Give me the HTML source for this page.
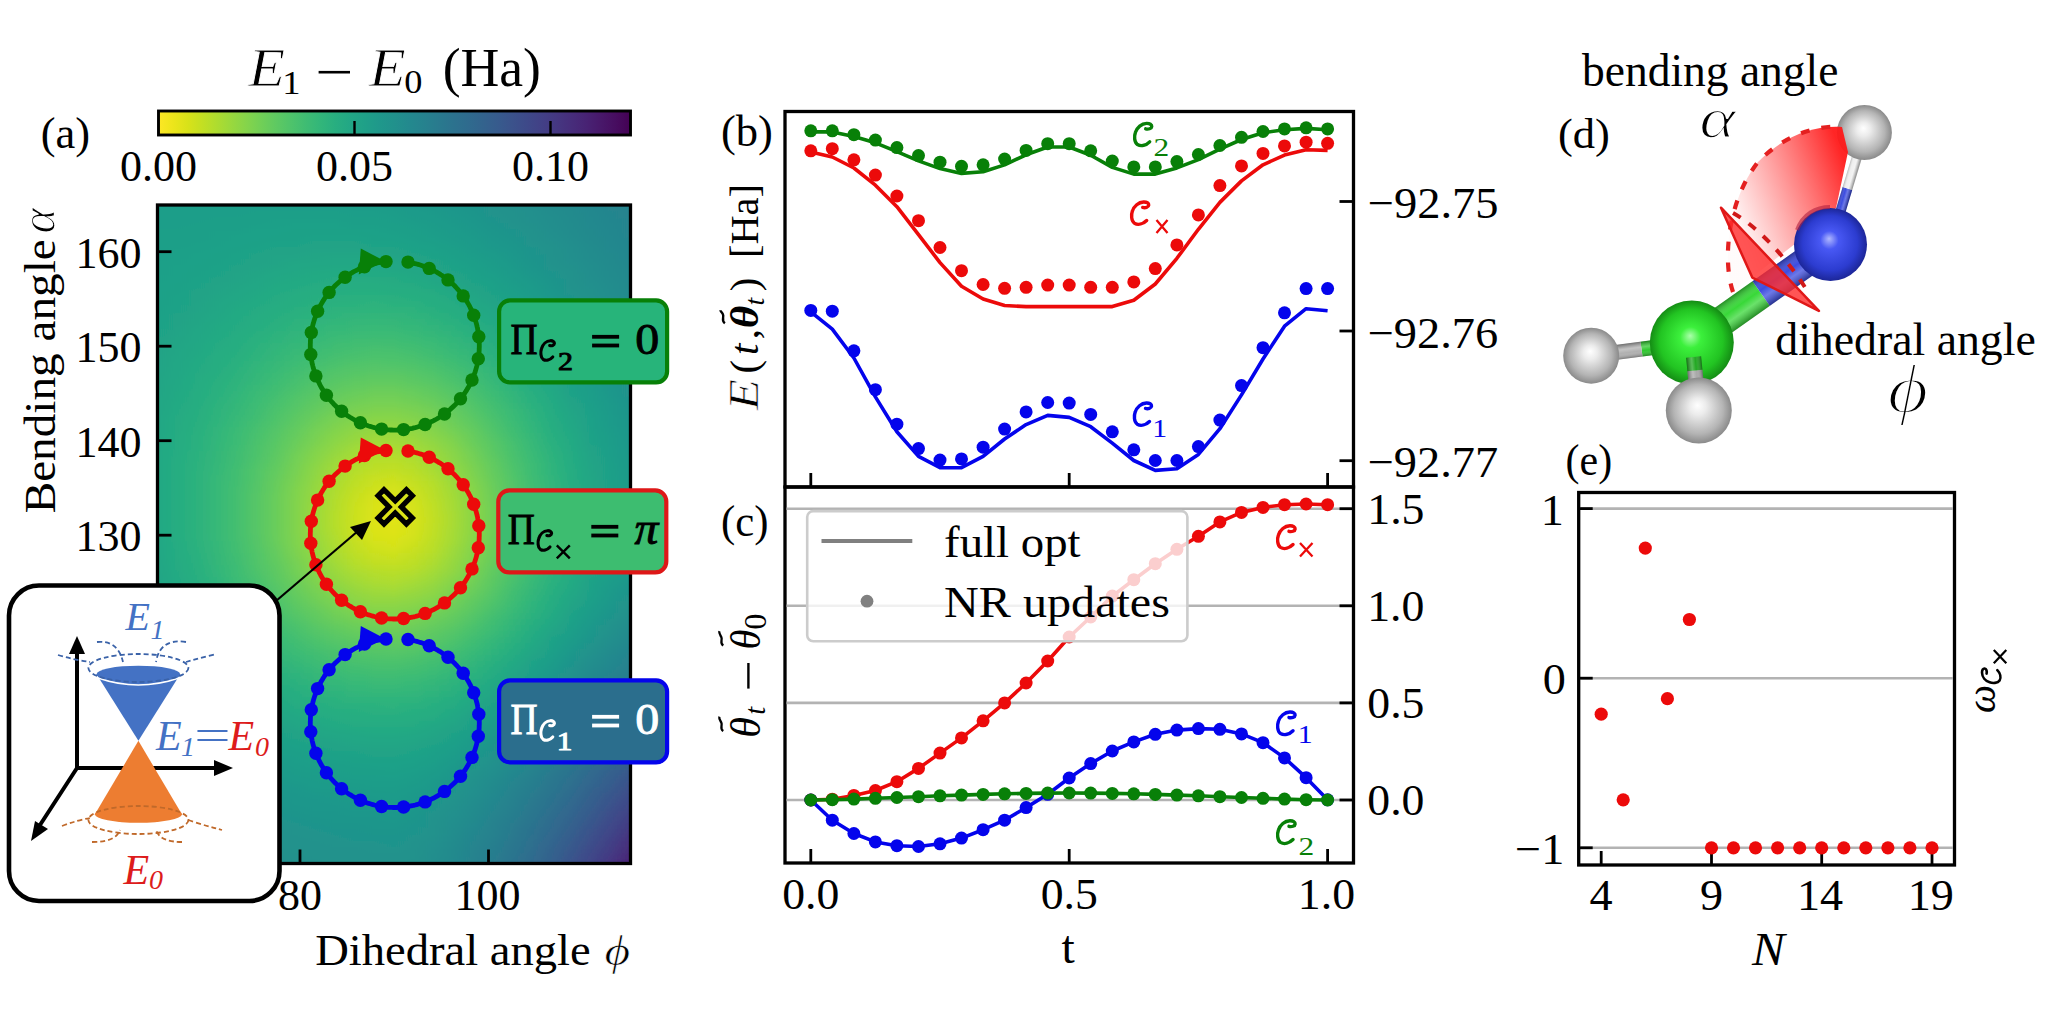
<!DOCTYPE html>
<html><head><meta charset="utf-8"><style>
html,body{margin:0;padding:0;background:#fff;width:2048px;height:1024px;overflow:hidden}
svg{display:block}
text{font-family:"Liberation Serif", serif}
</style></head><body>
<svg width="2048" height="1024" viewBox="0 0 2048 1024">
<defs><path id="calC" d="M19.3 21.8 C15 26 9 27.5 4.5 25 C0.5 22.5 0.5 15 2 11 C4 5 9.5 0.5 15.6 0.3 C19.5 0.2 22 1.8 21.8 4 C21.6 6.5 17.5 7.5 14.5 6.7" fill="none" stroke-linecap="round" stroke-linejoin="round" vector-effect="non-scaling-stroke"/>
<linearGradient id="cbar" x1="0" y1="0" x2="1" y2="0"><stop offset="0.0000" stop-color="#fde725"/><stop offset="0.0312" stop-color="#ece51b"/><stop offset="0.0625" stop-color="#d8e219"/><stop offset="0.0938" stop-color="#c2df23"/><stop offset="0.1250" stop-color="#addc30"/><stop offset="0.1562" stop-color="#98d83e"/><stop offset="0.1875" stop-color="#84d44b"/><stop offset="0.2188" stop-color="#70cf57"/><stop offset="0.2500" stop-color="#5ec962"/><stop offset="0.2812" stop-color="#4ec36b"/><stop offset="0.3125" stop-color="#3fbc73"/><stop offset="0.3438" stop-color="#32b67a"/><stop offset="0.3750" stop-color="#28ae80"/><stop offset="0.4062" stop-color="#22a785"/><stop offset="0.4375" stop-color="#1fa088"/><stop offset="0.4688" stop-color="#1f988b"/><stop offset="0.5000" stop-color="#21918c"/><stop offset="0.5312" stop-color="#23898e"/><stop offset="0.5625" stop-color="#26828e"/><stop offset="0.5938" stop-color="#297a8e"/><stop offset="0.6250" stop-color="#2c728e"/><stop offset="0.6562" stop-color="#2f6b8e"/><stop offset="0.6875" stop-color="#33638d"/><stop offset="0.7188" stop-color="#375b8d"/><stop offset="0.7500" stop-color="#3b528b"/><stop offset="0.7812" stop-color="#3e4989"/><stop offset="0.8125" stop-color="#424086"/><stop offset="0.8438" stop-color="#453781"/><stop offset="0.8750" stop-color="#472d7b"/><stop offset="0.9062" stop-color="#482374"/><stop offset="0.9375" stop-color="#48186a"/><stop offset="0.9688" stop-color="#470d60"/><stop offset="1.0000" stop-color="#440154"/></linearGradient>
<linearGradient id="h0" x1="0" y1="0" x2="1" y2="0"><stop offset="0.0000" stop-color="#1f9e89"/><stop offset="0.0417" stop-color="#1f9e89"/><stop offset="0.0833" stop-color="#1e9d89"/><stop offset="0.1250" stop-color="#1e9d89"/><stop offset="0.1667" stop-color="#1e9d89"/><stop offset="0.2083" stop-color="#1f9e89"/><stop offset="0.2500" stop-color="#1f9e89"/><stop offset="0.2917" stop-color="#1f9e89"/><stop offset="0.3333" stop-color="#1e9d89"/><stop offset="0.3750" stop-color="#1e9d89"/><stop offset="0.4167" stop-color="#1e9c89"/><stop offset="0.4583" stop-color="#1e9c89"/><stop offset="0.5000" stop-color="#1e9b8a"/><stop offset="0.5417" stop-color="#1f998a"/><stop offset="0.5833" stop-color="#1f988b"/><stop offset="0.6250" stop-color="#1f968b"/><stop offset="0.6667" stop-color="#1f948c"/><stop offset="0.7083" stop-color="#20928c"/><stop offset="0.7500" stop-color="#21908d"/><stop offset="0.7917" stop-color="#218e8d"/><stop offset="0.8333" stop-color="#228c8d"/><stop offset="0.8750" stop-color="#23898e"/><stop offset="0.9167" stop-color="#24878e"/><stop offset="0.9583" stop-color="#25858e"/><stop offset="1.0000" stop-color="#25838e"/></linearGradient>
<linearGradient id="h1" x1="0" y1="0" x2="1" y2="0"><stop offset="0.0000" stop-color="#1f9e89"/><stop offset="0.0417" stop-color="#1f9e89"/><stop offset="0.0833" stop-color="#1f9e89"/><stop offset="0.1250" stop-color="#1f9e89"/><stop offset="0.1667" stop-color="#1f9e89"/><stop offset="0.2083" stop-color="#1f9e89"/><stop offset="0.2500" stop-color="#1f9e89"/><stop offset="0.2917" stop-color="#1f9e89"/><stop offset="0.3333" stop-color="#1f9e89"/><stop offset="0.3750" stop-color="#1f9e89"/><stop offset="0.4167" stop-color="#1e9d89"/><stop offset="0.4583" stop-color="#1e9d89"/><stop offset="0.5000" stop-color="#1e9c89"/><stop offset="0.5417" stop-color="#1f9a8a"/><stop offset="0.5833" stop-color="#1f998a"/><stop offset="0.6250" stop-color="#1f978b"/><stop offset="0.6667" stop-color="#1f958b"/><stop offset="0.7083" stop-color="#20938c"/><stop offset="0.7500" stop-color="#21918c"/><stop offset="0.7917" stop-color="#218f8d"/><stop offset="0.8333" stop-color="#228c8d"/><stop offset="0.8750" stop-color="#238a8d"/><stop offset="0.9167" stop-color="#23888e"/><stop offset="0.9583" stop-color="#25858e"/><stop offset="1.0000" stop-color="#25838e"/></linearGradient>
<linearGradient id="h2" x1="0" y1="0" x2="1" y2="0"><stop offset="0.0000" stop-color="#1f9e89"/><stop offset="0.0417" stop-color="#1f9e89"/><stop offset="0.0833" stop-color="#1f9e89"/><stop offset="0.1250" stop-color="#1f9e89"/><stop offset="0.1667" stop-color="#1f9e89"/><stop offset="0.2083" stop-color="#1f9f88"/><stop offset="0.2500" stop-color="#1f9f88"/><stop offset="0.2917" stop-color="#1f9f88"/><stop offset="0.3333" stop-color="#1f9f88"/><stop offset="0.3750" stop-color="#1f9f88"/><stop offset="0.4167" stop-color="#1f9e89"/><stop offset="0.4583" stop-color="#1f9e89"/><stop offset="0.5000" stop-color="#1e9d89"/><stop offset="0.5417" stop-color="#1e9b8a"/><stop offset="0.5833" stop-color="#1f9a8a"/><stop offset="0.6250" stop-color="#1f988b"/><stop offset="0.6667" stop-color="#1f968b"/><stop offset="0.7083" stop-color="#20938c"/><stop offset="0.7500" stop-color="#20928c"/><stop offset="0.7917" stop-color="#21908d"/><stop offset="0.8333" stop-color="#228d8d"/><stop offset="0.8750" stop-color="#228b8d"/><stop offset="0.9167" stop-color="#23888e"/><stop offset="0.9583" stop-color="#24868e"/><stop offset="1.0000" stop-color="#25848e"/></linearGradient>
<linearGradient id="h3" x1="0" y1="0" x2="1" y2="0"><stop offset="0.0000" stop-color="#1f9e89"/><stop offset="0.0417" stop-color="#1f9e89"/><stop offset="0.0833" stop-color="#1f9e89"/><stop offset="0.1250" stop-color="#1f9f88"/><stop offset="0.1667" stop-color="#1f9f88"/><stop offset="0.2083" stop-color="#1f9f88"/><stop offset="0.2500" stop-color="#1fa088"/><stop offset="0.2917" stop-color="#1fa088"/><stop offset="0.3333" stop-color="#1fa088"/><stop offset="0.3750" stop-color="#1fa088"/><stop offset="0.4167" stop-color="#1f9f88"/><stop offset="0.4583" stop-color="#1f9f88"/><stop offset="0.5000" stop-color="#1f9e89"/><stop offset="0.5417" stop-color="#1e9c89"/><stop offset="0.5833" stop-color="#1e9b8a"/><stop offset="0.6250" stop-color="#1f998a"/><stop offset="0.6667" stop-color="#1f978b"/><stop offset="0.7083" stop-color="#1f948c"/><stop offset="0.7500" stop-color="#20928c"/><stop offset="0.7917" stop-color="#21908d"/><stop offset="0.8333" stop-color="#218e8d"/><stop offset="0.8750" stop-color="#228b8d"/><stop offset="0.9167" stop-color="#23898e"/><stop offset="0.9583" stop-color="#24868e"/><stop offset="1.0000" stop-color="#25848e"/></linearGradient>
<linearGradient id="h4" x1="0" y1="0" x2="1" y2="0"><stop offset="0.0000" stop-color="#1f9e89"/><stop offset="0.0417" stop-color="#1f9e89"/><stop offset="0.0833" stop-color="#1f9f88"/><stop offset="0.1250" stop-color="#1f9f88"/><stop offset="0.1667" stop-color="#1f9f88"/><stop offset="0.2083" stop-color="#1fa088"/><stop offset="0.2500" stop-color="#1fa088"/><stop offset="0.2917" stop-color="#1fa188"/><stop offset="0.3333" stop-color="#1fa188"/><stop offset="0.3750" stop-color="#1fa188"/><stop offset="0.4167" stop-color="#1fa088"/><stop offset="0.4583" stop-color="#1fa088"/><stop offset="0.5000" stop-color="#1f9f88"/><stop offset="0.5417" stop-color="#1f9e89"/><stop offset="0.5833" stop-color="#1e9c89"/><stop offset="0.6250" stop-color="#1f9a8a"/><stop offset="0.6667" stop-color="#1f988b"/><stop offset="0.7083" stop-color="#1f958b"/><stop offset="0.7500" stop-color="#20938c"/><stop offset="0.7917" stop-color="#21918c"/><stop offset="0.8333" stop-color="#218e8d"/><stop offset="0.8750" stop-color="#228c8d"/><stop offset="0.9167" stop-color="#23898e"/><stop offset="0.9583" stop-color="#24878e"/><stop offset="1.0000" stop-color="#25858e"/></linearGradient>
<linearGradient id="h5" x1="0" y1="0" x2="1" y2="0"><stop offset="0.0000" stop-color="#1f9f88"/><stop offset="0.0417" stop-color="#1f9f88"/><stop offset="0.0833" stop-color="#1f9f88"/><stop offset="0.1250" stop-color="#1fa088"/><stop offset="0.1667" stop-color="#1fa088"/><stop offset="0.2083" stop-color="#1fa188"/><stop offset="0.2500" stop-color="#1fa188"/><stop offset="0.2917" stop-color="#1fa187"/><stop offset="0.3333" stop-color="#1fa187"/><stop offset="0.3750" stop-color="#1fa187"/><stop offset="0.4167" stop-color="#1fa187"/><stop offset="0.4583" stop-color="#1fa188"/><stop offset="0.5000" stop-color="#1fa088"/><stop offset="0.5417" stop-color="#1f9f88"/><stop offset="0.5833" stop-color="#1e9d89"/><stop offset="0.6250" stop-color="#1e9b8a"/><stop offset="0.6667" stop-color="#1f998a"/><stop offset="0.7083" stop-color="#1f968b"/><stop offset="0.7500" stop-color="#1f948c"/><stop offset="0.7917" stop-color="#20928c"/><stop offset="0.8333" stop-color="#218f8d"/><stop offset="0.8750" stop-color="#228c8d"/><stop offset="0.9167" stop-color="#238a8d"/><stop offset="0.9583" stop-color="#24878e"/><stop offset="1.0000" stop-color="#25858e"/></linearGradient>
<linearGradient id="h6" x1="0" y1="0" x2="1" y2="0"><stop offset="0.0000" stop-color="#1f9f88"/><stop offset="0.0417" stop-color="#1f9f88"/><stop offset="0.0833" stop-color="#1f9f88"/><stop offset="0.1250" stop-color="#1fa088"/><stop offset="0.1667" stop-color="#1fa188"/><stop offset="0.2083" stop-color="#1fa188"/><stop offset="0.2500" stop-color="#1fa187"/><stop offset="0.2917" stop-color="#1fa187"/><stop offset="0.3333" stop-color="#1fa287"/><stop offset="0.3750" stop-color="#1fa287"/><stop offset="0.4167" stop-color="#1fa287"/><stop offset="0.4583" stop-color="#1fa187"/><stop offset="0.5000" stop-color="#1fa188"/><stop offset="0.5417" stop-color="#1fa088"/><stop offset="0.5833" stop-color="#1f9e89"/><stop offset="0.6250" stop-color="#1e9c89"/><stop offset="0.6667" stop-color="#1f9a8a"/><stop offset="0.7083" stop-color="#1f978b"/><stop offset="0.7500" stop-color="#1f958b"/><stop offset="0.7917" stop-color="#20928c"/><stop offset="0.8333" stop-color="#21908d"/><stop offset="0.8750" stop-color="#228d8d"/><stop offset="0.9167" stop-color="#238a8d"/><stop offset="0.9583" stop-color="#23888e"/><stop offset="1.0000" stop-color="#25858e"/></linearGradient>
<linearGradient id="h7" x1="0" y1="0" x2="1" y2="0"><stop offset="0.0000" stop-color="#1f9f88"/><stop offset="0.0417" stop-color="#1f9f88"/><stop offset="0.0833" stop-color="#1fa088"/><stop offset="0.1250" stop-color="#1fa088"/><stop offset="0.1667" stop-color="#1fa188"/><stop offset="0.2083" stop-color="#1fa187"/><stop offset="0.2500" stop-color="#1fa287"/><stop offset="0.2917" stop-color="#1fa287"/><stop offset="0.3333" stop-color="#20a386"/><stop offset="0.3750" stop-color="#20a386"/><stop offset="0.4167" stop-color="#20a386"/><stop offset="0.4583" stop-color="#1fa287"/><stop offset="0.5000" stop-color="#1fa287"/><stop offset="0.5417" stop-color="#1fa188"/><stop offset="0.5833" stop-color="#1fa088"/><stop offset="0.6250" stop-color="#1e9d89"/><stop offset="0.6667" stop-color="#1e9b8a"/><stop offset="0.7083" stop-color="#1f988b"/><stop offset="0.7500" stop-color="#1f968b"/><stop offset="0.7917" stop-color="#20938c"/><stop offset="0.8333" stop-color="#21918c"/><stop offset="0.8750" stop-color="#218e8d"/><stop offset="0.9167" stop-color="#228b8d"/><stop offset="0.9583" stop-color="#23888e"/><stop offset="1.0000" stop-color="#24868e"/></linearGradient>
<linearGradient id="h8" x1="0" y1="0" x2="1" y2="0"><stop offset="0.0000" stop-color="#1f9f88"/><stop offset="0.0417" stop-color="#1fa088"/><stop offset="0.0833" stop-color="#1fa088"/><stop offset="0.1250" stop-color="#1fa188"/><stop offset="0.1667" stop-color="#1fa187"/><stop offset="0.2083" stop-color="#1fa287"/><stop offset="0.2500" stop-color="#20a386"/><stop offset="0.2917" stop-color="#20a386"/><stop offset="0.3333" stop-color="#20a486"/><stop offset="0.3750" stop-color="#20a486"/><stop offset="0.4167" stop-color="#20a486"/><stop offset="0.4583" stop-color="#20a486"/><stop offset="0.5000" stop-color="#20a386"/><stop offset="0.5417" stop-color="#1fa287"/><stop offset="0.5833" stop-color="#1fa188"/><stop offset="0.6250" stop-color="#1f9f88"/><stop offset="0.6667" stop-color="#1e9c89"/><stop offset="0.7083" stop-color="#1f998a"/><stop offset="0.7500" stop-color="#1f978b"/><stop offset="0.7917" stop-color="#1f948c"/><stop offset="0.8333" stop-color="#20928c"/><stop offset="0.8750" stop-color="#218f8d"/><stop offset="0.9167" stop-color="#228c8d"/><stop offset="0.9583" stop-color="#23898e"/><stop offset="1.0000" stop-color="#24868e"/></linearGradient>
<linearGradient id="h9" x1="0" y1="0" x2="1" y2="0"><stop offset="0.0000" stop-color="#1f9f88"/><stop offset="0.0417" stop-color="#1fa088"/><stop offset="0.0833" stop-color="#1fa188"/><stop offset="0.1250" stop-color="#1fa187"/><stop offset="0.1667" stop-color="#1fa287"/><stop offset="0.2083" stop-color="#20a386"/><stop offset="0.2500" stop-color="#20a486"/><stop offset="0.2917" stop-color="#20a486"/><stop offset="0.3333" stop-color="#21a585"/><stop offset="0.3750" stop-color="#21a685"/><stop offset="0.4167" stop-color="#21a685"/><stop offset="0.4583" stop-color="#21a585"/><stop offset="0.5000" stop-color="#20a486"/><stop offset="0.5417" stop-color="#20a386"/><stop offset="0.5833" stop-color="#1fa187"/><stop offset="0.6250" stop-color="#1fa088"/><stop offset="0.6667" stop-color="#1e9d89"/><stop offset="0.7083" stop-color="#1e9b8a"/><stop offset="0.7500" stop-color="#1f988b"/><stop offset="0.7917" stop-color="#1f948c"/><stop offset="0.8333" stop-color="#20928c"/><stop offset="0.8750" stop-color="#218f8d"/><stop offset="0.9167" stop-color="#228c8d"/><stop offset="0.9583" stop-color="#238a8d"/><stop offset="1.0000" stop-color="#24878e"/></linearGradient>
<linearGradient id="h10" x1="0" y1="0" x2="1" y2="0"><stop offset="0.0000" stop-color="#1fa088"/><stop offset="0.0417" stop-color="#1fa088"/><stop offset="0.0833" stop-color="#1fa188"/><stop offset="0.1250" stop-color="#1fa187"/><stop offset="0.1667" stop-color="#1fa287"/><stop offset="0.2083" stop-color="#20a386"/><stop offset="0.2500" stop-color="#20a486"/><stop offset="0.2917" stop-color="#21a685"/><stop offset="0.3333" stop-color="#21a685"/><stop offset="0.3750" stop-color="#22a785"/><stop offset="0.4167" stop-color="#22a785"/><stop offset="0.4583" stop-color="#22a785"/><stop offset="0.5000" stop-color="#21a685"/><stop offset="0.5417" stop-color="#21a585"/><stop offset="0.5833" stop-color="#20a386"/><stop offset="0.6250" stop-color="#1fa188"/><stop offset="0.6667" stop-color="#1f9f88"/><stop offset="0.7083" stop-color="#1e9c89"/><stop offset="0.7500" stop-color="#1f998a"/><stop offset="0.7917" stop-color="#1f958b"/><stop offset="0.8333" stop-color="#20928c"/><stop offset="0.8750" stop-color="#21908d"/><stop offset="0.9167" stop-color="#228d8d"/><stop offset="0.9583" stop-color="#238a8d"/><stop offset="1.0000" stop-color="#24878e"/></linearGradient>
<linearGradient id="h11" x1="0" y1="0" x2="1" y2="0"><stop offset="0.0000" stop-color="#1fa088"/><stop offset="0.0417" stop-color="#1fa188"/><stop offset="0.0833" stop-color="#1fa187"/><stop offset="0.1250" stop-color="#1fa287"/><stop offset="0.1667" stop-color="#20a386"/><stop offset="0.2083" stop-color="#20a486"/><stop offset="0.2500" stop-color="#21a585"/><stop offset="0.2917" stop-color="#22a785"/><stop offset="0.3333" stop-color="#22a884"/><stop offset="0.3750" stop-color="#22a884"/><stop offset="0.4167" stop-color="#22a884"/><stop offset="0.4583" stop-color="#22a884"/><stop offset="0.5000" stop-color="#22a785"/><stop offset="0.5417" stop-color="#21a685"/><stop offset="0.5833" stop-color="#20a486"/><stop offset="0.6250" stop-color="#1fa287"/><stop offset="0.6667" stop-color="#1fa088"/><stop offset="0.7083" stop-color="#1e9d89"/><stop offset="0.7500" stop-color="#1f9a8a"/><stop offset="0.7917" stop-color="#1f968b"/><stop offset="0.8333" stop-color="#20938c"/><stop offset="0.8750" stop-color="#21918c"/><stop offset="0.9167" stop-color="#218e8d"/><stop offset="0.9583" stop-color="#228b8d"/><stop offset="1.0000" stop-color="#23888e"/></linearGradient>
<linearGradient id="h12" x1="0" y1="0" x2="1" y2="0"><stop offset="0.0000" stop-color="#1fa088"/><stop offset="0.0417" stop-color="#1fa188"/><stop offset="0.0833" stop-color="#1fa187"/><stop offset="0.1250" stop-color="#1fa287"/><stop offset="0.1667" stop-color="#20a486"/><stop offset="0.2083" stop-color="#21a585"/><stop offset="0.2500" stop-color="#22a785"/><stop offset="0.2917" stop-color="#22a884"/><stop offset="0.3333" stop-color="#23a983"/><stop offset="0.3750" stop-color="#24aa83"/><stop offset="0.4167" stop-color="#24aa83"/><stop offset="0.4583" stop-color="#24aa83"/><stop offset="0.5000" stop-color="#23a983"/><stop offset="0.5417" stop-color="#22a884"/><stop offset="0.5833" stop-color="#21a685"/><stop offset="0.6250" stop-color="#20a386"/><stop offset="0.6667" stop-color="#1fa188"/><stop offset="0.7083" stop-color="#1f9e89"/><stop offset="0.7500" stop-color="#1e9b8a"/><stop offset="0.7917" stop-color="#1f978b"/><stop offset="0.8333" stop-color="#1f948c"/><stop offset="0.8750" stop-color="#20928c"/><stop offset="0.9167" stop-color="#218e8d"/><stop offset="0.9583" stop-color="#228b8d"/><stop offset="1.0000" stop-color="#23898e"/></linearGradient>
<linearGradient id="h13" x1="0" y1="0" x2="1" y2="0"><stop offset="0.0000" stop-color="#1fa088"/><stop offset="0.0417" stop-color="#1fa188"/><stop offset="0.0833" stop-color="#1fa287"/><stop offset="0.1250" stop-color="#20a386"/><stop offset="0.1667" stop-color="#20a486"/><stop offset="0.2083" stop-color="#21a685"/><stop offset="0.2500" stop-color="#22a884"/><stop offset="0.2917" stop-color="#23a983"/><stop offset="0.3333" stop-color="#24aa83"/><stop offset="0.3750" stop-color="#25ab82"/><stop offset="0.4167" stop-color="#25ac82"/><stop offset="0.4583" stop-color="#25ab82"/><stop offset="0.5000" stop-color="#25ab82"/><stop offset="0.5417" stop-color="#23a983"/><stop offset="0.5833" stop-color="#22a785"/><stop offset="0.6250" stop-color="#21a585"/><stop offset="0.6667" stop-color="#1fa287"/><stop offset="0.7083" stop-color="#1fa088"/><stop offset="0.7500" stop-color="#1e9c89"/><stop offset="0.7917" stop-color="#1f998a"/><stop offset="0.8333" stop-color="#1f958b"/><stop offset="0.8750" stop-color="#20928c"/><stop offset="0.9167" stop-color="#218f8d"/><stop offset="0.9583" stop-color="#228c8d"/><stop offset="1.0000" stop-color="#23898e"/></linearGradient>
<linearGradient id="h14" x1="0" y1="0" x2="1" y2="0"><stop offset="0.0000" stop-color="#1fa188"/><stop offset="0.0417" stop-color="#1fa187"/><stop offset="0.0833" stop-color="#1fa287"/><stop offset="0.1250" stop-color="#20a486"/><stop offset="0.1667" stop-color="#21a585"/><stop offset="0.2083" stop-color="#22a785"/><stop offset="0.2500" stop-color="#23a983"/><stop offset="0.2917" stop-color="#24aa83"/><stop offset="0.3333" stop-color="#25ac82"/><stop offset="0.3750" stop-color="#26ad81"/><stop offset="0.4167" stop-color="#26ad81"/><stop offset="0.4583" stop-color="#26ad81"/><stop offset="0.5000" stop-color="#25ac82"/><stop offset="0.5417" stop-color="#25ab82"/><stop offset="0.5833" stop-color="#23a983"/><stop offset="0.6250" stop-color="#21a685"/><stop offset="0.6667" stop-color="#20a386"/><stop offset="0.7083" stop-color="#1fa188"/><stop offset="0.7500" stop-color="#1e9d89"/><stop offset="0.7917" stop-color="#1f9a8a"/><stop offset="0.8333" stop-color="#1f968b"/><stop offset="0.8750" stop-color="#20928c"/><stop offset="0.9167" stop-color="#21908d"/><stop offset="0.9583" stop-color="#228d8d"/><stop offset="1.0000" stop-color="#238a8d"/></linearGradient>
<linearGradient id="h15" x1="0" y1="0" x2="1" y2="0"><stop offset="0.0000" stop-color="#1fa188"/><stop offset="0.0417" stop-color="#1fa187"/><stop offset="0.0833" stop-color="#20a386"/><stop offset="0.1250" stop-color="#20a486"/><stop offset="0.1667" stop-color="#21a685"/><stop offset="0.2083" stop-color="#22a884"/><stop offset="0.2500" stop-color="#24aa83"/><stop offset="0.2917" stop-color="#25ac82"/><stop offset="0.3333" stop-color="#26ad81"/><stop offset="0.3750" stop-color="#27ad81"/><stop offset="0.4167" stop-color="#28ae80"/><stop offset="0.4583" stop-color="#28ae80"/><stop offset="0.5000" stop-color="#27ad81"/><stop offset="0.5417" stop-color="#26ad81"/><stop offset="0.5833" stop-color="#25ab82"/><stop offset="0.6250" stop-color="#22a884"/><stop offset="0.6667" stop-color="#21a585"/><stop offset="0.7083" stop-color="#1fa187"/><stop offset="0.7500" stop-color="#1f9f88"/><stop offset="0.7917" stop-color="#1e9b8a"/><stop offset="0.8333" stop-color="#1f978b"/><stop offset="0.8750" stop-color="#20938c"/><stop offset="0.9167" stop-color="#21918c"/><stop offset="0.9583" stop-color="#228d8d"/><stop offset="1.0000" stop-color="#238a8d"/></linearGradient>
<linearGradient id="h16" x1="0" y1="0" x2="1" y2="0"><stop offset="0.0000" stop-color="#1fa188"/><stop offset="0.0417" stop-color="#1fa287"/><stop offset="0.0833" stop-color="#20a386"/><stop offset="0.1250" stop-color="#21a585"/><stop offset="0.1667" stop-color="#22a785"/><stop offset="0.2083" stop-color="#23a983"/><stop offset="0.2500" stop-color="#25ab82"/><stop offset="0.2917" stop-color="#26ad81"/><stop offset="0.3333" stop-color="#28ae80"/><stop offset="0.3750" stop-color="#29af7f"/><stop offset="0.4167" stop-color="#2ab07f"/><stop offset="0.4583" stop-color="#2ab07f"/><stop offset="0.5000" stop-color="#29af7f"/><stop offset="0.5417" stop-color="#28ae80"/><stop offset="0.5833" stop-color="#26ad81"/><stop offset="0.6250" stop-color="#24aa83"/><stop offset="0.6667" stop-color="#21a685"/><stop offset="0.7083" stop-color="#20a386"/><stop offset="0.7500" stop-color="#1fa088"/><stop offset="0.7917" stop-color="#1e9c89"/><stop offset="0.8333" stop-color="#1f988b"/><stop offset="0.8750" stop-color="#1f948c"/><stop offset="0.9167" stop-color="#21918c"/><stop offset="0.9583" stop-color="#218e8d"/><stop offset="1.0000" stop-color="#228b8d"/></linearGradient>
<linearGradient id="h17" x1="0" y1="0" x2="1" y2="0"><stop offset="0.0000" stop-color="#1fa187"/><stop offset="0.0417" stop-color="#1fa287"/><stop offset="0.0833" stop-color="#20a486"/><stop offset="0.1250" stop-color="#21a685"/><stop offset="0.1667" stop-color="#22a884"/><stop offset="0.2083" stop-color="#24aa83"/><stop offset="0.2500" stop-color="#25ac82"/><stop offset="0.2917" stop-color="#27ad81"/><stop offset="0.3333" stop-color="#29af7f"/><stop offset="0.3750" stop-color="#2cb17e"/><stop offset="0.4167" stop-color="#2cb17e"/><stop offset="0.4583" stop-color="#2db27d"/><stop offset="0.5000" stop-color="#2cb17e"/><stop offset="0.5417" stop-color="#2ab07f"/><stop offset="0.5833" stop-color="#27ad81"/><stop offset="0.6250" stop-color="#25ac82"/><stop offset="0.6667" stop-color="#22a884"/><stop offset="0.7083" stop-color="#20a486"/><stop offset="0.7500" stop-color="#1fa188"/><stop offset="0.7917" stop-color="#1e9d89"/><stop offset="0.8333" stop-color="#1f998a"/><stop offset="0.8750" stop-color="#1f958b"/><stop offset="0.9167" stop-color="#20928c"/><stop offset="0.9583" stop-color="#218f8d"/><stop offset="1.0000" stop-color="#228b8d"/></linearGradient>
<linearGradient id="h18" x1="0" y1="0" x2="1" y2="0"><stop offset="0.0000" stop-color="#1fa187"/><stop offset="0.0417" stop-color="#1fa287"/><stop offset="0.0833" stop-color="#20a486"/><stop offset="0.1250" stop-color="#21a685"/><stop offset="0.1667" stop-color="#23a983"/><stop offset="0.2083" stop-color="#25ab82"/><stop offset="0.2500" stop-color="#26ad81"/><stop offset="0.2917" stop-color="#29af7f"/><stop offset="0.3333" stop-color="#2cb17e"/><stop offset="0.3750" stop-color="#2db27d"/><stop offset="0.4167" stop-color="#2eb37c"/><stop offset="0.4583" stop-color="#2fb47c"/><stop offset="0.5000" stop-color="#2eb37c"/><stop offset="0.5417" stop-color="#2db27d"/><stop offset="0.5833" stop-color="#29af7f"/><stop offset="0.6250" stop-color="#26ad81"/><stop offset="0.6667" stop-color="#24aa83"/><stop offset="0.7083" stop-color="#21a685"/><stop offset="0.7500" stop-color="#1fa287"/><stop offset="0.7917" stop-color="#1f9e89"/><stop offset="0.8333" stop-color="#1f9a8a"/><stop offset="0.8750" stop-color="#1f968b"/><stop offset="0.9167" stop-color="#20928c"/><stop offset="0.9583" stop-color="#218f8d"/><stop offset="1.0000" stop-color="#228c8d"/></linearGradient>
<linearGradient id="h19" x1="0" y1="0" x2="1" y2="0"><stop offset="0.0000" stop-color="#1fa187"/><stop offset="0.0417" stop-color="#20a386"/><stop offset="0.0833" stop-color="#21a585"/><stop offset="0.1250" stop-color="#22a785"/><stop offset="0.1667" stop-color="#24aa83"/><stop offset="0.2083" stop-color="#25ac82"/><stop offset="0.2500" stop-color="#28ae80"/><stop offset="0.2917" stop-color="#2ab07f"/><stop offset="0.3333" stop-color="#2db27d"/><stop offset="0.3750" stop-color="#2fb47c"/><stop offset="0.4167" stop-color="#31b57b"/><stop offset="0.4583" stop-color="#32b67a"/><stop offset="0.5000" stop-color="#31b57b"/><stop offset="0.5417" stop-color="#2fb47c"/><stop offset="0.5833" stop-color="#2cb17e"/><stop offset="0.6250" stop-color="#28ae80"/><stop offset="0.6667" stop-color="#25ab82"/><stop offset="0.7083" stop-color="#22a785"/><stop offset="0.7500" stop-color="#20a386"/><stop offset="0.7917" stop-color="#1f9f88"/><stop offset="0.8333" stop-color="#1e9b8a"/><stop offset="0.8750" stop-color="#1f978b"/><stop offset="0.9167" stop-color="#20938c"/><stop offset="0.9583" stop-color="#21908d"/><stop offset="1.0000" stop-color="#228d8d"/></linearGradient>
<linearGradient id="h20" x1="0" y1="0" x2="1" y2="0"><stop offset="0.0000" stop-color="#1fa287"/><stop offset="0.0417" stop-color="#20a386"/><stop offset="0.0833" stop-color="#21a585"/><stop offset="0.1250" stop-color="#22a884"/><stop offset="0.1667" stop-color="#24aa83"/><stop offset="0.2083" stop-color="#26ad81"/><stop offset="0.2500" stop-color="#29af7f"/><stop offset="0.2917" stop-color="#2db27d"/><stop offset="0.3333" stop-color="#2fb47c"/><stop offset="0.3750" stop-color="#32b67a"/><stop offset="0.4167" stop-color="#34b679"/><stop offset="0.4583" stop-color="#35b779"/><stop offset="0.5000" stop-color="#34b679"/><stop offset="0.5417" stop-color="#32b67a"/><stop offset="0.5833" stop-color="#2eb37c"/><stop offset="0.6250" stop-color="#2ab07f"/><stop offset="0.6667" stop-color="#26ad81"/><stop offset="0.7083" stop-color="#23a983"/><stop offset="0.7500" stop-color="#20a486"/><stop offset="0.7917" stop-color="#1fa188"/><stop offset="0.8333" stop-color="#1e9c89"/><stop offset="0.8750" stop-color="#1f988b"/><stop offset="0.9167" stop-color="#1f948c"/><stop offset="0.9583" stop-color="#21918c"/><stop offset="1.0000" stop-color="#228d8d"/></linearGradient>
<linearGradient id="h21" x1="0" y1="0" x2="1" y2="0"><stop offset="0.0000" stop-color="#1fa287"/><stop offset="0.0417" stop-color="#20a486"/><stop offset="0.0833" stop-color="#21a685"/><stop offset="0.1250" stop-color="#23a983"/><stop offset="0.1667" stop-color="#25ab82"/><stop offset="0.2083" stop-color="#27ad81"/><stop offset="0.2500" stop-color="#2ab07f"/><stop offset="0.2917" stop-color="#2eb37c"/><stop offset="0.3333" stop-color="#32b67a"/><stop offset="0.3750" stop-color="#35b779"/><stop offset="0.4167" stop-color="#37b878"/><stop offset="0.4583" stop-color="#38b977"/><stop offset="0.5000" stop-color="#37b878"/><stop offset="0.5417" stop-color="#35b779"/><stop offset="0.5833" stop-color="#31b57b"/><stop offset="0.6250" stop-color="#2db27d"/><stop offset="0.6667" stop-color="#28ae80"/><stop offset="0.7083" stop-color="#25ab82"/><stop offset="0.7500" stop-color="#21a685"/><stop offset="0.7917" stop-color="#1fa187"/><stop offset="0.8333" stop-color="#1e9d89"/><stop offset="0.8750" stop-color="#1f998a"/><stop offset="0.9167" stop-color="#1f948c"/><stop offset="0.9583" stop-color="#21918c"/><stop offset="1.0000" stop-color="#218e8d"/></linearGradient>
<linearGradient id="h22" x1="0" y1="0" x2="1" y2="0"><stop offset="0.0000" stop-color="#1fa287"/><stop offset="0.0417" stop-color="#20a486"/><stop offset="0.0833" stop-color="#22a785"/><stop offset="0.1250" stop-color="#23a983"/><stop offset="0.1667" stop-color="#25ac82"/><stop offset="0.2083" stop-color="#29af7f"/><stop offset="0.2500" stop-color="#2db27d"/><stop offset="0.2917" stop-color="#31b57b"/><stop offset="0.3333" stop-color="#35b779"/><stop offset="0.3750" stop-color="#38b977"/><stop offset="0.4167" stop-color="#3aba76"/><stop offset="0.4583" stop-color="#3bbb75"/><stop offset="0.5000" stop-color="#3bbb75"/><stop offset="0.5417" stop-color="#38b977"/><stop offset="0.5833" stop-color="#34b679"/><stop offset="0.6250" stop-color="#2fb47c"/><stop offset="0.6667" stop-color="#2ab07f"/><stop offset="0.7083" stop-color="#25ac82"/><stop offset="0.7500" stop-color="#22a785"/><stop offset="0.7917" stop-color="#1fa287"/><stop offset="0.8333" stop-color="#1f9e89"/><stop offset="0.8750" stop-color="#1f9a8a"/><stop offset="0.9167" stop-color="#1f958b"/><stop offset="0.9583" stop-color="#20928c"/><stop offset="1.0000" stop-color="#218e8d"/></linearGradient>
<linearGradient id="h23" x1="0" y1="0" x2="1" y2="0"><stop offset="0.0000" stop-color="#20a386"/><stop offset="0.0417" stop-color="#21a585"/><stop offset="0.0833" stop-color="#22a785"/><stop offset="0.1250" stop-color="#24aa83"/><stop offset="0.1667" stop-color="#26ad81"/><stop offset="0.2083" stop-color="#2ab07f"/><stop offset="0.2500" stop-color="#2eb37c"/><stop offset="0.2917" stop-color="#32b67a"/><stop offset="0.3333" stop-color="#37b878"/><stop offset="0.3750" stop-color="#3bbb75"/><stop offset="0.4167" stop-color="#3fbc73"/><stop offset="0.4583" stop-color="#3fbc73"/><stop offset="0.5000" stop-color="#3fbc73"/><stop offset="0.5417" stop-color="#3bbb75"/><stop offset="0.5833" stop-color="#38b977"/><stop offset="0.6250" stop-color="#32b67a"/><stop offset="0.6667" stop-color="#2db27d"/><stop offset="0.7083" stop-color="#27ad81"/><stop offset="0.7500" stop-color="#23a983"/><stop offset="0.7917" stop-color="#20a486"/><stop offset="0.8333" stop-color="#1f9f88"/><stop offset="0.8750" stop-color="#1e9b8a"/><stop offset="0.9167" stop-color="#1f968b"/><stop offset="0.9583" stop-color="#20928c"/><stop offset="1.0000" stop-color="#218f8d"/></linearGradient>
<linearGradient id="h24" x1="0" y1="0" x2="1" y2="0"><stop offset="0.0000" stop-color="#20a386"/><stop offset="0.0417" stop-color="#21a585"/><stop offset="0.0833" stop-color="#22a884"/><stop offset="0.1250" stop-color="#25ab82"/><stop offset="0.1667" stop-color="#27ad81"/><stop offset="0.2083" stop-color="#2cb17e"/><stop offset="0.2500" stop-color="#31b57b"/><stop offset="0.2917" stop-color="#35b779"/><stop offset="0.3333" stop-color="#3aba76"/><stop offset="0.3750" stop-color="#3fbc73"/><stop offset="0.4167" stop-color="#42be71"/><stop offset="0.4583" stop-color="#44bf70"/><stop offset="0.5000" stop-color="#42be71"/><stop offset="0.5417" stop-color="#40bd72"/><stop offset="0.5833" stop-color="#3bbb75"/><stop offset="0.6250" stop-color="#35b779"/><stop offset="0.6667" stop-color="#2fb47c"/><stop offset="0.7083" stop-color="#29af7f"/><stop offset="0.7500" stop-color="#24aa83"/><stop offset="0.7917" stop-color="#21a585"/><stop offset="0.8333" stop-color="#1fa188"/><stop offset="0.8750" stop-color="#1e9c89"/><stop offset="0.9167" stop-color="#1f978b"/><stop offset="0.9583" stop-color="#20938c"/><stop offset="1.0000" stop-color="#21908d"/></linearGradient>
<linearGradient id="h25" x1="0" y1="0" x2="1" y2="0"><stop offset="0.0000" stop-color="#20a386"/><stop offset="0.0417" stop-color="#21a685"/><stop offset="0.0833" stop-color="#22a884"/><stop offset="0.1250" stop-color="#25ac82"/><stop offset="0.1667" stop-color="#28ae80"/><stop offset="0.2083" stop-color="#2db27d"/><stop offset="0.2500" stop-color="#32b67a"/><stop offset="0.2917" stop-color="#38b977"/><stop offset="0.3333" stop-color="#3dbc74"/><stop offset="0.3750" stop-color="#42be71"/><stop offset="0.4167" stop-color="#46c06f"/><stop offset="0.4583" stop-color="#48c16e"/><stop offset="0.5000" stop-color="#48c16e"/><stop offset="0.5417" stop-color="#44bf70"/><stop offset="0.5833" stop-color="#3fbc73"/><stop offset="0.6250" stop-color="#38b977"/><stop offset="0.6667" stop-color="#32b67a"/><stop offset="0.7083" stop-color="#2ab07f"/><stop offset="0.7500" stop-color="#25ac82"/><stop offset="0.7917" stop-color="#21a685"/><stop offset="0.8333" stop-color="#1fa187"/><stop offset="0.8750" stop-color="#1e9d89"/><stop offset="0.9167" stop-color="#1f988b"/><stop offset="0.9583" stop-color="#20938c"/><stop offset="1.0000" stop-color="#21908d"/></linearGradient>
<linearGradient id="h26" x1="0" y1="0" x2="1" y2="0"><stop offset="0.0000" stop-color="#20a486"/><stop offset="0.0417" stop-color="#21a685"/><stop offset="0.0833" stop-color="#23a983"/><stop offset="0.1250" stop-color="#26ad81"/><stop offset="0.1667" stop-color="#29af7f"/><stop offset="0.2083" stop-color="#2eb37c"/><stop offset="0.2500" stop-color="#34b679"/><stop offset="0.2917" stop-color="#3aba76"/><stop offset="0.3333" stop-color="#40bd72"/><stop offset="0.3750" stop-color="#46c06f"/><stop offset="0.4167" stop-color="#4ac16d"/><stop offset="0.4583" stop-color="#4cc26c"/><stop offset="0.5000" stop-color="#4cc26c"/><stop offset="0.5417" stop-color="#48c16e"/><stop offset="0.5833" stop-color="#42be71"/><stop offset="0.6250" stop-color="#3bbb75"/><stop offset="0.6667" stop-color="#35b779"/><stop offset="0.7083" stop-color="#2db27d"/><stop offset="0.7500" stop-color="#26ad81"/><stop offset="0.7917" stop-color="#22a884"/><stop offset="0.8333" stop-color="#1fa287"/><stop offset="0.8750" stop-color="#1f9e89"/><stop offset="0.9167" stop-color="#1f998a"/><stop offset="0.9583" stop-color="#1f948c"/><stop offset="1.0000" stop-color="#21918c"/></linearGradient>
<linearGradient id="h27" x1="0" y1="0" x2="1" y2="0"><stop offset="0.0000" stop-color="#20a486"/><stop offset="0.0417" stop-color="#22a785"/><stop offset="0.0833" stop-color="#24aa83"/><stop offset="0.1250" stop-color="#26ad81"/><stop offset="0.1667" stop-color="#2ab07f"/><stop offset="0.2083" stop-color="#31b57b"/><stop offset="0.2500" stop-color="#37b878"/><stop offset="0.2917" stop-color="#3dbc74"/><stop offset="0.3333" stop-color="#44bf70"/><stop offset="0.3750" stop-color="#4ac16d"/><stop offset="0.4167" stop-color="#50c46a"/><stop offset="0.4583" stop-color="#52c569"/><stop offset="0.5000" stop-color="#50c46a"/><stop offset="0.5417" stop-color="#4ec36b"/><stop offset="0.5833" stop-color="#48c16e"/><stop offset="0.6250" stop-color="#40bd72"/><stop offset="0.6667" stop-color="#38b977"/><stop offset="0.7083" stop-color="#2fb47c"/><stop offset="0.7500" stop-color="#28ae80"/><stop offset="0.7917" stop-color="#23a983"/><stop offset="0.8333" stop-color="#20a386"/><stop offset="0.8750" stop-color="#1f9f88"/><stop offset="0.9167" stop-color="#1f998a"/><stop offset="0.9583" stop-color="#1f958b"/><stop offset="1.0000" stop-color="#21918c"/></linearGradient>
<linearGradient id="h28" x1="0" y1="0" x2="1" y2="0"><stop offset="0.0000" stop-color="#20a486"/><stop offset="0.0417" stop-color="#22a785"/><stop offset="0.0833" stop-color="#24aa83"/><stop offset="0.1250" stop-color="#27ad81"/><stop offset="0.1667" stop-color="#2cb17e"/><stop offset="0.2083" stop-color="#32b67a"/><stop offset="0.2500" stop-color="#38b977"/><stop offset="0.2917" stop-color="#40bd72"/><stop offset="0.3333" stop-color="#48c16e"/><stop offset="0.3750" stop-color="#50c46a"/><stop offset="0.4167" stop-color="#54c568"/><stop offset="0.4583" stop-color="#56c667"/><stop offset="0.5000" stop-color="#56c667"/><stop offset="0.5417" stop-color="#52c569"/><stop offset="0.5833" stop-color="#4cc26c"/><stop offset="0.6250" stop-color="#44bf70"/><stop offset="0.6667" stop-color="#3bbb75"/><stop offset="0.7083" stop-color="#32b67a"/><stop offset="0.7500" stop-color="#2ab07f"/><stop offset="0.7917" stop-color="#24aa83"/><stop offset="0.8333" stop-color="#20a486"/><stop offset="0.8750" stop-color="#1fa088"/><stop offset="0.9167" stop-color="#1f9a8a"/><stop offset="0.9583" stop-color="#1f958b"/><stop offset="1.0000" stop-color="#20928c"/></linearGradient>
<linearGradient id="h29" x1="0" y1="0" x2="1" y2="0"><stop offset="0.0000" stop-color="#21a585"/><stop offset="0.0417" stop-color="#22a785"/><stop offset="0.0833" stop-color="#25ab82"/><stop offset="0.1250" stop-color="#28ae80"/><stop offset="0.1667" stop-color="#2db27d"/><stop offset="0.2083" stop-color="#34b679"/><stop offset="0.2500" stop-color="#3bbb75"/><stop offset="0.2917" stop-color="#44bf70"/><stop offset="0.3333" stop-color="#4cc26c"/><stop offset="0.3750" stop-color="#54c568"/><stop offset="0.4167" stop-color="#58c765"/><stop offset="0.4583" stop-color="#5cc863"/><stop offset="0.5000" stop-color="#5cc863"/><stop offset="0.5417" stop-color="#58c765"/><stop offset="0.5833" stop-color="#52c569"/><stop offset="0.6250" stop-color="#48c16e"/><stop offset="0.6667" stop-color="#3fbc73"/><stop offset="0.7083" stop-color="#35b779"/><stop offset="0.7500" stop-color="#2cb17e"/><stop offset="0.7917" stop-color="#25ac82"/><stop offset="0.8333" stop-color="#21a585"/><stop offset="0.8750" stop-color="#1fa188"/><stop offset="0.9167" stop-color="#1e9b8a"/><stop offset="0.9583" stop-color="#1f968b"/><stop offset="1.0000" stop-color="#20928c"/></linearGradient>
<linearGradient id="h30" x1="0" y1="0" x2="1" y2="0"><stop offset="0.0000" stop-color="#21a585"/><stop offset="0.0417" stop-color="#22a884"/><stop offset="0.0833" stop-color="#25ac82"/><stop offset="0.1250" stop-color="#29af7f"/><stop offset="0.1667" stop-color="#2eb37c"/><stop offset="0.2083" stop-color="#35b779"/><stop offset="0.2500" stop-color="#3dbc74"/><stop offset="0.2917" stop-color="#46c06f"/><stop offset="0.3333" stop-color="#50c46a"/><stop offset="0.3750" stop-color="#58c765"/><stop offset="0.4167" stop-color="#5ec962"/><stop offset="0.4583" stop-color="#60ca60"/><stop offset="0.5000" stop-color="#60ca60"/><stop offset="0.5417" stop-color="#5cc863"/><stop offset="0.5833" stop-color="#56c667"/><stop offset="0.6250" stop-color="#4cc26c"/><stop offset="0.6667" stop-color="#42be71"/><stop offset="0.7083" stop-color="#37b878"/><stop offset="0.7500" stop-color="#2eb37c"/><stop offset="0.7917" stop-color="#26ad81"/><stop offset="0.8333" stop-color="#22a785"/><stop offset="0.8750" stop-color="#1fa187"/><stop offset="0.9167" stop-color="#1e9c89"/><stop offset="0.9583" stop-color="#1f978b"/><stop offset="1.0000" stop-color="#20928c"/></linearGradient>
<linearGradient id="h31" x1="0" y1="0" x2="1" y2="0"><stop offset="0.0000" stop-color="#21a585"/><stop offset="0.0417" stop-color="#22a884"/><stop offset="0.0833" stop-color="#25ac82"/><stop offset="0.1250" stop-color="#2ab07f"/><stop offset="0.1667" stop-color="#2fb47c"/><stop offset="0.2083" stop-color="#38b977"/><stop offset="0.2500" stop-color="#40bd72"/><stop offset="0.2917" stop-color="#4ac16d"/><stop offset="0.3333" stop-color="#54c568"/><stop offset="0.3750" stop-color="#5cc863"/><stop offset="0.4167" stop-color="#63cb5f"/><stop offset="0.4583" stop-color="#67cc5c"/><stop offset="0.5000" stop-color="#67cc5c"/><stop offset="0.5417" stop-color="#63cb5f"/><stop offset="0.5833" stop-color="#5cc863"/><stop offset="0.6250" stop-color="#52c569"/><stop offset="0.6667" stop-color="#46c06f"/><stop offset="0.7083" stop-color="#3aba76"/><stop offset="0.7500" stop-color="#2fb47c"/><stop offset="0.7917" stop-color="#27ad81"/><stop offset="0.8333" stop-color="#22a884"/><stop offset="0.8750" stop-color="#1fa187"/><stop offset="0.9167" stop-color="#1e9d89"/><stop offset="0.9583" stop-color="#1f978b"/><stop offset="1.0000" stop-color="#20938c"/></linearGradient>
<linearGradient id="h32" x1="0" y1="0" x2="1" y2="0"><stop offset="0.0000" stop-color="#21a585"/><stop offset="0.0417" stop-color="#23a983"/><stop offset="0.0833" stop-color="#26ad81"/><stop offset="0.1250" stop-color="#2ab07f"/><stop offset="0.1667" stop-color="#31b57b"/><stop offset="0.2083" stop-color="#3aba76"/><stop offset="0.2500" stop-color="#42be71"/><stop offset="0.2917" stop-color="#4ec36b"/><stop offset="0.3333" stop-color="#58c765"/><stop offset="0.3750" stop-color="#63cb5f"/><stop offset="0.4167" stop-color="#69cd5b"/><stop offset="0.4583" stop-color="#6ece58"/><stop offset="0.5000" stop-color="#6ece58"/><stop offset="0.5417" stop-color="#69cd5b"/><stop offset="0.5833" stop-color="#60ca60"/><stop offset="0.6250" stop-color="#56c667"/><stop offset="0.6667" stop-color="#4ac16d"/><stop offset="0.7083" stop-color="#3dbc74"/><stop offset="0.7500" stop-color="#32b67a"/><stop offset="0.7917" stop-color="#29af7f"/><stop offset="0.8333" stop-color="#23a983"/><stop offset="0.8750" stop-color="#1fa287"/><stop offset="0.9167" stop-color="#1f9e89"/><stop offset="0.9583" stop-color="#1f988b"/><stop offset="1.0000" stop-color="#20938c"/></linearGradient>
<linearGradient id="h33" x1="0" y1="0" x2="1" y2="0"><stop offset="0.0000" stop-color="#21a685"/><stop offset="0.0417" stop-color="#23a983"/><stop offset="0.0833" stop-color="#26ad81"/><stop offset="0.1250" stop-color="#2cb17e"/><stop offset="0.1667" stop-color="#32b67a"/><stop offset="0.2083" stop-color="#3bbb75"/><stop offset="0.2500" stop-color="#46c06f"/><stop offset="0.2917" stop-color="#52c569"/><stop offset="0.3333" stop-color="#5cc863"/><stop offset="0.3750" stop-color="#67cc5c"/><stop offset="0.4167" stop-color="#6ece58"/><stop offset="0.4583" stop-color="#73d056"/><stop offset="0.5000" stop-color="#73d056"/><stop offset="0.5417" stop-color="#6ece58"/><stop offset="0.5833" stop-color="#67cc5c"/><stop offset="0.6250" stop-color="#5ac864"/><stop offset="0.6667" stop-color="#4ec36b"/><stop offset="0.7083" stop-color="#40bd72"/><stop offset="0.7500" stop-color="#34b679"/><stop offset="0.7917" stop-color="#2ab07f"/><stop offset="0.8333" stop-color="#24aa83"/><stop offset="0.8750" stop-color="#20a386"/><stop offset="0.9167" stop-color="#1f9e89"/><stop offset="0.9583" stop-color="#1f998a"/><stop offset="1.0000" stop-color="#1f948c"/></linearGradient>
<linearGradient id="h34" x1="0" y1="0" x2="1" y2="0"><stop offset="0.0000" stop-color="#21a685"/><stop offset="0.0417" stop-color="#24aa83"/><stop offset="0.0833" stop-color="#27ad81"/><stop offset="0.1250" stop-color="#2db27d"/><stop offset="0.1667" stop-color="#34b679"/><stop offset="0.2083" stop-color="#3dbc74"/><stop offset="0.2500" stop-color="#48c16e"/><stop offset="0.2917" stop-color="#54c568"/><stop offset="0.3333" stop-color="#60ca60"/><stop offset="0.3750" stop-color="#6ccd5a"/><stop offset="0.4167" stop-color="#75d054"/><stop offset="0.4583" stop-color="#7ad151"/><stop offset="0.5000" stop-color="#7ad151"/><stop offset="0.5417" stop-color="#75d054"/><stop offset="0.5833" stop-color="#6ccd5a"/><stop offset="0.6250" stop-color="#60ca60"/><stop offset="0.6667" stop-color="#52c569"/><stop offset="0.7083" stop-color="#44bf70"/><stop offset="0.7500" stop-color="#37b878"/><stop offset="0.7917" stop-color="#2cb17e"/><stop offset="0.8333" stop-color="#25ab82"/><stop offset="0.8750" stop-color="#20a486"/><stop offset="0.9167" stop-color="#1f9f88"/><stop offset="0.9583" stop-color="#1f9a8a"/><stop offset="1.0000" stop-color="#1f958b"/></linearGradient>
<linearGradient id="h35" x1="0" y1="0" x2="1" y2="0"><stop offset="0.0000" stop-color="#21a685"/><stop offset="0.0417" stop-color="#24aa83"/><stop offset="0.0833" stop-color="#28ae80"/><stop offset="0.1250" stop-color="#2eb37c"/><stop offset="0.1667" stop-color="#35b779"/><stop offset="0.2083" stop-color="#3fbc73"/><stop offset="0.2500" stop-color="#4cc26c"/><stop offset="0.2917" stop-color="#58c765"/><stop offset="0.3333" stop-color="#65cb5e"/><stop offset="0.3750" stop-color="#70cf57"/><stop offset="0.4167" stop-color="#7ad151"/><stop offset="0.4583" stop-color="#7fd34e"/><stop offset="0.5000" stop-color="#81d34d"/><stop offset="0.5417" stop-color="#7cd250"/><stop offset="0.5833" stop-color="#73d056"/><stop offset="0.6250" stop-color="#65cb5e"/><stop offset="0.6667" stop-color="#56c667"/><stop offset="0.7083" stop-color="#46c06f"/><stop offset="0.7500" stop-color="#3aba76"/><stop offset="0.7917" stop-color="#2eb37c"/><stop offset="0.8333" stop-color="#25ac82"/><stop offset="0.8750" stop-color="#21a585"/><stop offset="0.9167" stop-color="#1fa088"/><stop offset="0.9583" stop-color="#1f9a8a"/><stop offset="1.0000" stop-color="#1f958b"/></linearGradient>
<linearGradient id="h36" x1="0" y1="0" x2="1" y2="0"><stop offset="0.0000" stop-color="#22a785"/><stop offset="0.0417" stop-color="#25ab82"/><stop offset="0.0833" stop-color="#28ae80"/><stop offset="0.1250" stop-color="#2eb37c"/><stop offset="0.1667" stop-color="#37b878"/><stop offset="0.2083" stop-color="#40bd72"/><stop offset="0.2500" stop-color="#4ec36b"/><stop offset="0.2917" stop-color="#5cc863"/><stop offset="0.3333" stop-color="#69cd5b"/><stop offset="0.3750" stop-color="#77d153"/><stop offset="0.4167" stop-color="#81d34d"/><stop offset="0.4583" stop-color="#86d549"/><stop offset="0.5000" stop-color="#86d549"/><stop offset="0.5417" stop-color="#81d34d"/><stop offset="0.5833" stop-color="#77d153"/><stop offset="0.6250" stop-color="#69cd5b"/><stop offset="0.6667" stop-color="#5ac864"/><stop offset="0.7083" stop-color="#4ac16d"/><stop offset="0.7500" stop-color="#3bbb75"/><stop offset="0.7917" stop-color="#2fb47c"/><stop offset="0.8333" stop-color="#26ad81"/><stop offset="0.8750" stop-color="#21a685"/><stop offset="0.9167" stop-color="#1fa188"/><stop offset="0.9583" stop-color="#1e9b8a"/><stop offset="1.0000" stop-color="#1f968b"/></linearGradient>
<linearGradient id="h37" x1="0" y1="0" x2="1" y2="0"><stop offset="0.0000" stop-color="#22a785"/><stop offset="0.0417" stop-color="#25ab82"/><stop offset="0.0833" stop-color="#29af7f"/><stop offset="0.1250" stop-color="#2fb47c"/><stop offset="0.1667" stop-color="#38b977"/><stop offset="0.2083" stop-color="#44bf70"/><stop offset="0.2500" stop-color="#50c46a"/><stop offset="0.2917" stop-color="#5ec962"/><stop offset="0.3333" stop-color="#6ece58"/><stop offset="0.3750" stop-color="#7cd250"/><stop offset="0.4167" stop-color="#86d549"/><stop offset="0.4583" stop-color="#8ed645"/><stop offset="0.5000" stop-color="#8ed645"/><stop offset="0.5417" stop-color="#89d548"/><stop offset="0.5833" stop-color="#7cd250"/><stop offset="0.6250" stop-color="#6ece58"/><stop offset="0.6667" stop-color="#5ec962"/><stop offset="0.7083" stop-color="#4ec36b"/><stop offset="0.7500" stop-color="#3dbc74"/><stop offset="0.7917" stop-color="#31b57b"/><stop offset="0.8333" stop-color="#27ad81"/><stop offset="0.8750" stop-color="#22a785"/><stop offset="0.9167" stop-color="#1fa188"/><stop offset="0.9583" stop-color="#1e9b8a"/><stop offset="1.0000" stop-color="#1f968b"/></linearGradient>
<linearGradient id="h38" x1="0" y1="0" x2="1" y2="0"><stop offset="0.0000" stop-color="#22a785"/><stop offset="0.0417" stop-color="#25ab82"/><stop offset="0.0833" stop-color="#29af7f"/><stop offset="0.1250" stop-color="#31b57b"/><stop offset="0.1667" stop-color="#3aba76"/><stop offset="0.2083" stop-color="#46c06f"/><stop offset="0.2500" stop-color="#54c568"/><stop offset="0.2917" stop-color="#63cb5f"/><stop offset="0.3333" stop-color="#73d056"/><stop offset="0.3750" stop-color="#81d34d"/><stop offset="0.4167" stop-color="#8ed645"/><stop offset="0.4583" stop-color="#93d741"/><stop offset="0.5000" stop-color="#95d840"/><stop offset="0.5417" stop-color="#8ed645"/><stop offset="0.5833" stop-color="#84d44b"/><stop offset="0.6250" stop-color="#73d056"/><stop offset="0.6667" stop-color="#63cb5f"/><stop offset="0.7083" stop-color="#50c46a"/><stop offset="0.7500" stop-color="#40bd72"/><stop offset="0.7917" stop-color="#32b67a"/><stop offset="0.8333" stop-color="#28ae80"/><stop offset="0.8750" stop-color="#22a884"/><stop offset="0.9167" stop-color="#1fa187"/><stop offset="0.9583" stop-color="#1e9c89"/><stop offset="1.0000" stop-color="#1f978b"/></linearGradient>
<linearGradient id="h39" x1="0" y1="0" x2="1" y2="0"><stop offset="0.0000" stop-color="#22a785"/><stop offset="0.0417" stop-color="#25ac82"/><stop offset="0.0833" stop-color="#2ab07f"/><stop offset="0.1250" stop-color="#31b57b"/><stop offset="0.1667" stop-color="#3bbb75"/><stop offset="0.2083" stop-color="#48c16e"/><stop offset="0.2500" stop-color="#56c667"/><stop offset="0.2917" stop-color="#65cb5e"/><stop offset="0.3333" stop-color="#77d153"/><stop offset="0.3750" stop-color="#86d549"/><stop offset="0.4167" stop-color="#93d741"/><stop offset="0.4583" stop-color="#9bd93c"/><stop offset="0.5000" stop-color="#9bd93c"/><stop offset="0.5417" stop-color="#95d840"/><stop offset="0.5833" stop-color="#89d548"/><stop offset="0.6250" stop-color="#7ad151"/><stop offset="0.6667" stop-color="#67cc5c"/><stop offset="0.7083" stop-color="#54c568"/><stop offset="0.7500" stop-color="#42be71"/><stop offset="0.7917" stop-color="#35b779"/><stop offset="0.8333" stop-color="#29af7f"/><stop offset="0.8750" stop-color="#23a983"/><stop offset="0.9167" stop-color="#1fa287"/><stop offset="0.9583" stop-color="#1e9d89"/><stop offset="1.0000" stop-color="#1f978b"/></linearGradient>
<linearGradient id="h40" x1="0" y1="0" x2="1" y2="0"><stop offset="0.0000" stop-color="#22a884"/><stop offset="0.0417" stop-color="#25ac82"/><stop offset="0.0833" stop-color="#2ab07f"/><stop offset="0.1250" stop-color="#32b67a"/><stop offset="0.1667" stop-color="#3bbb75"/><stop offset="0.2083" stop-color="#4ac16d"/><stop offset="0.2500" stop-color="#58c765"/><stop offset="0.2917" stop-color="#69cd5b"/><stop offset="0.3333" stop-color="#7ad151"/><stop offset="0.3750" stop-color="#8bd646"/><stop offset="0.4167" stop-color="#98d83e"/><stop offset="0.4583" stop-color="#a2da37"/><stop offset="0.5000" stop-color="#a2da37"/><stop offset="0.5417" stop-color="#9dd93b"/><stop offset="0.5833" stop-color="#90d743"/><stop offset="0.6250" stop-color="#7fd34e"/><stop offset="0.6667" stop-color="#69cd5b"/><stop offset="0.7083" stop-color="#58c765"/><stop offset="0.7500" stop-color="#46c06f"/><stop offset="0.7917" stop-color="#37b878"/><stop offset="0.8333" stop-color="#2ab07f"/><stop offset="0.8750" stop-color="#24aa83"/><stop offset="0.9167" stop-color="#1fa287"/><stop offset="0.9583" stop-color="#1e9d89"/><stop offset="1.0000" stop-color="#1f988b"/></linearGradient>
<linearGradient id="h41" x1="0" y1="0" x2="1" y2="0"><stop offset="0.0000" stop-color="#22a884"/><stop offset="0.0417" stop-color="#25ac82"/><stop offset="0.0833" stop-color="#2ab07f"/><stop offset="0.1250" stop-color="#32b67a"/><stop offset="0.1667" stop-color="#3dbc74"/><stop offset="0.2083" stop-color="#4cc26c"/><stop offset="0.2500" stop-color="#5ac864"/><stop offset="0.2917" stop-color="#6ccd5a"/><stop offset="0.3333" stop-color="#7fd34e"/><stop offset="0.3750" stop-color="#90d743"/><stop offset="0.4167" stop-color="#a0da39"/><stop offset="0.4583" stop-color="#a8db34"/><stop offset="0.5000" stop-color="#aadc32"/><stop offset="0.5417" stop-color="#a2da37"/><stop offset="0.5833" stop-color="#95d840"/><stop offset="0.6250" stop-color="#84d44b"/><stop offset="0.6667" stop-color="#6ece58"/><stop offset="0.7083" stop-color="#5ac864"/><stop offset="0.7500" stop-color="#48c16e"/><stop offset="0.7917" stop-color="#38b977"/><stop offset="0.8333" stop-color="#2cb17e"/><stop offset="0.8750" stop-color="#24aa83"/><stop offset="0.9167" stop-color="#20a386"/><stop offset="0.9583" stop-color="#1f9e89"/><stop offset="1.0000" stop-color="#1f988b"/></linearGradient>
<linearGradient id="h42" x1="0" y1="0" x2="1" y2="0"><stop offset="0.0000" stop-color="#22a884"/><stop offset="0.0417" stop-color="#25ac82"/><stop offset="0.0833" stop-color="#2cb17e"/><stop offset="0.1250" stop-color="#34b679"/><stop offset="0.1667" stop-color="#3fbc73"/><stop offset="0.2083" stop-color="#4cc26c"/><stop offset="0.2500" stop-color="#5cc863"/><stop offset="0.2917" stop-color="#70cf57"/><stop offset="0.3333" stop-color="#84d44b"/><stop offset="0.3750" stop-color="#95d840"/><stop offset="0.4167" stop-color="#a5db36"/><stop offset="0.4583" stop-color="#b0dd2f"/><stop offset="0.5000" stop-color="#b0dd2f"/><stop offset="0.5417" stop-color="#aadc32"/><stop offset="0.5833" stop-color="#9bd93c"/><stop offset="0.6250" stop-color="#89d548"/><stop offset="0.6667" stop-color="#73d056"/><stop offset="0.7083" stop-color="#5cc863"/><stop offset="0.7500" stop-color="#4ac16d"/><stop offset="0.7917" stop-color="#3aba76"/><stop offset="0.8333" stop-color="#2db27d"/><stop offset="0.8750" stop-color="#25ab82"/><stop offset="0.9167" stop-color="#20a486"/><stop offset="0.9583" stop-color="#1f9e89"/><stop offset="1.0000" stop-color="#1f998a"/></linearGradient>
<linearGradient id="h43" x1="0" y1="0" x2="1" y2="0"><stop offset="0.0000" stop-color="#22a884"/><stop offset="0.0417" stop-color="#26ad81"/><stop offset="0.0833" stop-color="#2cb17e"/><stop offset="0.1250" stop-color="#34b679"/><stop offset="0.1667" stop-color="#3fbc73"/><stop offset="0.2083" stop-color="#4ec36b"/><stop offset="0.2500" stop-color="#5ec962"/><stop offset="0.2917" stop-color="#73d056"/><stop offset="0.3333" stop-color="#86d549"/><stop offset="0.3750" stop-color="#9bd93c"/><stop offset="0.4167" stop-color="#aadc32"/><stop offset="0.4583" stop-color="#b5de2b"/><stop offset="0.5000" stop-color="#b8de29"/><stop offset="0.5417" stop-color="#b0dd2f"/><stop offset="0.5833" stop-color="#a0da39"/><stop offset="0.6250" stop-color="#8bd646"/><stop offset="0.6667" stop-color="#75d054"/><stop offset="0.7083" stop-color="#60ca60"/><stop offset="0.7500" stop-color="#4cc26c"/><stop offset="0.7917" stop-color="#3bbb75"/><stop offset="0.8333" stop-color="#2eb37c"/><stop offset="0.8750" stop-color="#25ac82"/><stop offset="0.9167" stop-color="#20a486"/><stop offset="0.9583" stop-color="#1f9f88"/><stop offset="1.0000" stop-color="#1f998a"/></linearGradient>
<linearGradient id="h44" x1="0" y1="0" x2="1" y2="0"><stop offset="0.0000" stop-color="#22a884"/><stop offset="0.0417" stop-color="#26ad81"/><stop offset="0.0833" stop-color="#2cb17e"/><stop offset="0.1250" stop-color="#35b779"/><stop offset="0.1667" stop-color="#40bd72"/><stop offset="0.2083" stop-color="#50c46a"/><stop offset="0.2500" stop-color="#60ca60"/><stop offset="0.2917" stop-color="#75d054"/><stop offset="0.3333" stop-color="#8bd646"/><stop offset="0.3750" stop-color="#a0da39"/><stop offset="0.4167" stop-color="#b0dd2f"/><stop offset="0.4583" stop-color="#bade28"/><stop offset="0.5000" stop-color="#bddf26"/><stop offset="0.5417" stop-color="#b5de2b"/><stop offset="0.5833" stop-color="#a5db36"/><stop offset="0.6250" stop-color="#90d743"/><stop offset="0.6667" stop-color="#7ad151"/><stop offset="0.7083" stop-color="#63cb5f"/><stop offset="0.7500" stop-color="#4ec36b"/><stop offset="0.7917" stop-color="#3dbc74"/><stop offset="0.8333" stop-color="#2fb47c"/><stop offset="0.8750" stop-color="#25ac82"/><stop offset="0.9167" stop-color="#21a585"/><stop offset="0.9583" stop-color="#1f9f88"/><stop offset="1.0000" stop-color="#1f998a"/></linearGradient>
<linearGradient id="h45" x1="0" y1="0" x2="1" y2="0"><stop offset="0.0000" stop-color="#22a884"/><stop offset="0.0417" stop-color="#26ad81"/><stop offset="0.0833" stop-color="#2db27d"/><stop offset="0.1250" stop-color="#35b779"/><stop offset="0.1667" stop-color="#42be71"/><stop offset="0.2083" stop-color="#52c569"/><stop offset="0.2500" stop-color="#63cb5f"/><stop offset="0.2917" stop-color="#77d153"/><stop offset="0.3333" stop-color="#8ed645"/><stop offset="0.3750" stop-color="#a2da37"/><stop offset="0.4167" stop-color="#b5de2b"/><stop offset="0.4583" stop-color="#c0df25"/><stop offset="0.5000" stop-color="#c2df23"/><stop offset="0.5417" stop-color="#bade28"/><stop offset="0.5833" stop-color="#aadc32"/><stop offset="0.6250" stop-color="#95d840"/><stop offset="0.6667" stop-color="#7cd250"/><stop offset="0.7083" stop-color="#65cb5e"/><stop offset="0.7500" stop-color="#50c46a"/><stop offset="0.7917" stop-color="#3dbc74"/><stop offset="0.8333" stop-color="#2fb47c"/><stop offset="0.8750" stop-color="#26ad81"/><stop offset="0.9167" stop-color="#21a585"/><stop offset="0.9583" stop-color="#1fa088"/><stop offset="1.0000" stop-color="#1f9a8a"/></linearGradient>
<linearGradient id="h46" x1="0" y1="0" x2="1" y2="0"><stop offset="0.0000" stop-color="#22a884"/><stop offset="0.0417" stop-color="#26ad81"/><stop offset="0.0833" stop-color="#2db27d"/><stop offset="0.1250" stop-color="#37b878"/><stop offset="0.1667" stop-color="#42be71"/><stop offset="0.2083" stop-color="#52c569"/><stop offset="0.2500" stop-color="#65cb5e"/><stop offset="0.2917" stop-color="#7ad151"/><stop offset="0.3333" stop-color="#90d743"/><stop offset="0.3750" stop-color="#a8db34"/><stop offset="0.4167" stop-color="#bade28"/><stop offset="0.4583" stop-color="#c8e020"/><stop offset="0.5000" stop-color="#cae11f"/><stop offset="0.5417" stop-color="#c0df25"/><stop offset="0.5833" stop-color="#b0dd2f"/><stop offset="0.6250" stop-color="#98d83e"/><stop offset="0.6667" stop-color="#7fd34e"/><stop offset="0.7083" stop-color="#67cc5c"/><stop offset="0.7500" stop-color="#52c569"/><stop offset="0.7917" stop-color="#3fbc73"/><stop offset="0.8333" stop-color="#31b57b"/><stop offset="0.8750" stop-color="#26ad81"/><stop offset="0.9167" stop-color="#21a685"/><stop offset="0.9583" stop-color="#1fa088"/><stop offset="1.0000" stop-color="#1f9a8a"/></linearGradient>
<linearGradient id="h47" x1="0" y1="0" x2="1" y2="0"><stop offset="0.0000" stop-color="#22a884"/><stop offset="0.0417" stop-color="#26ad81"/><stop offset="0.0833" stop-color="#2db27d"/><stop offset="0.1250" stop-color="#37b878"/><stop offset="0.1667" stop-color="#42be71"/><stop offset="0.2083" stop-color="#54c568"/><stop offset="0.2500" stop-color="#67cc5c"/><stop offset="0.2917" stop-color="#7cd250"/><stop offset="0.3333" stop-color="#93d741"/><stop offset="0.3750" stop-color="#aadc32"/><stop offset="0.4167" stop-color="#bddf26"/><stop offset="0.4583" stop-color="#cae11f"/><stop offset="0.5000" stop-color="#d0e11c"/><stop offset="0.5417" stop-color="#c5e021"/><stop offset="0.5833" stop-color="#b5de2b"/><stop offset="0.6250" stop-color="#9dd93b"/><stop offset="0.6667" stop-color="#84d44b"/><stop offset="0.7083" stop-color="#69cd5b"/><stop offset="0.7500" stop-color="#54c568"/><stop offset="0.7917" stop-color="#40bd72"/><stop offset="0.8333" stop-color="#31b57b"/><stop offset="0.8750" stop-color="#27ad81"/><stop offset="0.9167" stop-color="#21a685"/><stop offset="0.9583" stop-color="#1fa088"/><stop offset="1.0000" stop-color="#1e9b8a"/></linearGradient>
<linearGradient id="h48" x1="0" y1="0" x2="1" y2="0"><stop offset="0.0000" stop-color="#22a884"/><stop offset="0.0417" stop-color="#26ad81"/><stop offset="0.0833" stop-color="#2db27d"/><stop offset="0.1250" stop-color="#37b878"/><stop offset="0.1667" stop-color="#44bf70"/><stop offset="0.2083" stop-color="#54c568"/><stop offset="0.2500" stop-color="#67cc5c"/><stop offset="0.2917" stop-color="#7fd34e"/><stop offset="0.3333" stop-color="#95d840"/><stop offset="0.3750" stop-color="#addc30"/><stop offset="0.4167" stop-color="#c2df23"/><stop offset="0.4583" stop-color="#d0e11c"/><stop offset="0.5000" stop-color="#d5e21a"/><stop offset="0.5417" stop-color="#cae11f"/><stop offset="0.5833" stop-color="#b8de29"/><stop offset="0.6250" stop-color="#a0da39"/><stop offset="0.6667" stop-color="#86d549"/><stop offset="0.7083" stop-color="#6ccd5a"/><stop offset="0.7500" stop-color="#54c568"/><stop offset="0.7917" stop-color="#40bd72"/><stop offset="0.8333" stop-color="#32b67a"/><stop offset="0.8750" stop-color="#27ad81"/><stop offset="0.9167" stop-color="#22a785"/><stop offset="0.9583" stop-color="#1fa188"/><stop offset="1.0000" stop-color="#1e9b8a"/></linearGradient>
<linearGradient id="h49" x1="0" y1="0" x2="1" y2="0"><stop offset="0.0000" stop-color="#22a884"/><stop offset="0.0417" stop-color="#26ad81"/><stop offset="0.0833" stop-color="#2db27d"/><stop offset="0.1250" stop-color="#37b878"/><stop offset="0.1667" stop-color="#44bf70"/><stop offset="0.2083" stop-color="#56c667"/><stop offset="0.2500" stop-color="#69cd5b"/><stop offset="0.2917" stop-color="#7fd34e"/><stop offset="0.3333" stop-color="#98d83e"/><stop offset="0.3750" stop-color="#b0dd2f"/><stop offset="0.4167" stop-color="#c5e021"/><stop offset="0.4583" stop-color="#d5e21a"/><stop offset="0.5000" stop-color="#d8e219"/><stop offset="0.5417" stop-color="#d0e11c"/><stop offset="0.5833" stop-color="#bade28"/><stop offset="0.6250" stop-color="#a2da37"/><stop offset="0.6667" stop-color="#86d549"/><stop offset="0.7083" stop-color="#6ece58"/><stop offset="0.7500" stop-color="#56c667"/><stop offset="0.7917" stop-color="#42be71"/><stop offset="0.8333" stop-color="#32b67a"/><stop offset="0.8750" stop-color="#28ae80"/><stop offset="0.9167" stop-color="#22a785"/><stop offset="0.9583" stop-color="#1fa188"/><stop offset="1.0000" stop-color="#1e9b8a"/></linearGradient>
<linearGradient id="h50" x1="0" y1="0" x2="1" y2="0"><stop offset="0.0000" stop-color="#22a884"/><stop offset="0.0417" stop-color="#26ad81"/><stop offset="0.0833" stop-color="#2db27d"/><stop offset="0.1250" stop-color="#37b878"/><stop offset="0.1667" stop-color="#44bf70"/><stop offset="0.2083" stop-color="#56c667"/><stop offset="0.2500" stop-color="#69cd5b"/><stop offset="0.2917" stop-color="#81d34d"/><stop offset="0.3333" stop-color="#98d83e"/><stop offset="0.3750" stop-color="#b2dd2d"/><stop offset="0.4167" stop-color="#c8e020"/><stop offset="0.4583" stop-color="#d8e219"/><stop offset="0.5000" stop-color="#dde318"/><stop offset="0.5417" stop-color="#d2e21b"/><stop offset="0.5833" stop-color="#bddf26"/><stop offset="0.6250" stop-color="#a5db36"/><stop offset="0.6667" stop-color="#89d548"/><stop offset="0.7083" stop-color="#6ece58"/><stop offset="0.7500" stop-color="#56c667"/><stop offset="0.7917" stop-color="#42be71"/><stop offset="0.8333" stop-color="#34b679"/><stop offset="0.8750" stop-color="#28ae80"/><stop offset="0.9167" stop-color="#22a785"/><stop offset="0.9583" stop-color="#1fa188"/><stop offset="1.0000" stop-color="#1e9b8a"/></linearGradient>
<linearGradient id="h51" x1="0" y1="0" x2="1" y2="0"><stop offset="0.0000" stop-color="#22a884"/><stop offset="0.0417" stop-color="#26ad81"/><stop offset="0.0833" stop-color="#2db27d"/><stop offset="0.1250" stop-color="#37b878"/><stop offset="0.1667" stop-color="#44bf70"/><stop offset="0.2083" stop-color="#56c667"/><stop offset="0.2500" stop-color="#69cd5b"/><stop offset="0.2917" stop-color="#81d34d"/><stop offset="0.3333" stop-color="#9bd93c"/><stop offset="0.3750" stop-color="#b2dd2d"/><stop offset="0.4167" stop-color="#cae11f"/><stop offset="0.4583" stop-color="#dae319"/><stop offset="0.5000" stop-color="#dfe318"/><stop offset="0.5417" stop-color="#d5e21a"/><stop offset="0.5833" stop-color="#c0df25"/><stop offset="0.6250" stop-color="#a5db36"/><stop offset="0.6667" stop-color="#8bd646"/><stop offset="0.7083" stop-color="#70cf57"/><stop offset="0.7500" stop-color="#58c765"/><stop offset="0.7917" stop-color="#44bf70"/><stop offset="0.8333" stop-color="#34b679"/><stop offset="0.8750" stop-color="#28ae80"/><stop offset="0.9167" stop-color="#22a785"/><stop offset="0.9583" stop-color="#1fa187"/><stop offset="1.0000" stop-color="#1e9c89"/></linearGradient>
<linearGradient id="h52" x1="0" y1="0" x2="1" y2="0"><stop offset="0.0000" stop-color="#22a884"/><stop offset="0.0417" stop-color="#26ad81"/><stop offset="0.0833" stop-color="#2db27d"/><stop offset="0.1250" stop-color="#37b878"/><stop offset="0.1667" stop-color="#44bf70"/><stop offset="0.2083" stop-color="#56c667"/><stop offset="0.2500" stop-color="#69cd5b"/><stop offset="0.2917" stop-color="#81d34d"/><stop offset="0.3333" stop-color="#9bd93c"/><stop offset="0.3750" stop-color="#b5de2b"/><stop offset="0.4167" stop-color="#cae11f"/><stop offset="0.4583" stop-color="#dae319"/><stop offset="0.5000" stop-color="#dfe318"/><stop offset="0.5417" stop-color="#d5e21a"/><stop offset="0.5833" stop-color="#c0df25"/><stop offset="0.6250" stop-color="#a8db34"/><stop offset="0.6667" stop-color="#8bd646"/><stop offset="0.7083" stop-color="#70cf57"/><stop offset="0.7500" stop-color="#58c765"/><stop offset="0.7917" stop-color="#44bf70"/><stop offset="0.8333" stop-color="#34b679"/><stop offset="0.8750" stop-color="#28ae80"/><stop offset="0.9167" stop-color="#22a884"/><stop offset="0.9583" stop-color="#1fa187"/><stop offset="1.0000" stop-color="#1e9c89"/></linearGradient>
<linearGradient id="h53" x1="0" y1="0" x2="1" y2="0"><stop offset="0.0000" stop-color="#22a884"/><stop offset="0.0417" stop-color="#26ad81"/><stop offset="0.0833" stop-color="#2db27d"/><stop offset="0.1250" stop-color="#37b878"/><stop offset="0.1667" stop-color="#44bf70"/><stop offset="0.2083" stop-color="#56c667"/><stop offset="0.2500" stop-color="#69cd5b"/><stop offset="0.2917" stop-color="#81d34d"/><stop offset="0.3333" stop-color="#9bd93c"/><stop offset="0.3750" stop-color="#b5de2b"/><stop offset="0.4167" stop-color="#cae11f"/><stop offset="0.4583" stop-color="#dde318"/><stop offset="0.5000" stop-color="#e2e418"/><stop offset="0.5417" stop-color="#d8e219"/><stop offset="0.5833" stop-color="#c2df23"/><stop offset="0.6250" stop-color="#a8db34"/><stop offset="0.6667" stop-color="#8bd646"/><stop offset="0.7083" stop-color="#70cf57"/><stop offset="0.7500" stop-color="#58c765"/><stop offset="0.7917" stop-color="#44bf70"/><stop offset="0.8333" stop-color="#34b679"/><stop offset="0.8750" stop-color="#29af7f"/><stop offset="0.9167" stop-color="#22a884"/><stop offset="0.9583" stop-color="#1fa187"/><stop offset="1.0000" stop-color="#1e9c89"/></linearGradient>
<linearGradient id="h54" x1="0" y1="0" x2="1" y2="0"><stop offset="0.0000" stop-color="#22a884"/><stop offset="0.0417" stop-color="#26ad81"/><stop offset="0.0833" stop-color="#2db27d"/><stop offset="0.1250" stop-color="#37b878"/><stop offset="0.1667" stop-color="#44bf70"/><stop offset="0.2083" stop-color="#56c667"/><stop offset="0.2500" stop-color="#69cd5b"/><stop offset="0.2917" stop-color="#81d34d"/><stop offset="0.3333" stop-color="#9bd93c"/><stop offset="0.3750" stop-color="#b5de2b"/><stop offset="0.4167" stop-color="#cae11f"/><stop offset="0.4583" stop-color="#dde318"/><stop offset="0.5000" stop-color="#dfe318"/><stop offset="0.5417" stop-color="#d5e21a"/><stop offset="0.5833" stop-color="#c0df25"/><stop offset="0.6250" stop-color="#a8db34"/><stop offset="0.6667" stop-color="#8bd646"/><stop offset="0.7083" stop-color="#70cf57"/><stop offset="0.7500" stop-color="#58c765"/><stop offset="0.7917" stop-color="#44bf70"/><stop offset="0.8333" stop-color="#34b679"/><stop offset="0.8750" stop-color="#29af7f"/><stop offset="0.9167" stop-color="#22a884"/><stop offset="0.9583" stop-color="#1fa187"/><stop offset="1.0000" stop-color="#1e9c89"/></linearGradient>
<linearGradient id="h55" x1="0" y1="0" x2="1" y2="0"><stop offset="0.0000" stop-color="#22a884"/><stop offset="0.0417" stop-color="#26ad81"/><stop offset="0.0833" stop-color="#2db27d"/><stop offset="0.1250" stop-color="#37b878"/><stop offset="0.1667" stop-color="#44bf70"/><stop offset="0.2083" stop-color="#56c667"/><stop offset="0.2500" stop-color="#69cd5b"/><stop offset="0.2917" stop-color="#81d34d"/><stop offset="0.3333" stop-color="#9bd93c"/><stop offset="0.3750" stop-color="#b2dd2d"/><stop offset="0.4167" stop-color="#cae11f"/><stop offset="0.4583" stop-color="#dae319"/><stop offset="0.5000" stop-color="#dfe318"/><stop offset="0.5417" stop-color="#d5e21a"/><stop offset="0.5833" stop-color="#c0df25"/><stop offset="0.6250" stop-color="#a5db36"/><stop offset="0.6667" stop-color="#8bd646"/><stop offset="0.7083" stop-color="#70cf57"/><stop offset="0.7500" stop-color="#58c765"/><stop offset="0.7917" stop-color="#44bf70"/><stop offset="0.8333" stop-color="#34b679"/><stop offset="0.8750" stop-color="#29af7f"/><stop offset="0.9167" stop-color="#22a884"/><stop offset="0.9583" stop-color="#1fa187"/><stop offset="1.0000" stop-color="#1e9c89"/></linearGradient>
<linearGradient id="h56" x1="0" y1="0" x2="1" y2="0"><stop offset="0.0000" stop-color="#22a785"/><stop offset="0.0417" stop-color="#26ad81"/><stop offset="0.0833" stop-color="#2db27d"/><stop offset="0.1250" stop-color="#37b878"/><stop offset="0.1667" stop-color="#44bf70"/><stop offset="0.2083" stop-color="#54c568"/><stop offset="0.2500" stop-color="#69cd5b"/><stop offset="0.2917" stop-color="#7fd34e"/><stop offset="0.3333" stop-color="#98d83e"/><stop offset="0.3750" stop-color="#b0dd2f"/><stop offset="0.4167" stop-color="#c8e020"/><stop offset="0.4583" stop-color="#d8e219"/><stop offset="0.5000" stop-color="#dae319"/><stop offset="0.5417" stop-color="#d2e21b"/><stop offset="0.5833" stop-color="#bddf26"/><stop offset="0.6250" stop-color="#a5db36"/><stop offset="0.6667" stop-color="#89d548"/><stop offset="0.7083" stop-color="#6ece58"/><stop offset="0.7500" stop-color="#58c765"/><stop offset="0.7917" stop-color="#42be71"/><stop offset="0.8333" stop-color="#34b679"/><stop offset="0.8750" stop-color="#28ae80"/><stop offset="0.9167" stop-color="#22a785"/><stop offset="0.9583" stop-color="#1fa187"/><stop offset="1.0000" stop-color="#1e9c89"/></linearGradient>
<linearGradient id="h57" x1="0" y1="0" x2="1" y2="0"><stop offset="0.0000" stop-color="#22a785"/><stop offset="0.0417" stop-color="#25ac82"/><stop offset="0.0833" stop-color="#2cb17e"/><stop offset="0.1250" stop-color="#35b779"/><stop offset="0.1667" stop-color="#42be71"/><stop offset="0.2083" stop-color="#54c568"/><stop offset="0.2500" stop-color="#67cc5c"/><stop offset="0.2917" stop-color="#7fd34e"/><stop offset="0.3333" stop-color="#95d840"/><stop offset="0.3750" stop-color="#addc30"/><stop offset="0.4167" stop-color="#c2df23"/><stop offset="0.4583" stop-color="#d2e21b"/><stop offset="0.5000" stop-color="#d8e219"/><stop offset="0.5417" stop-color="#cde11d"/><stop offset="0.5833" stop-color="#bade28"/><stop offset="0.6250" stop-color="#a2da37"/><stop offset="0.6667" stop-color="#86d549"/><stop offset="0.7083" stop-color="#6ece58"/><stop offset="0.7500" stop-color="#56c667"/><stop offset="0.7917" stop-color="#42be71"/><stop offset="0.8333" stop-color="#34b679"/><stop offset="0.8750" stop-color="#28ae80"/><stop offset="0.9167" stop-color="#22a785"/><stop offset="0.9583" stop-color="#1fa188"/><stop offset="1.0000" stop-color="#1e9b8a"/></linearGradient>
<linearGradient id="h58" x1="0" y1="0" x2="1" y2="0"><stop offset="0.0000" stop-color="#22a785"/><stop offset="0.0417" stop-color="#25ac82"/><stop offset="0.0833" stop-color="#2cb17e"/><stop offset="0.1250" stop-color="#35b779"/><stop offset="0.1667" stop-color="#42be71"/><stop offset="0.2083" stop-color="#52c569"/><stop offset="0.2500" stop-color="#65cb5e"/><stop offset="0.2917" stop-color="#7cd250"/><stop offset="0.3333" stop-color="#93d741"/><stop offset="0.3750" stop-color="#aadc32"/><stop offset="0.4167" stop-color="#c0df25"/><stop offset="0.4583" stop-color="#cde11d"/><stop offset="0.5000" stop-color="#d2e21b"/><stop offset="0.5417" stop-color="#c8e020"/><stop offset="0.5833" stop-color="#b8de29"/><stop offset="0.6250" stop-color="#9dd93b"/><stop offset="0.6667" stop-color="#84d44b"/><stop offset="0.7083" stop-color="#6ccd5a"/><stop offset="0.7500" stop-color="#54c568"/><stop offset="0.7917" stop-color="#40bd72"/><stop offset="0.8333" stop-color="#32b67a"/><stop offset="0.8750" stop-color="#27ad81"/><stop offset="0.9167" stop-color="#22a785"/><stop offset="0.9583" stop-color="#1fa188"/><stop offset="1.0000" stop-color="#1e9b8a"/></linearGradient>
<linearGradient id="h59" x1="0" y1="0" x2="1" y2="0"><stop offset="0.0000" stop-color="#22a785"/><stop offset="0.0417" stop-color="#25ac82"/><stop offset="0.0833" stop-color="#2ab07f"/><stop offset="0.1250" stop-color="#34b679"/><stop offset="0.1667" stop-color="#40bd72"/><stop offset="0.2083" stop-color="#50c46a"/><stop offset="0.2500" stop-color="#63cb5f"/><stop offset="0.2917" stop-color="#7ad151"/><stop offset="0.3333" stop-color="#90d743"/><stop offset="0.3750" stop-color="#a8db34"/><stop offset="0.4167" stop-color="#bade28"/><stop offset="0.4583" stop-color="#c8e020"/><stop offset="0.5000" stop-color="#cae11f"/><stop offset="0.5417" stop-color="#c2df23"/><stop offset="0.5833" stop-color="#b2dd2d"/><stop offset="0.6250" stop-color="#9bd93c"/><stop offset="0.6667" stop-color="#81d34d"/><stop offset="0.7083" stop-color="#69cd5b"/><stop offset="0.7500" stop-color="#54c568"/><stop offset="0.7917" stop-color="#40bd72"/><stop offset="0.8333" stop-color="#31b57b"/><stop offset="0.8750" stop-color="#27ad81"/><stop offset="0.9167" stop-color="#21a685"/><stop offset="0.9583" stop-color="#1fa088"/><stop offset="1.0000" stop-color="#1f9a8a"/></linearGradient>
<linearGradient id="h60" x1="0" y1="0" x2="1" y2="0"><stop offset="0.0000" stop-color="#21a685"/><stop offset="0.0417" stop-color="#25ab82"/><stop offset="0.0833" stop-color="#2ab07f"/><stop offset="0.1250" stop-color="#34b679"/><stop offset="0.1667" stop-color="#3fbc73"/><stop offset="0.2083" stop-color="#50c46a"/><stop offset="0.2500" stop-color="#60ca60"/><stop offset="0.2917" stop-color="#75d054"/><stop offset="0.3333" stop-color="#8bd646"/><stop offset="0.3750" stop-color="#a2da37"/><stop offset="0.4167" stop-color="#b5de2b"/><stop offset="0.4583" stop-color="#c2df23"/><stop offset="0.5000" stop-color="#c5e021"/><stop offset="0.5417" stop-color="#bddf26"/><stop offset="0.5833" stop-color="#addc30"/><stop offset="0.6250" stop-color="#95d840"/><stop offset="0.6667" stop-color="#7fd34e"/><stop offset="0.7083" stop-color="#67cc5c"/><stop offset="0.7500" stop-color="#52c569"/><stop offset="0.7917" stop-color="#3fbc73"/><stop offset="0.8333" stop-color="#2fb47c"/><stop offset="0.8750" stop-color="#26ad81"/><stop offset="0.9167" stop-color="#21a585"/><stop offset="0.9583" stop-color="#1f9f88"/><stop offset="1.0000" stop-color="#1f998a"/></linearGradient>
<linearGradient id="h61" x1="0" y1="0" x2="1" y2="0"><stop offset="0.0000" stop-color="#21a685"/><stop offset="0.0417" stop-color="#25ab82"/><stop offset="0.0833" stop-color="#29af7f"/><stop offset="0.1250" stop-color="#32b67a"/><stop offset="0.1667" stop-color="#3dbc74"/><stop offset="0.2083" stop-color="#4ec36b"/><stop offset="0.2500" stop-color="#5ec962"/><stop offset="0.2917" stop-color="#73d056"/><stop offset="0.3333" stop-color="#89d548"/><stop offset="0.3750" stop-color="#9dd93b"/><stop offset="0.4167" stop-color="#b0dd2f"/><stop offset="0.4583" stop-color="#bade28"/><stop offset="0.5000" stop-color="#bddf26"/><stop offset="0.5417" stop-color="#b8de29"/><stop offset="0.5833" stop-color="#a8db34"/><stop offset="0.6250" stop-color="#93d741"/><stop offset="0.6667" stop-color="#7ad151"/><stop offset="0.7083" stop-color="#63cb5f"/><stop offset="0.7500" stop-color="#4ec36b"/><stop offset="0.7917" stop-color="#3dbc74"/><stop offset="0.8333" stop-color="#2fb47c"/><stop offset="0.8750" stop-color="#25ac82"/><stop offset="0.9167" stop-color="#20a486"/><stop offset="0.9583" stop-color="#1f9f88"/><stop offset="1.0000" stop-color="#1f998a"/></linearGradient>
<linearGradient id="h62" x1="0" y1="0" x2="1" y2="0"><stop offset="0.0000" stop-color="#21a585"/><stop offset="0.0417" stop-color="#24aa83"/><stop offset="0.0833" stop-color="#29af7f"/><stop offset="0.1250" stop-color="#31b57b"/><stop offset="0.1667" stop-color="#3dbc74"/><stop offset="0.2083" stop-color="#4cc26c"/><stop offset="0.2500" stop-color="#5cc863"/><stop offset="0.2917" stop-color="#70cf57"/><stop offset="0.3333" stop-color="#84d44b"/><stop offset="0.3750" stop-color="#98d83e"/><stop offset="0.4167" stop-color="#a8db34"/><stop offset="0.4583" stop-color="#b2dd2d"/><stop offset="0.5000" stop-color="#b5de2b"/><stop offset="0.5417" stop-color="#b0dd2f"/><stop offset="0.5833" stop-color="#a0da39"/><stop offset="0.6250" stop-color="#8ed645"/><stop offset="0.6667" stop-color="#77d153"/><stop offset="0.7083" stop-color="#60ca60"/><stop offset="0.7500" stop-color="#4cc26c"/><stop offset="0.7917" stop-color="#3bbb75"/><stop offset="0.8333" stop-color="#2db27d"/><stop offset="0.8750" stop-color="#25ab82"/><stop offset="0.9167" stop-color="#20a386"/><stop offset="0.9583" stop-color="#1f9e89"/><stop offset="1.0000" stop-color="#1f988b"/></linearGradient>
<linearGradient id="h63" x1="0" y1="0" x2="1" y2="0"><stop offset="0.0000" stop-color="#21a585"/><stop offset="0.0417" stop-color="#24aa83"/><stop offset="0.0833" stop-color="#28ae80"/><stop offset="0.1250" stop-color="#2fb47c"/><stop offset="0.1667" stop-color="#3bbb75"/><stop offset="0.2083" stop-color="#48c16e"/><stop offset="0.2500" stop-color="#5ac864"/><stop offset="0.2917" stop-color="#6ccd5a"/><stop offset="0.3333" stop-color="#7fd34e"/><stop offset="0.3750" stop-color="#93d741"/><stop offset="0.4167" stop-color="#a2da37"/><stop offset="0.4583" stop-color="#addc30"/><stop offset="0.5000" stop-color="#b0dd2f"/><stop offset="0.5417" stop-color="#a8db34"/><stop offset="0.5833" stop-color="#9bd93c"/><stop offset="0.6250" stop-color="#86d549"/><stop offset="0.6667" stop-color="#73d056"/><stop offset="0.7083" stop-color="#5cc863"/><stop offset="0.7500" stop-color="#4ac16d"/><stop offset="0.7917" stop-color="#38b977"/><stop offset="0.8333" stop-color="#2cb17e"/><stop offset="0.8750" stop-color="#24aa83"/><stop offset="0.9167" stop-color="#1fa287"/><stop offset="0.9583" stop-color="#1e9d89"/><stop offset="1.0000" stop-color="#1f978b"/></linearGradient>
<linearGradient id="h64" x1="0" y1="0" x2="1" y2="0"><stop offset="0.0000" stop-color="#20a486"/><stop offset="0.0417" stop-color="#23a983"/><stop offset="0.0833" stop-color="#27ad81"/><stop offset="0.1250" stop-color="#2fb47c"/><stop offset="0.1667" stop-color="#3aba76"/><stop offset="0.2083" stop-color="#46c06f"/><stop offset="0.2500" stop-color="#56c667"/><stop offset="0.2917" stop-color="#67cc5c"/><stop offset="0.3333" stop-color="#7ad151"/><stop offset="0.3750" stop-color="#8bd646"/><stop offset="0.4167" stop-color="#9bd93c"/><stop offset="0.4583" stop-color="#a5db36"/><stop offset="0.5000" stop-color="#a8db34"/><stop offset="0.5417" stop-color="#a0da39"/><stop offset="0.5833" stop-color="#93d741"/><stop offset="0.6250" stop-color="#81d34d"/><stop offset="0.6667" stop-color="#6ece58"/><stop offset="0.7083" stop-color="#5ac864"/><stop offset="0.7500" stop-color="#46c06f"/><stop offset="0.7917" stop-color="#37b878"/><stop offset="0.8333" stop-color="#2ab07f"/><stop offset="0.8750" stop-color="#23a983"/><stop offset="0.9167" stop-color="#1fa187"/><stop offset="0.9583" stop-color="#1e9b8a"/><stop offset="1.0000" stop-color="#1f958b"/></linearGradient>
<linearGradient id="h65" x1="0" y1="0" x2="1" y2="0"><stop offset="0.0000" stop-color="#20a486"/><stop offset="0.0417" stop-color="#22a884"/><stop offset="0.0833" stop-color="#27ad81"/><stop offset="0.1250" stop-color="#2eb37c"/><stop offset="0.1667" stop-color="#37b878"/><stop offset="0.2083" stop-color="#44bf70"/><stop offset="0.2500" stop-color="#54c568"/><stop offset="0.2917" stop-color="#65cb5e"/><stop offset="0.3333" stop-color="#75d054"/><stop offset="0.3750" stop-color="#86d549"/><stop offset="0.4167" stop-color="#93d741"/><stop offset="0.4583" stop-color="#9dd93b"/><stop offset="0.5000" stop-color="#a0da39"/><stop offset="0.5417" stop-color="#98d83e"/><stop offset="0.5833" stop-color="#8ed645"/><stop offset="0.6250" stop-color="#7cd250"/><stop offset="0.6667" stop-color="#69cd5b"/><stop offset="0.7083" stop-color="#56c667"/><stop offset="0.7500" stop-color="#42be71"/><stop offset="0.7917" stop-color="#34b679"/><stop offset="0.8333" stop-color="#29af7f"/><stop offset="0.8750" stop-color="#22a884"/><stop offset="0.9167" stop-color="#1fa188"/><stop offset="0.9583" stop-color="#1f9a8a"/><stop offset="1.0000" stop-color="#1f948c"/></linearGradient>
<linearGradient id="h66" x1="0" y1="0" x2="1" y2="0"><stop offset="0.0000" stop-color="#20a386"/><stop offset="0.0417" stop-color="#22a884"/><stop offset="0.0833" stop-color="#26ad81"/><stop offset="0.1250" stop-color="#2db27d"/><stop offset="0.1667" stop-color="#35b779"/><stop offset="0.2083" stop-color="#42be71"/><stop offset="0.2500" stop-color="#50c46a"/><stop offset="0.2917" stop-color="#60ca60"/><stop offset="0.3333" stop-color="#70cf57"/><stop offset="0.3750" stop-color="#7fd34e"/><stop offset="0.4167" stop-color="#8ed645"/><stop offset="0.4583" stop-color="#95d840"/><stop offset="0.5000" stop-color="#95d840"/><stop offset="0.5417" stop-color="#90d743"/><stop offset="0.5833" stop-color="#86d549"/><stop offset="0.6250" stop-color="#75d054"/><stop offset="0.6667" stop-color="#63cb5f"/><stop offset="0.7083" stop-color="#52c569"/><stop offset="0.7500" stop-color="#40bd72"/><stop offset="0.7917" stop-color="#32b67a"/><stop offset="0.8333" stop-color="#27ad81"/><stop offset="0.8750" stop-color="#21a685"/><stop offset="0.9167" stop-color="#1fa088"/><stop offset="0.9583" stop-color="#1f998a"/><stop offset="1.0000" stop-color="#20938c"/></linearGradient>
<linearGradient id="h67" x1="0" y1="0" x2="1" y2="0"><stop offset="0.0000" stop-color="#20a386"/><stop offset="0.0417" stop-color="#22a785"/><stop offset="0.0833" stop-color="#25ac82"/><stop offset="0.1250" stop-color="#2cb17e"/><stop offset="0.1667" stop-color="#34b679"/><stop offset="0.2083" stop-color="#3fbc73"/><stop offset="0.2500" stop-color="#4cc26c"/><stop offset="0.2917" stop-color="#5cc863"/><stop offset="0.3333" stop-color="#6ccd5a"/><stop offset="0.3750" stop-color="#7ad151"/><stop offset="0.4167" stop-color="#86d549"/><stop offset="0.4583" stop-color="#8ed645"/><stop offset="0.5000" stop-color="#8ed645"/><stop offset="0.5417" stop-color="#89d548"/><stop offset="0.5833" stop-color="#7fd34e"/><stop offset="0.6250" stop-color="#70cf57"/><stop offset="0.6667" stop-color="#5ec962"/><stop offset="0.7083" stop-color="#4ec36b"/><stop offset="0.7500" stop-color="#3dbc74"/><stop offset="0.7917" stop-color="#2fb47c"/><stop offset="0.8333" stop-color="#26ad81"/><stop offset="0.8750" stop-color="#21a585"/><stop offset="0.9167" stop-color="#1f9e89"/><stop offset="0.9583" stop-color="#1f988b"/><stop offset="1.0000" stop-color="#20928c"/></linearGradient>
<linearGradient id="h68" x1="0" y1="0" x2="1" y2="0"><stop offset="0.0000" stop-color="#1fa287"/><stop offset="0.0417" stop-color="#21a685"/><stop offset="0.0833" stop-color="#25ab82"/><stop offset="0.1250" stop-color="#2ab07f"/><stop offset="0.1667" stop-color="#32b67a"/><stop offset="0.2083" stop-color="#3dbc74"/><stop offset="0.2500" stop-color="#4ac16d"/><stop offset="0.2917" stop-color="#58c765"/><stop offset="0.3333" stop-color="#65cb5e"/><stop offset="0.3750" stop-color="#73d056"/><stop offset="0.4167" stop-color="#7fd34e"/><stop offset="0.4583" stop-color="#86d549"/><stop offset="0.5000" stop-color="#86d549"/><stop offset="0.5417" stop-color="#81d34d"/><stop offset="0.5833" stop-color="#77d153"/><stop offset="0.6250" stop-color="#69cd5b"/><stop offset="0.6667" stop-color="#5ac864"/><stop offset="0.7083" stop-color="#4ac16d"/><stop offset="0.7500" stop-color="#3aba76"/><stop offset="0.7917" stop-color="#2eb37c"/><stop offset="0.8333" stop-color="#25ab82"/><stop offset="0.8750" stop-color="#20a386"/><stop offset="0.9167" stop-color="#1e9d89"/><stop offset="0.9583" stop-color="#1f968b"/><stop offset="1.0000" stop-color="#21918c"/></linearGradient>
<linearGradient id="h69" x1="0" y1="0" x2="1" y2="0"><stop offset="0.0000" stop-color="#1fa187"/><stop offset="0.0417" stop-color="#21a585"/><stop offset="0.0833" stop-color="#24aa83"/><stop offset="0.1250" stop-color="#29af7f"/><stop offset="0.1667" stop-color="#31b57b"/><stop offset="0.2083" stop-color="#3aba76"/><stop offset="0.2500" stop-color="#46c06f"/><stop offset="0.2917" stop-color="#54c568"/><stop offset="0.3333" stop-color="#60ca60"/><stop offset="0.3750" stop-color="#6ece58"/><stop offset="0.4167" stop-color="#77d153"/><stop offset="0.4583" stop-color="#7cd250"/><stop offset="0.5000" stop-color="#7fd34e"/><stop offset="0.5417" stop-color="#7ad151"/><stop offset="0.5833" stop-color="#70cf57"/><stop offset="0.6250" stop-color="#63cb5f"/><stop offset="0.6667" stop-color="#54c568"/><stop offset="0.7083" stop-color="#44bf70"/><stop offset="0.7500" stop-color="#37b878"/><stop offset="0.7917" stop-color="#2cb17e"/><stop offset="0.8333" stop-color="#24aa83"/><stop offset="0.8750" stop-color="#1fa287"/><stop offset="0.9167" stop-color="#1e9b8a"/><stop offset="0.9583" stop-color="#1f958b"/><stop offset="1.0000" stop-color="#21908d"/></linearGradient>
<linearGradient id="h70" x1="0" y1="0" x2="1" y2="0"><stop offset="0.0000" stop-color="#1fa187"/><stop offset="0.0417" stop-color="#21a585"/><stop offset="0.0833" stop-color="#23a983"/><stop offset="0.1250" stop-color="#28ae80"/><stop offset="0.1667" stop-color="#2eb37c"/><stop offset="0.2083" stop-color="#38b977"/><stop offset="0.2500" stop-color="#42be71"/><stop offset="0.2917" stop-color="#4ec36b"/><stop offset="0.3333" stop-color="#5cc863"/><stop offset="0.3750" stop-color="#67cc5c"/><stop offset="0.4167" stop-color="#70cf57"/><stop offset="0.4583" stop-color="#75d054"/><stop offset="0.5000" stop-color="#77d153"/><stop offset="0.5417" stop-color="#73d056"/><stop offset="0.5833" stop-color="#69cd5b"/><stop offset="0.6250" stop-color="#5ec962"/><stop offset="0.6667" stop-color="#50c46a"/><stop offset="0.7083" stop-color="#40bd72"/><stop offset="0.7500" stop-color="#34b679"/><stop offset="0.7917" stop-color="#29af7f"/><stop offset="0.8333" stop-color="#22a884"/><stop offset="0.8750" stop-color="#1fa188"/><stop offset="0.9167" stop-color="#1f9a8a"/><stop offset="0.9583" stop-color="#20938c"/><stop offset="1.0000" stop-color="#218e8d"/></linearGradient>
<linearGradient id="h71" x1="0" y1="0" x2="1" y2="0"><stop offset="0.0000" stop-color="#1fa188"/><stop offset="0.0417" stop-color="#20a486"/><stop offset="0.0833" stop-color="#22a884"/><stop offset="0.1250" stop-color="#26ad81"/><stop offset="0.1667" stop-color="#2db27d"/><stop offset="0.2083" stop-color="#35b779"/><stop offset="0.2500" stop-color="#3fbc73"/><stop offset="0.2917" stop-color="#4ac16d"/><stop offset="0.3333" stop-color="#56c667"/><stop offset="0.3750" stop-color="#60ca60"/><stop offset="0.4167" stop-color="#69cd5b"/><stop offset="0.4583" stop-color="#6ece58"/><stop offset="0.5000" stop-color="#70cf57"/><stop offset="0.5417" stop-color="#6ccd5a"/><stop offset="0.5833" stop-color="#63cb5f"/><stop offset="0.6250" stop-color="#58c765"/><stop offset="0.6667" stop-color="#4ac16d"/><stop offset="0.7083" stop-color="#3dbc74"/><stop offset="0.7500" stop-color="#31b57b"/><stop offset="0.7917" stop-color="#27ad81"/><stop offset="0.8333" stop-color="#21a685"/><stop offset="0.8750" stop-color="#1f9f88"/><stop offset="0.9167" stop-color="#1f988b"/><stop offset="0.9583" stop-color="#20928c"/><stop offset="1.0000" stop-color="#228c8d"/></linearGradient>
<linearGradient id="h72" x1="0" y1="0" x2="1" y2="0"><stop offset="0.0000" stop-color="#1fa088"/><stop offset="0.0417" stop-color="#20a386"/><stop offset="0.0833" stop-color="#22a785"/><stop offset="0.1250" stop-color="#25ac82"/><stop offset="0.1667" stop-color="#2cb17e"/><stop offset="0.2083" stop-color="#32b67a"/><stop offset="0.2500" stop-color="#3bbb75"/><stop offset="0.2917" stop-color="#46c06f"/><stop offset="0.3333" stop-color="#52c569"/><stop offset="0.3750" stop-color="#5ac864"/><stop offset="0.4167" stop-color="#63cb5f"/><stop offset="0.4583" stop-color="#67cc5c"/><stop offset="0.5000" stop-color="#69cd5b"/><stop offset="0.5417" stop-color="#65cb5e"/><stop offset="0.5833" stop-color="#5cc863"/><stop offset="0.6250" stop-color="#52c569"/><stop offset="0.6667" stop-color="#46c06f"/><stop offset="0.7083" stop-color="#3aba76"/><stop offset="0.7500" stop-color="#2eb37c"/><stop offset="0.7917" stop-color="#25ac82"/><stop offset="0.8333" stop-color="#20a486"/><stop offset="0.8750" stop-color="#1f9e89"/><stop offset="0.9167" stop-color="#1f978b"/><stop offset="0.9583" stop-color="#21918c"/><stop offset="1.0000" stop-color="#238a8d"/></linearGradient>
<linearGradient id="h73" x1="0" y1="0" x2="1" y2="0"><stop offset="0.0000" stop-color="#1fa088"/><stop offset="0.0417" stop-color="#1fa287"/><stop offset="0.0833" stop-color="#21a685"/><stop offset="0.1250" stop-color="#25ab82"/><stop offset="0.1667" stop-color="#29af7f"/><stop offset="0.2083" stop-color="#31b57b"/><stop offset="0.2500" stop-color="#38b977"/><stop offset="0.2917" stop-color="#42be71"/><stop offset="0.3333" stop-color="#4cc26c"/><stop offset="0.3750" stop-color="#56c667"/><stop offset="0.4167" stop-color="#5cc863"/><stop offset="0.4583" stop-color="#60ca60"/><stop offset="0.5000" stop-color="#63cb5f"/><stop offset="0.5417" stop-color="#5ec962"/><stop offset="0.5833" stop-color="#58c765"/><stop offset="0.6250" stop-color="#4ec36b"/><stop offset="0.6667" stop-color="#40bd72"/><stop offset="0.7083" stop-color="#35b779"/><stop offset="0.7500" stop-color="#2cb17e"/><stop offset="0.7917" stop-color="#24aa83"/><stop offset="0.8333" stop-color="#1fa287"/><stop offset="0.8750" stop-color="#1e9c89"/><stop offset="0.9167" stop-color="#1f958b"/><stop offset="0.9583" stop-color="#218f8d"/><stop offset="1.0000" stop-color="#23898e"/></linearGradient>
<linearGradient id="h74" x1="0" y1="0" x2="1" y2="0"><stop offset="0.0000" stop-color="#1f9f88"/><stop offset="0.0417" stop-color="#1fa187"/><stop offset="0.0833" stop-color="#21a585"/><stop offset="0.1250" stop-color="#24aa83"/><stop offset="0.1667" stop-color="#28ae80"/><stop offset="0.2083" stop-color="#2eb37c"/><stop offset="0.2500" stop-color="#37b878"/><stop offset="0.2917" stop-color="#3fbc73"/><stop offset="0.3333" stop-color="#48c16e"/><stop offset="0.3750" stop-color="#50c46a"/><stop offset="0.4167" stop-color="#56c667"/><stop offset="0.4583" stop-color="#5ac864"/><stop offset="0.5000" stop-color="#5cc863"/><stop offset="0.5417" stop-color="#58c765"/><stop offset="0.5833" stop-color="#52c569"/><stop offset="0.6250" stop-color="#48c16e"/><stop offset="0.6667" stop-color="#3dbc74"/><stop offset="0.7083" stop-color="#32b67a"/><stop offset="0.7500" stop-color="#29af7f"/><stop offset="0.7917" stop-color="#22a884"/><stop offset="0.8333" stop-color="#1fa187"/><stop offset="0.8750" stop-color="#1f9a8a"/><stop offset="0.9167" stop-color="#20938c"/><stop offset="0.9583" stop-color="#228d8d"/><stop offset="1.0000" stop-color="#24878e"/></linearGradient>
<linearGradient id="h75" x1="0" y1="0" x2="1" y2="0"><stop offset="0.0000" stop-color="#1f9e89"/><stop offset="0.0417" stop-color="#1fa187"/><stop offset="0.0833" stop-color="#20a486"/><stop offset="0.1250" stop-color="#23a983"/><stop offset="0.1667" stop-color="#27ad81"/><stop offset="0.2083" stop-color="#2db27d"/><stop offset="0.2500" stop-color="#34b679"/><stop offset="0.2917" stop-color="#3bbb75"/><stop offset="0.3333" stop-color="#42be71"/><stop offset="0.3750" stop-color="#4ac16d"/><stop offset="0.4167" stop-color="#50c46a"/><stop offset="0.4583" stop-color="#54c568"/><stop offset="0.5000" stop-color="#56c667"/><stop offset="0.5417" stop-color="#52c569"/><stop offset="0.5833" stop-color="#4cc26c"/><stop offset="0.6250" stop-color="#42be71"/><stop offset="0.6667" stop-color="#38b977"/><stop offset="0.7083" stop-color="#2fb47c"/><stop offset="0.7500" stop-color="#27ad81"/><stop offset="0.7917" stop-color="#21a685"/><stop offset="0.8333" stop-color="#1fa088"/><stop offset="0.8750" stop-color="#1f988b"/><stop offset="0.9167" stop-color="#20928c"/><stop offset="0.9583" stop-color="#228b8d"/><stop offset="1.0000" stop-color="#25858e"/></linearGradient>
<linearGradient id="h76" x1="0" y1="0" x2="1" y2="0"><stop offset="0.0000" stop-color="#1f9e89"/><stop offset="0.0417" stop-color="#1fa188"/><stop offset="0.0833" stop-color="#20a386"/><stop offset="0.1250" stop-color="#22a884"/><stop offset="0.1667" stop-color="#25ac82"/><stop offset="0.2083" stop-color="#2ab07f"/><stop offset="0.2500" stop-color="#31b57b"/><stop offset="0.2917" stop-color="#38b977"/><stop offset="0.3333" stop-color="#3fbc73"/><stop offset="0.3750" stop-color="#46c06f"/><stop offset="0.4167" stop-color="#4cc26c"/><stop offset="0.4583" stop-color="#4ec36b"/><stop offset="0.5000" stop-color="#50c46a"/><stop offset="0.5417" stop-color="#4cc26c"/><stop offset="0.5833" stop-color="#46c06f"/><stop offset="0.6250" stop-color="#3fbc73"/><stop offset="0.6667" stop-color="#35b779"/><stop offset="0.7083" stop-color="#2cb17e"/><stop offset="0.7500" stop-color="#25ab82"/><stop offset="0.7917" stop-color="#20a486"/><stop offset="0.8333" stop-color="#1f9e89"/><stop offset="0.8750" stop-color="#1f968b"/><stop offset="0.9167" stop-color="#21908d"/><stop offset="0.9583" stop-color="#23898e"/><stop offset="1.0000" stop-color="#25838e"/></linearGradient>
<linearGradient id="h77" x1="0" y1="0" x2="1" y2="0"><stop offset="0.0000" stop-color="#1e9d89"/><stop offset="0.0417" stop-color="#1fa088"/><stop offset="0.0833" stop-color="#1fa287"/><stop offset="0.1250" stop-color="#21a685"/><stop offset="0.1667" stop-color="#25ab82"/><stop offset="0.2083" stop-color="#28ae80"/><stop offset="0.2500" stop-color="#2eb37c"/><stop offset="0.2917" stop-color="#34b679"/><stop offset="0.3333" stop-color="#3bbb75"/><stop offset="0.3750" stop-color="#40bd72"/><stop offset="0.4167" stop-color="#46c06f"/><stop offset="0.4583" stop-color="#48c16e"/><stop offset="0.5000" stop-color="#4ac16d"/><stop offset="0.5417" stop-color="#46c06f"/><stop offset="0.5833" stop-color="#40bd72"/><stop offset="0.6250" stop-color="#3aba76"/><stop offset="0.6667" stop-color="#31b57b"/><stop offset="0.7083" stop-color="#29af7f"/><stop offset="0.7500" stop-color="#23a983"/><stop offset="0.7917" stop-color="#1fa287"/><stop offset="0.8333" stop-color="#1e9c89"/><stop offset="0.8750" stop-color="#1f948c"/><stop offset="0.9167" stop-color="#218e8d"/><stop offset="0.9583" stop-color="#23888e"/><stop offset="1.0000" stop-color="#26828e"/></linearGradient>
<linearGradient id="h78" x1="0" y1="0" x2="1" y2="0"><stop offset="0.0000" stop-color="#1e9c89"/><stop offset="0.0417" stop-color="#1f9f88"/><stop offset="0.0833" stop-color="#1fa187"/><stop offset="0.1250" stop-color="#21a585"/><stop offset="0.1667" stop-color="#23a983"/><stop offset="0.2083" stop-color="#27ad81"/><stop offset="0.2500" stop-color="#2cb17e"/><stop offset="0.2917" stop-color="#31b57b"/><stop offset="0.3333" stop-color="#37b878"/><stop offset="0.3750" stop-color="#3dbc74"/><stop offset="0.4167" stop-color="#40bd72"/><stop offset="0.4583" stop-color="#44bf70"/><stop offset="0.5000" stop-color="#44bf70"/><stop offset="0.5417" stop-color="#42be71"/><stop offset="0.5833" stop-color="#3dbc74"/><stop offset="0.6250" stop-color="#35b779"/><stop offset="0.6667" stop-color="#2eb37c"/><stop offset="0.7083" stop-color="#27ad81"/><stop offset="0.7500" stop-color="#22a785"/><stop offset="0.7917" stop-color="#1fa188"/><stop offset="0.8333" stop-color="#1f9a8a"/><stop offset="0.8750" stop-color="#20938c"/><stop offset="0.9167" stop-color="#228c8d"/><stop offset="0.9583" stop-color="#24868e"/><stop offset="1.0000" stop-color="#27808e"/></linearGradient>
<linearGradient id="h79" x1="0" y1="0" x2="1" y2="0"><stop offset="0.0000" stop-color="#1e9b8a"/><stop offset="0.0417" stop-color="#1f9e89"/><stop offset="0.0833" stop-color="#1fa188"/><stop offset="0.1250" stop-color="#20a486"/><stop offset="0.1667" stop-color="#22a884"/><stop offset="0.2083" stop-color="#25ac82"/><stop offset="0.2500" stop-color="#29af7f"/><stop offset="0.2917" stop-color="#2eb37c"/><stop offset="0.3333" stop-color="#34b679"/><stop offset="0.3750" stop-color="#38b977"/><stop offset="0.4167" stop-color="#3dbc74"/><stop offset="0.4583" stop-color="#3fbc73"/><stop offset="0.5000" stop-color="#3fbc73"/><stop offset="0.5417" stop-color="#3dbc74"/><stop offset="0.5833" stop-color="#38b977"/><stop offset="0.6250" stop-color="#32b67a"/><stop offset="0.6667" stop-color="#2cb17e"/><stop offset="0.7083" stop-color="#25ac82"/><stop offset="0.7500" stop-color="#21a585"/><stop offset="0.7917" stop-color="#1f9f88"/><stop offset="0.8333" stop-color="#1f988b"/><stop offset="0.8750" stop-color="#20928c"/><stop offset="0.9167" stop-color="#238a8d"/><stop offset="0.9583" stop-color="#25838e"/><stop offset="1.0000" stop-color="#277e8e"/></linearGradient>
<linearGradient id="h80" x1="0" y1="0" x2="1" y2="0"><stop offset="0.0000" stop-color="#1e9b8a"/><stop offset="0.0417" stop-color="#1e9d89"/><stop offset="0.0833" stop-color="#1fa188"/><stop offset="0.1250" stop-color="#20a386"/><stop offset="0.1667" stop-color="#22a785"/><stop offset="0.2083" stop-color="#25ab82"/><stop offset="0.2500" stop-color="#28ae80"/><stop offset="0.2917" stop-color="#2cb17e"/><stop offset="0.3333" stop-color="#31b57b"/><stop offset="0.3750" stop-color="#35b779"/><stop offset="0.4167" stop-color="#38b977"/><stop offset="0.4583" stop-color="#3aba76"/><stop offset="0.5000" stop-color="#3bbb75"/><stop offset="0.5417" stop-color="#38b977"/><stop offset="0.5833" stop-color="#34b679"/><stop offset="0.6250" stop-color="#2eb37c"/><stop offset="0.6667" stop-color="#28ae80"/><stop offset="0.7083" stop-color="#23a983"/><stop offset="0.7500" stop-color="#20a386"/><stop offset="0.7917" stop-color="#1e9d89"/><stop offset="0.8333" stop-color="#1f968b"/><stop offset="0.8750" stop-color="#21908d"/><stop offset="0.9167" stop-color="#23888e"/><stop offset="0.9583" stop-color="#26828e"/><stop offset="1.0000" stop-color="#287c8e"/></linearGradient>
<linearGradient id="h81" x1="0" y1="0" x2="1" y2="0"><stop offset="0.0000" stop-color="#1f9a8a"/><stop offset="0.0417" stop-color="#1e9d89"/><stop offset="0.0833" stop-color="#1fa088"/><stop offset="0.1250" stop-color="#1fa287"/><stop offset="0.1667" stop-color="#21a585"/><stop offset="0.2083" stop-color="#23a983"/><stop offset="0.2500" stop-color="#26ad81"/><stop offset="0.2917" stop-color="#29af7f"/><stop offset="0.3333" stop-color="#2eb37c"/><stop offset="0.3750" stop-color="#31b57b"/><stop offset="0.4167" stop-color="#35b779"/><stop offset="0.4583" stop-color="#37b878"/><stop offset="0.5000" stop-color="#37b878"/><stop offset="0.5417" stop-color="#35b779"/><stop offset="0.5833" stop-color="#31b57b"/><stop offset="0.6250" stop-color="#2cb17e"/><stop offset="0.6667" stop-color="#26ad81"/><stop offset="0.7083" stop-color="#22a785"/><stop offset="0.7500" stop-color="#1fa187"/><stop offset="0.7917" stop-color="#1e9b8a"/><stop offset="0.8333" stop-color="#1f948c"/><stop offset="0.8750" stop-color="#218e8d"/><stop offset="0.9167" stop-color="#24868e"/><stop offset="0.9583" stop-color="#27808e"/><stop offset="1.0000" stop-color="#29798e"/></linearGradient>
<linearGradient id="h82" x1="0" y1="0" x2="1" y2="0"><stop offset="0.0000" stop-color="#1f998a"/><stop offset="0.0417" stop-color="#1e9c89"/><stop offset="0.0833" stop-color="#1f9f88"/><stop offset="0.1250" stop-color="#1fa187"/><stop offset="0.1667" stop-color="#20a486"/><stop offset="0.2083" stop-color="#22a884"/><stop offset="0.2500" stop-color="#25ab82"/><stop offset="0.2917" stop-color="#27ad81"/><stop offset="0.3333" stop-color="#2cb17e"/><stop offset="0.3750" stop-color="#2eb37c"/><stop offset="0.4167" stop-color="#31b57b"/><stop offset="0.4583" stop-color="#32b67a"/><stop offset="0.5000" stop-color="#32b67a"/><stop offset="0.5417" stop-color="#31b57b"/><stop offset="0.5833" stop-color="#2eb37c"/><stop offset="0.6250" stop-color="#29af7f"/><stop offset="0.6667" stop-color="#25ab82"/><stop offset="0.7083" stop-color="#21a585"/><stop offset="0.7500" stop-color="#1fa088"/><stop offset="0.7917" stop-color="#1f998a"/><stop offset="0.8333" stop-color="#20928c"/><stop offset="0.8750" stop-color="#228c8d"/><stop offset="0.9167" stop-color="#25848e"/><stop offset="0.9583" stop-color="#277e8e"/><stop offset="1.0000" stop-color="#2a778e"/></linearGradient>
<linearGradient id="h83" x1="0" y1="0" x2="1" y2="0"><stop offset="0.0000" stop-color="#1f998a"/><stop offset="0.0417" stop-color="#1e9b8a"/><stop offset="0.0833" stop-color="#1f9e89"/><stop offset="0.1250" stop-color="#1fa188"/><stop offset="0.1667" stop-color="#20a386"/><stop offset="0.2083" stop-color="#21a685"/><stop offset="0.2500" stop-color="#23a983"/><stop offset="0.2917" stop-color="#26ad81"/><stop offset="0.3333" stop-color="#28ae80"/><stop offset="0.3750" stop-color="#2cb17e"/><stop offset="0.4167" stop-color="#2eb37c"/><stop offset="0.4583" stop-color="#2fb47c"/><stop offset="0.5000" stop-color="#2fb47c"/><stop offset="0.5417" stop-color="#2eb37c"/><stop offset="0.5833" stop-color="#2ab07f"/><stop offset="0.6250" stop-color="#26ad81"/><stop offset="0.6667" stop-color="#22a884"/><stop offset="0.7083" stop-color="#20a386"/><stop offset="0.7500" stop-color="#1e9d89"/><stop offset="0.7917" stop-color="#1f978b"/><stop offset="0.8333" stop-color="#21918c"/><stop offset="0.8750" stop-color="#238a8d"/><stop offset="0.9167" stop-color="#26828e"/><stop offset="0.9583" stop-color="#287c8e"/><stop offset="1.0000" stop-color="#2b758e"/></linearGradient>
<linearGradient id="h84" x1="0" y1="0" x2="1" y2="0"><stop offset="0.0000" stop-color="#1f988b"/><stop offset="0.0417" stop-color="#1f9a8a"/><stop offset="0.0833" stop-color="#1e9d89"/><stop offset="0.1250" stop-color="#1fa088"/><stop offset="0.1667" stop-color="#1fa287"/><stop offset="0.2083" stop-color="#21a585"/><stop offset="0.2500" stop-color="#22a884"/><stop offset="0.2917" stop-color="#25ab82"/><stop offset="0.3333" stop-color="#27ad81"/><stop offset="0.3750" stop-color="#29af7f"/><stop offset="0.4167" stop-color="#2ab07f"/><stop offset="0.4583" stop-color="#2cb17e"/><stop offset="0.5000" stop-color="#2db27d"/><stop offset="0.5417" stop-color="#2ab07f"/><stop offset="0.5833" stop-color="#28ae80"/><stop offset="0.6250" stop-color="#25ab82"/><stop offset="0.6667" stop-color="#21a685"/><stop offset="0.7083" stop-color="#1fa187"/><stop offset="0.7500" stop-color="#1e9b8a"/><stop offset="0.7917" stop-color="#1f958b"/><stop offset="0.8333" stop-color="#218f8d"/><stop offset="0.8750" stop-color="#24878e"/><stop offset="0.9167" stop-color="#26818e"/><stop offset="0.9583" stop-color="#297a8e"/><stop offset="1.0000" stop-color="#2c728e"/></linearGradient>
<linearGradient id="h85" x1="0" y1="0" x2="1" y2="0"><stop offset="0.0000" stop-color="#1f978b"/><stop offset="0.0417" stop-color="#1f998a"/><stop offset="0.0833" stop-color="#1e9c89"/><stop offset="0.1250" stop-color="#1f9e89"/><stop offset="0.1667" stop-color="#1fa188"/><stop offset="0.2083" stop-color="#20a386"/><stop offset="0.2500" stop-color="#21a685"/><stop offset="0.2917" stop-color="#23a983"/><stop offset="0.3333" stop-color="#25ac82"/><stop offset="0.3750" stop-color="#27ad81"/><stop offset="0.4167" stop-color="#28ae80"/><stop offset="0.4583" stop-color="#29af7f"/><stop offset="0.5000" stop-color="#29af7f"/><stop offset="0.5417" stop-color="#28ae80"/><stop offset="0.5833" stop-color="#26ad81"/><stop offset="0.6250" stop-color="#23a983"/><stop offset="0.6667" stop-color="#20a486"/><stop offset="0.7083" stop-color="#1fa088"/><stop offset="0.7500" stop-color="#1f998a"/><stop offset="0.7917" stop-color="#20938c"/><stop offset="0.8333" stop-color="#228d8d"/><stop offset="0.8750" stop-color="#25858e"/><stop offset="0.9167" stop-color="#277f8e"/><stop offset="0.9583" stop-color="#2a788e"/><stop offset="1.0000" stop-color="#2d718e"/></linearGradient>
<linearGradient id="h86" x1="0" y1="0" x2="1" y2="0"><stop offset="0.0000" stop-color="#1f978b"/><stop offset="0.0417" stop-color="#1f998a"/><stop offset="0.0833" stop-color="#1e9b8a"/><stop offset="0.1250" stop-color="#1e9d89"/><stop offset="0.1667" stop-color="#1fa088"/><stop offset="0.2083" stop-color="#1fa287"/><stop offset="0.2500" stop-color="#21a585"/><stop offset="0.2917" stop-color="#22a785"/><stop offset="0.3333" stop-color="#24aa83"/><stop offset="0.3750" stop-color="#25ac82"/><stop offset="0.4167" stop-color="#26ad81"/><stop offset="0.4583" stop-color="#27ad81"/><stop offset="0.5000" stop-color="#27ad81"/><stop offset="0.5417" stop-color="#26ad81"/><stop offset="0.5833" stop-color="#25ab82"/><stop offset="0.6250" stop-color="#22a785"/><stop offset="0.6667" stop-color="#1fa287"/><stop offset="0.7083" stop-color="#1f9e89"/><stop offset="0.7500" stop-color="#1f978b"/><stop offset="0.7917" stop-color="#20928c"/><stop offset="0.8333" stop-color="#228b8d"/><stop offset="0.8750" stop-color="#25838e"/><stop offset="0.9167" stop-color="#287d8e"/><stop offset="0.9583" stop-color="#2b758e"/><stop offset="1.0000" stop-color="#2e6f8e"/></linearGradient>
<linearGradient id="h87" x1="0" y1="0" x2="1" y2="0"><stop offset="0.0000" stop-color="#1f968b"/><stop offset="0.0417" stop-color="#1f988b"/><stop offset="0.0833" stop-color="#1f9a8a"/><stop offset="0.1250" stop-color="#1e9c89"/><stop offset="0.1667" stop-color="#1f9f88"/><stop offset="0.2083" stop-color="#1fa187"/><stop offset="0.2500" stop-color="#20a386"/><stop offset="0.2917" stop-color="#21a685"/><stop offset="0.3333" stop-color="#22a884"/><stop offset="0.3750" stop-color="#24aa83"/><stop offset="0.4167" stop-color="#25ab82"/><stop offset="0.4583" stop-color="#25ac82"/><stop offset="0.5000" stop-color="#25ac82"/><stop offset="0.5417" stop-color="#25ab82"/><stop offset="0.5833" stop-color="#22a884"/><stop offset="0.6250" stop-color="#21a585"/><stop offset="0.6667" stop-color="#1fa188"/><stop offset="0.7083" stop-color="#1e9c89"/><stop offset="0.7500" stop-color="#1f958b"/><stop offset="0.7917" stop-color="#21908d"/><stop offset="0.8333" stop-color="#23898e"/><stop offset="0.8750" stop-color="#26828e"/><stop offset="0.9167" stop-color="#297b8e"/><stop offset="0.9583" stop-color="#2c738e"/><stop offset="1.0000" stop-color="#2f6c8e"/></linearGradient>
<linearGradient id="h88" x1="0" y1="0" x2="1" y2="0"><stop offset="0.0000" stop-color="#1f958b"/><stop offset="0.0417" stop-color="#1f978b"/><stop offset="0.0833" stop-color="#1f998a"/><stop offset="0.1250" stop-color="#1e9b8a"/><stop offset="0.1667" stop-color="#1f9e89"/><stop offset="0.2083" stop-color="#1fa088"/><stop offset="0.2500" stop-color="#1fa287"/><stop offset="0.2917" stop-color="#20a486"/><stop offset="0.3333" stop-color="#21a685"/><stop offset="0.3750" stop-color="#22a884"/><stop offset="0.4167" stop-color="#23a983"/><stop offset="0.4583" stop-color="#24aa83"/><stop offset="0.5000" stop-color="#24aa83"/><stop offset="0.5417" stop-color="#23a983"/><stop offset="0.5833" stop-color="#21a685"/><stop offset="0.6250" stop-color="#20a386"/><stop offset="0.6667" stop-color="#1f9f88"/><stop offset="0.7083" stop-color="#1f9a8a"/><stop offset="0.7500" stop-color="#1f948c"/><stop offset="0.7917" stop-color="#218e8d"/><stop offset="0.8333" stop-color="#24878e"/><stop offset="0.8750" stop-color="#27808e"/><stop offset="0.9167" stop-color="#29798e"/><stop offset="0.9583" stop-color="#2c718e"/><stop offset="1.0000" stop-color="#306a8e"/></linearGradient>
<linearGradient id="h89" x1="0" y1="0" x2="1" y2="0"><stop offset="0.0000" stop-color="#1f958b"/><stop offset="0.0417" stop-color="#1f968b"/><stop offset="0.0833" stop-color="#1f988b"/><stop offset="0.1250" stop-color="#1e9b8a"/><stop offset="0.1667" stop-color="#1e9d89"/><stop offset="0.2083" stop-color="#1f9f88"/><stop offset="0.2500" stop-color="#1fa188"/><stop offset="0.2917" stop-color="#20a386"/><stop offset="0.3333" stop-color="#21a585"/><stop offset="0.3750" stop-color="#21a685"/><stop offset="0.4167" stop-color="#22a785"/><stop offset="0.4583" stop-color="#22a884"/><stop offset="0.5000" stop-color="#22a884"/><stop offset="0.5417" stop-color="#22a785"/><stop offset="0.5833" stop-color="#21a585"/><stop offset="0.6250" stop-color="#1fa187"/><stop offset="0.6667" stop-color="#1e9d89"/><stop offset="0.7083" stop-color="#1f988b"/><stop offset="0.7500" stop-color="#20928c"/><stop offset="0.7917" stop-color="#228c8d"/><stop offset="0.8333" stop-color="#25858e"/><stop offset="0.8750" stop-color="#277e8e"/><stop offset="0.9167" stop-color="#2a768e"/><stop offset="0.9583" stop-color="#2e6f8e"/><stop offset="1.0000" stop-color="#31678e"/></linearGradient>
<linearGradient id="h90" x1="0" y1="0" x2="1" y2="0"><stop offset="0.0000" stop-color="#1f948c"/><stop offset="0.0417" stop-color="#1f968b"/><stop offset="0.0833" stop-color="#1f988b"/><stop offset="0.1250" stop-color="#1f9a8a"/><stop offset="0.1667" stop-color="#1e9c89"/><stop offset="0.2083" stop-color="#1f9e89"/><stop offset="0.2500" stop-color="#1fa088"/><stop offset="0.2917" stop-color="#1fa187"/><stop offset="0.3333" stop-color="#20a386"/><stop offset="0.3750" stop-color="#20a486"/><stop offset="0.4167" stop-color="#21a685"/><stop offset="0.4583" stop-color="#21a685"/><stop offset="0.5000" stop-color="#21a685"/><stop offset="0.5417" stop-color="#21a585"/><stop offset="0.5833" stop-color="#20a386"/><stop offset="0.6250" stop-color="#1fa088"/><stop offset="0.6667" stop-color="#1e9b8a"/><stop offset="0.7083" stop-color="#1f968b"/><stop offset="0.7500" stop-color="#21918c"/><stop offset="0.7917" stop-color="#238a8d"/><stop offset="0.8333" stop-color="#25838e"/><stop offset="0.8750" stop-color="#287c8e"/><stop offset="0.9167" stop-color="#2b748e"/><stop offset="0.9583" stop-color="#2e6d8e"/><stop offset="1.0000" stop-color="#32658e"/></linearGradient>
<linearGradient id="h91" x1="0" y1="0" x2="1" y2="0"><stop offset="0.0000" stop-color="#20938c"/><stop offset="0.0417" stop-color="#1f958b"/><stop offset="0.0833" stop-color="#1f978b"/><stop offset="0.1250" stop-color="#1f998a"/><stop offset="0.1667" stop-color="#1e9b8a"/><stop offset="0.2083" stop-color="#1e9d89"/><stop offset="0.2500" stop-color="#1f9f88"/><stop offset="0.2917" stop-color="#1fa188"/><stop offset="0.3333" stop-color="#1fa187"/><stop offset="0.3750" stop-color="#20a386"/><stop offset="0.4167" stop-color="#20a486"/><stop offset="0.4583" stop-color="#21a585"/><stop offset="0.5000" stop-color="#21a585"/><stop offset="0.5417" stop-color="#20a486"/><stop offset="0.5833" stop-color="#1fa187"/><stop offset="0.6250" stop-color="#1f9e89"/><stop offset="0.6667" stop-color="#1f9a8a"/><stop offset="0.7083" stop-color="#1f948c"/><stop offset="0.7500" stop-color="#218f8d"/><stop offset="0.7917" stop-color="#23888e"/><stop offset="0.8333" stop-color="#26828e"/><stop offset="0.8750" stop-color="#297a8e"/><stop offset="0.9167" stop-color="#2c728e"/><stop offset="0.9583" stop-color="#2f6b8e"/><stop offset="1.0000" stop-color="#33628d"/></linearGradient>
<linearGradient id="h92" x1="0" y1="0" x2="1" y2="0"><stop offset="0.0000" stop-color="#20938c"/><stop offset="0.0417" stop-color="#1f948c"/><stop offset="0.0833" stop-color="#1f968b"/><stop offset="0.1250" stop-color="#1f988b"/><stop offset="0.1667" stop-color="#1f9a8a"/><stop offset="0.2083" stop-color="#1e9c89"/><stop offset="0.2500" stop-color="#1f9e89"/><stop offset="0.2917" stop-color="#1f9f88"/><stop offset="0.3333" stop-color="#1fa188"/><stop offset="0.3750" stop-color="#1fa187"/><stop offset="0.4167" stop-color="#1fa287"/><stop offset="0.4583" stop-color="#20a386"/><stop offset="0.5000" stop-color="#20a386"/><stop offset="0.5417" stop-color="#1fa287"/><stop offset="0.5833" stop-color="#1fa088"/><stop offset="0.6250" stop-color="#1e9d89"/><stop offset="0.6667" stop-color="#1f988b"/><stop offset="0.7083" stop-color="#20928c"/><stop offset="0.7500" stop-color="#228d8d"/><stop offset="0.7917" stop-color="#24868e"/><stop offset="0.8333" stop-color="#27808e"/><stop offset="0.8750" stop-color="#2a788e"/><stop offset="0.9167" stop-color="#2d718e"/><stop offset="0.9583" stop-color="#31688e"/><stop offset="1.0000" stop-color="#355f8d"/></linearGradient>
<linearGradient id="h93" x1="0" y1="0" x2="1" y2="0"><stop offset="0.0000" stop-color="#20928c"/><stop offset="0.0417" stop-color="#1f948c"/><stop offset="0.0833" stop-color="#1f958b"/><stop offset="0.1250" stop-color="#1f978b"/><stop offset="0.1667" stop-color="#1f998a"/><stop offset="0.2083" stop-color="#1e9b8a"/><stop offset="0.2500" stop-color="#1e9c89"/><stop offset="0.2917" stop-color="#1f9e89"/><stop offset="0.3333" stop-color="#1fa088"/><stop offset="0.3750" stop-color="#1fa188"/><stop offset="0.4167" stop-color="#1fa187"/><stop offset="0.4583" stop-color="#1fa187"/><stop offset="0.5000" stop-color="#1fa187"/><stop offset="0.5417" stop-color="#1fa188"/><stop offset="0.5833" stop-color="#1f9f88"/><stop offset="0.6250" stop-color="#1e9b8a"/><stop offset="0.6667" stop-color="#1f968b"/><stop offset="0.7083" stop-color="#20928c"/><stop offset="0.7500" stop-color="#228b8d"/><stop offset="0.7917" stop-color="#25858e"/><stop offset="0.8333" stop-color="#277e8e"/><stop offset="0.8750" stop-color="#2a768e"/><stop offset="0.9167" stop-color="#2e6f8e"/><stop offset="0.9583" stop-color="#31668e"/><stop offset="1.0000" stop-color="#365d8d"/></linearGradient>
<linearGradient id="h94" x1="0" y1="0" x2="1" y2="0"><stop offset="0.0000" stop-color="#20928c"/><stop offset="0.0417" stop-color="#20938c"/><stop offset="0.0833" stop-color="#1f958b"/><stop offset="0.1250" stop-color="#1f968b"/><stop offset="0.1667" stop-color="#1f988b"/><stop offset="0.2083" stop-color="#1f9a8a"/><stop offset="0.2500" stop-color="#1e9b8a"/><stop offset="0.2917" stop-color="#1e9d89"/><stop offset="0.3333" stop-color="#1f9e89"/><stop offset="0.3750" stop-color="#1f9f88"/><stop offset="0.4167" stop-color="#1fa088"/><stop offset="0.4583" stop-color="#1fa188"/><stop offset="0.5000" stop-color="#1fa188"/><stop offset="0.5417" stop-color="#1fa088"/><stop offset="0.5833" stop-color="#1e9d89"/><stop offset="0.6250" stop-color="#1f998a"/><stop offset="0.6667" stop-color="#1f958b"/><stop offset="0.7083" stop-color="#21908d"/><stop offset="0.7500" stop-color="#238a8d"/><stop offset="0.7917" stop-color="#25838e"/><stop offset="0.8333" stop-color="#287c8e"/><stop offset="0.8750" stop-color="#2b748e"/><stop offset="0.9167" stop-color="#2f6c8e"/><stop offset="0.9583" stop-color="#32648e"/><stop offset="1.0000" stop-color="#375a8c"/></linearGradient>
<linearGradient id="h95" x1="0" y1="0" x2="1" y2="0"><stop offset="0.0000" stop-color="#20928c"/><stop offset="0.0417" stop-color="#20928c"/><stop offset="0.0833" stop-color="#1f948c"/><stop offset="0.1250" stop-color="#1f958b"/><stop offset="0.1667" stop-color="#1f978b"/><stop offset="0.2083" stop-color="#1f998a"/><stop offset="0.2500" stop-color="#1f9a8a"/><stop offset="0.2917" stop-color="#1e9c89"/><stop offset="0.3333" stop-color="#1e9d89"/><stop offset="0.3750" stop-color="#1f9e89"/><stop offset="0.4167" stop-color="#1f9f88"/><stop offset="0.4583" stop-color="#1f9f88"/><stop offset="0.5000" stop-color="#1fa088"/><stop offset="0.5417" stop-color="#1f9e89"/><stop offset="0.5833" stop-color="#1e9c89"/><stop offset="0.6250" stop-color="#1f988b"/><stop offset="0.6667" stop-color="#20938c"/><stop offset="0.7083" stop-color="#218f8d"/><stop offset="0.7500" stop-color="#23888e"/><stop offset="0.7917" stop-color="#26828e"/><stop offset="0.8333" stop-color="#297a8e"/><stop offset="0.8750" stop-color="#2c728e"/><stop offset="0.9167" stop-color="#306a8e"/><stop offset="0.9583" stop-color="#34618d"/><stop offset="1.0000" stop-color="#38588c"/></linearGradient>
<linearGradient id="h96" x1="0" y1="0" x2="1" y2="0"><stop offset="0.0000" stop-color="#20928c"/><stop offset="0.0417" stop-color="#20928c"/><stop offset="0.0833" stop-color="#20938c"/><stop offset="0.1250" stop-color="#1f958b"/><stop offset="0.1667" stop-color="#1f968b"/><stop offset="0.2083" stop-color="#1f988b"/><stop offset="0.2500" stop-color="#1f998a"/><stop offset="0.2917" stop-color="#1e9b8a"/><stop offset="0.3333" stop-color="#1e9c89"/><stop offset="0.3750" stop-color="#1e9d89"/><stop offset="0.4167" stop-color="#1f9e89"/><stop offset="0.4583" stop-color="#1f9e89"/><stop offset="0.5000" stop-color="#1f9e89"/><stop offset="0.5417" stop-color="#1e9d89"/><stop offset="0.5833" stop-color="#1f9a8a"/><stop offset="0.6250" stop-color="#1f978b"/><stop offset="0.6667" stop-color="#20928c"/><stop offset="0.7083" stop-color="#228d8d"/><stop offset="0.7500" stop-color="#24868e"/><stop offset="0.7917" stop-color="#27808e"/><stop offset="0.8333" stop-color="#2a788e"/><stop offset="0.8750" stop-color="#2d718e"/><stop offset="0.9167" stop-color="#31688e"/><stop offset="0.9583" stop-color="#355f8d"/><stop offset="1.0000" stop-color="#3a548c"/></linearGradient>
<linearGradient id="h97" x1="0" y1="0" x2="1" y2="0"><stop offset="0.0000" stop-color="#21918c"/><stop offset="0.0417" stop-color="#20928c"/><stop offset="0.0833" stop-color="#20938c"/><stop offset="0.1250" stop-color="#1f948c"/><stop offset="0.1667" stop-color="#1f958b"/><stop offset="0.2083" stop-color="#1f978b"/><stop offset="0.2500" stop-color="#1f988b"/><stop offset="0.2917" stop-color="#1f998a"/><stop offset="0.3333" stop-color="#1e9b8a"/><stop offset="0.3750" stop-color="#1e9c89"/><stop offset="0.4167" stop-color="#1e9c89"/><stop offset="0.4583" stop-color="#1e9d89"/><stop offset="0.5000" stop-color="#1e9d89"/><stop offset="0.5417" stop-color="#1e9c89"/><stop offset="0.5833" stop-color="#1f998a"/><stop offset="0.6250" stop-color="#1f958b"/><stop offset="0.6667" stop-color="#21918c"/><stop offset="0.7083" stop-color="#228b8d"/><stop offset="0.7500" stop-color="#25858e"/><stop offset="0.7917" stop-color="#277e8e"/><stop offset="0.8333" stop-color="#2a768e"/><stop offset="0.8750" stop-color="#2e6f8e"/><stop offset="0.9167" stop-color="#31668e"/><stop offset="0.9583" stop-color="#365c8d"/><stop offset="1.0000" stop-color="#3b518b"/></linearGradient>
<linearGradient id="h98" x1="0" y1="0" x2="1" y2="0"><stop offset="0.0000" stop-color="#21918c"/><stop offset="0.0417" stop-color="#20928c"/><stop offset="0.0833" stop-color="#20928c"/><stop offset="0.1250" stop-color="#20938c"/><stop offset="0.1667" stop-color="#1f958b"/><stop offset="0.2083" stop-color="#1f968b"/><stop offset="0.2500" stop-color="#1f978b"/><stop offset="0.2917" stop-color="#1f988b"/><stop offset="0.3333" stop-color="#1f9a8a"/><stop offset="0.3750" stop-color="#1f9a8a"/><stop offset="0.4167" stop-color="#1e9b8a"/><stop offset="0.4583" stop-color="#1e9c89"/><stop offset="0.5000" stop-color="#1e9c89"/><stop offset="0.5417" stop-color="#1f9a8a"/><stop offset="0.5833" stop-color="#1f988b"/><stop offset="0.6250" stop-color="#1f948c"/><stop offset="0.6667" stop-color="#21908d"/><stop offset="0.7083" stop-color="#238a8d"/><stop offset="0.7500" stop-color="#25838e"/><stop offset="0.7917" stop-color="#287d8e"/><stop offset="0.8333" stop-color="#2b758e"/><stop offset="0.8750" stop-color="#2e6d8e"/><stop offset="0.9167" stop-color="#33638d"/><stop offset="0.9583" stop-color="#375a8c"/><stop offset="1.0000" stop-color="#3d4e8a"/></linearGradient>
<linearGradient id="h99" x1="0" y1="0" x2="1" y2="0"><stop offset="0.0000" stop-color="#21908d"/><stop offset="0.0417" stop-color="#21918c"/><stop offset="0.0833" stop-color="#20928c"/><stop offset="0.1250" stop-color="#20938c"/><stop offset="0.1667" stop-color="#1f948c"/><stop offset="0.2083" stop-color="#1f958b"/><stop offset="0.2500" stop-color="#1f968b"/><stop offset="0.2917" stop-color="#1f978b"/><stop offset="0.3333" stop-color="#1f988b"/><stop offset="0.3750" stop-color="#1f998a"/><stop offset="0.4167" stop-color="#1f9a8a"/><stop offset="0.4583" stop-color="#1f9a8a"/><stop offset="0.5000" stop-color="#1e9b8a"/><stop offset="0.5417" stop-color="#1f998a"/><stop offset="0.5833" stop-color="#1f978b"/><stop offset="0.6250" stop-color="#20938c"/><stop offset="0.6667" stop-color="#218f8d"/><stop offset="0.7083" stop-color="#23898e"/><stop offset="0.7500" stop-color="#26828e"/><stop offset="0.7917" stop-color="#297b8e"/><stop offset="0.8333" stop-color="#2c738e"/><stop offset="0.8750" stop-color="#2f6b8e"/><stop offset="0.9167" stop-color="#34618d"/><stop offset="0.9583" stop-color="#39568c"/><stop offset="1.0000" stop-color="#3e4c8a"/></linearGradient>
<linearGradient id="h100" x1="0" y1="0" x2="1" y2="0"><stop offset="0.0000" stop-color="#21908d"/><stop offset="0.0417" stop-color="#21918c"/><stop offset="0.0833" stop-color="#20928c"/><stop offset="0.1250" stop-color="#20928c"/><stop offset="0.1667" stop-color="#20938c"/><stop offset="0.2083" stop-color="#1f948c"/><stop offset="0.2500" stop-color="#1f958b"/><stop offset="0.2917" stop-color="#1f978b"/><stop offset="0.3333" stop-color="#1f978b"/><stop offset="0.3750" stop-color="#1f988b"/><stop offset="0.4167" stop-color="#1f998a"/><stop offset="0.4583" stop-color="#1f998a"/><stop offset="0.5000" stop-color="#1f9a8a"/><stop offset="0.5417" stop-color="#1f988b"/><stop offset="0.5833" stop-color="#1f958b"/><stop offset="0.6250" stop-color="#20928c"/><stop offset="0.6667" stop-color="#228d8d"/><stop offset="0.7083" stop-color="#24878e"/><stop offset="0.7500" stop-color="#26818e"/><stop offset="0.7917" stop-color="#29798e"/><stop offset="0.8333" stop-color="#2c718e"/><stop offset="0.8750" stop-color="#30698e"/><stop offset="0.9167" stop-color="#355f8d"/><stop offset="0.9583" stop-color="#3a548c"/><stop offset="1.0000" stop-color="#3f4889"/></linearGradient>
<linearGradient id="h101" x1="0" y1="0" x2="1" y2="0"><stop offset="0.0000" stop-color="#218f8d"/><stop offset="0.0417" stop-color="#21908d"/><stop offset="0.0833" stop-color="#21918c"/><stop offset="0.1250" stop-color="#20928c"/><stop offset="0.1667" stop-color="#20928c"/><stop offset="0.2083" stop-color="#1f948c"/><stop offset="0.2500" stop-color="#1f958b"/><stop offset="0.2917" stop-color="#1f968b"/><stop offset="0.3333" stop-color="#1f978b"/><stop offset="0.3750" stop-color="#1f978b"/><stop offset="0.4167" stop-color="#1f988b"/><stop offset="0.4583" stop-color="#1f988b"/><stop offset="0.5000" stop-color="#1f988b"/><stop offset="0.5417" stop-color="#1f978b"/><stop offset="0.5833" stop-color="#1f948c"/><stop offset="0.6250" stop-color="#21918c"/><stop offset="0.6667" stop-color="#228c8d"/><stop offset="0.7083" stop-color="#24868e"/><stop offset="0.7500" stop-color="#27808e"/><stop offset="0.7917" stop-color="#2a788e"/><stop offset="0.8333" stop-color="#2d708e"/><stop offset="0.8750" stop-color="#31678e"/><stop offset="0.9167" stop-color="#365d8d"/><stop offset="0.9583" stop-color="#3b518b"/><stop offset="1.0000" stop-color="#404588"/></linearGradient>
<linearGradient id="h102" x1="0" y1="0" x2="1" y2="0"><stop offset="0.0000" stop-color="#218f8d"/><stop offset="0.0417" stop-color="#21908d"/><stop offset="0.0833" stop-color="#21918c"/><stop offset="0.1250" stop-color="#20928c"/><stop offset="0.1667" stop-color="#20928c"/><stop offset="0.2083" stop-color="#20938c"/><stop offset="0.2500" stop-color="#1f948c"/><stop offset="0.2917" stop-color="#1f958b"/><stop offset="0.3333" stop-color="#1f968b"/><stop offset="0.3750" stop-color="#1f968b"/><stop offset="0.4167" stop-color="#1f978b"/><stop offset="0.4583" stop-color="#1f978b"/><stop offset="0.5000" stop-color="#1f988b"/><stop offset="0.5417" stop-color="#1f968b"/><stop offset="0.5833" stop-color="#20938c"/><stop offset="0.6250" stop-color="#21908d"/><stop offset="0.6667" stop-color="#228b8d"/><stop offset="0.7083" stop-color="#25858e"/><stop offset="0.7500" stop-color="#277e8e"/><stop offset="0.7917" stop-color="#2a768e"/><stop offset="0.8333" stop-color="#2e6e8e"/><stop offset="0.8750" stop-color="#32658e"/><stop offset="0.9167" stop-color="#375a8c"/><stop offset="0.9583" stop-color="#3d4e8a"/><stop offset="1.0000" stop-color="#424186"/></linearGradient>
<linearGradient id="h103" x1="0" y1="0" x2="1" y2="0"><stop offset="0.0000" stop-color="#218e8d"/><stop offset="0.0417" stop-color="#218f8d"/><stop offset="0.0833" stop-color="#21908d"/><stop offset="0.1250" stop-color="#21918c"/><stop offset="0.1667" stop-color="#20928c"/><stop offset="0.2083" stop-color="#20928c"/><stop offset="0.2500" stop-color="#20938c"/><stop offset="0.2917" stop-color="#1f948c"/><stop offset="0.3333" stop-color="#1f958b"/><stop offset="0.3750" stop-color="#1f968b"/><stop offset="0.4167" stop-color="#1f968b"/><stop offset="0.4583" stop-color="#1f968b"/><stop offset="0.5000" stop-color="#1f978b"/><stop offset="0.5417" stop-color="#1f958b"/><stop offset="0.5833" stop-color="#20928c"/><stop offset="0.6250" stop-color="#218f8d"/><stop offset="0.6667" stop-color="#238a8d"/><stop offset="0.7083" stop-color="#25838e"/><stop offset="0.7500" stop-color="#287d8e"/><stop offset="0.7917" stop-color="#2b758e"/><stop offset="0.8333" stop-color="#2f6c8e"/><stop offset="0.8750" stop-color="#33638d"/><stop offset="0.9167" stop-color="#38588c"/><stop offset="0.9583" stop-color="#3e4c8a"/><stop offset="1.0000" stop-color="#433e85"/></linearGradient>
<linearGradient id="h104" x1="0" y1="0" x2="1" y2="0"><stop offset="0.0000" stop-color="#218e8d"/><stop offset="0.0417" stop-color="#218f8d"/><stop offset="0.0833" stop-color="#21908d"/><stop offset="0.1250" stop-color="#21918c"/><stop offset="0.1667" stop-color="#20928c"/><stop offset="0.2083" stop-color="#20928c"/><stop offset="0.2500" stop-color="#20928c"/><stop offset="0.2917" stop-color="#20938c"/><stop offset="0.3333" stop-color="#1f948c"/><stop offset="0.3750" stop-color="#1f958b"/><stop offset="0.4167" stop-color="#1f958b"/><stop offset="0.4583" stop-color="#1f968b"/><stop offset="0.5000" stop-color="#1f968b"/><stop offset="0.5417" stop-color="#1f948c"/><stop offset="0.5833" stop-color="#20928c"/><stop offset="0.6250" stop-color="#218e8d"/><stop offset="0.6667" stop-color="#23898e"/><stop offset="0.7083" stop-color="#26828e"/><stop offset="0.7500" stop-color="#297b8e"/><stop offset="0.7917" stop-color="#2c738e"/><stop offset="0.8333" stop-color="#2f6b8e"/><stop offset="0.8750" stop-color="#34618d"/><stop offset="0.9167" stop-color="#39558c"/><stop offset="0.9583" stop-color="#3f4889"/><stop offset="1.0000" stop-color="#443a83"/></linearGradient>
<linearGradient id="h105" x1="0" y1="0" x2="1" y2="0"><stop offset="0.0000" stop-color="#218e8d"/><stop offset="0.0417" stop-color="#218e8d"/><stop offset="0.0833" stop-color="#218f8d"/><stop offset="0.1250" stop-color="#21908d"/><stop offset="0.1667" stop-color="#21918c"/><stop offset="0.2083" stop-color="#20928c"/><stop offset="0.2500" stop-color="#20928c"/><stop offset="0.2917" stop-color="#20938c"/><stop offset="0.3333" stop-color="#20938c"/><stop offset="0.3750" stop-color="#1f948c"/><stop offset="0.4167" stop-color="#1f948c"/><stop offset="0.4583" stop-color="#1f958b"/><stop offset="0.5000" stop-color="#1f958b"/><stop offset="0.5417" stop-color="#1f948c"/><stop offset="0.5833" stop-color="#20928c"/><stop offset="0.6250" stop-color="#228d8d"/><stop offset="0.6667" stop-color="#24878e"/><stop offset="0.7083" stop-color="#26828e"/><stop offset="0.7500" stop-color="#297a8e"/><stop offset="0.7917" stop-color="#2c718e"/><stop offset="0.8333" stop-color="#30698e"/><stop offset="0.8750" stop-color="#355f8d"/><stop offset="0.9167" stop-color="#3b528b"/><stop offset="0.9583" stop-color="#404688"/><stop offset="1.0000" stop-color="#453781"/></linearGradient>
<linearGradient id="h106" x1="0" y1="0" x2="1" y2="0"><stop offset="0.0000" stop-color="#228d8d"/><stop offset="0.0417" stop-color="#218e8d"/><stop offset="0.0833" stop-color="#218f8d"/><stop offset="0.1250" stop-color="#21908d"/><stop offset="0.1667" stop-color="#21908d"/><stop offset="0.2083" stop-color="#21918c"/><stop offset="0.2500" stop-color="#20928c"/><stop offset="0.2917" stop-color="#20928c"/><stop offset="0.3333" stop-color="#20938c"/><stop offset="0.3750" stop-color="#20938c"/><stop offset="0.4167" stop-color="#1f948c"/><stop offset="0.4583" stop-color="#1f948c"/><stop offset="0.5000" stop-color="#1f948c"/><stop offset="0.5417" stop-color="#20938c"/><stop offset="0.5833" stop-color="#21918c"/><stop offset="0.6250" stop-color="#228c8d"/><stop offset="0.6667" stop-color="#24868e"/><stop offset="0.7083" stop-color="#26818e"/><stop offset="0.7500" stop-color="#29798e"/><stop offset="0.7917" stop-color="#2d718e"/><stop offset="0.8333" stop-color="#31678e"/><stop offset="0.8750" stop-color="#365c8d"/><stop offset="0.9167" stop-color="#3c508b"/><stop offset="0.9583" stop-color="#414287"/><stop offset="1.0000" stop-color="#46337f"/></linearGradient>
<linearGradient id="h107" x1="0" y1="0" x2="1" y2="0"><stop offset="0.0000" stop-color="#228d8d"/><stop offset="0.0417" stop-color="#218e8d"/><stop offset="0.0833" stop-color="#218e8d"/><stop offset="0.1250" stop-color="#218f8d"/><stop offset="0.1667" stop-color="#21908d"/><stop offset="0.2083" stop-color="#21918c"/><stop offset="0.2500" stop-color="#20928c"/><stop offset="0.2917" stop-color="#20928c"/><stop offset="0.3333" stop-color="#20928c"/><stop offset="0.3750" stop-color="#20938c"/><stop offset="0.4167" stop-color="#20938c"/><stop offset="0.4583" stop-color="#20938c"/><stop offset="0.5000" stop-color="#1f948c"/><stop offset="0.5417" stop-color="#20928c"/><stop offset="0.5833" stop-color="#21908d"/><stop offset="0.6250" stop-color="#228b8d"/><stop offset="0.6667" stop-color="#25858e"/><stop offset="0.7083" stop-color="#277f8e"/><stop offset="0.7500" stop-color="#2a778e"/><stop offset="0.7917" stop-color="#2e6f8e"/><stop offset="0.8333" stop-color="#32658e"/><stop offset="0.8750" stop-color="#375a8c"/><stop offset="0.9167" stop-color="#3d4e8a"/><stop offset="0.9583" stop-color="#423f85"/><stop offset="1.0000" stop-color="#472f7d"/></linearGradient>
<linearGradient id="h108" x1="0" y1="0" x2="1" y2="0"><stop offset="0.0000" stop-color="#228c8d"/><stop offset="0.0417" stop-color="#228d8d"/><stop offset="0.0833" stop-color="#218e8d"/><stop offset="0.1250" stop-color="#218f8d"/><stop offset="0.1667" stop-color="#218f8d"/><stop offset="0.2083" stop-color="#21908d"/><stop offset="0.2500" stop-color="#21918c"/><stop offset="0.2917" stop-color="#20928c"/><stop offset="0.3333" stop-color="#20928c"/><stop offset="0.3750" stop-color="#20928c"/><stop offset="0.4167" stop-color="#20928c"/><stop offset="0.4583" stop-color="#20938c"/><stop offset="0.5000" stop-color="#20938c"/><stop offset="0.5417" stop-color="#20928c"/><stop offset="0.5833" stop-color="#218f8d"/><stop offset="0.6250" stop-color="#238a8d"/><stop offset="0.6667" stop-color="#25848e"/><stop offset="0.7083" stop-color="#277e8e"/><stop offset="0.7500" stop-color="#2a768e"/><stop offset="0.7917" stop-color="#2e6e8e"/><stop offset="0.8333" stop-color="#33638d"/><stop offset="0.8750" stop-color="#38588c"/><stop offset="0.9167" stop-color="#3e4a89"/><stop offset="0.9583" stop-color="#433d84"/><stop offset="1.0000" stop-color="#472c7a"/></linearGradient>
<linearGradient id="h109" x1="0" y1="0" x2="1" y2="0"><stop offset="0.0000" stop-color="#228c8d"/><stop offset="0.0417" stop-color="#228d8d"/><stop offset="0.0833" stop-color="#218e8d"/><stop offset="0.1250" stop-color="#218e8d"/><stop offset="0.1667" stop-color="#218f8d"/><stop offset="0.2083" stop-color="#21908d"/><stop offset="0.2500" stop-color="#21908d"/><stop offset="0.2917" stop-color="#21918c"/><stop offset="0.3333" stop-color="#20928c"/><stop offset="0.3750" stop-color="#20928c"/><stop offset="0.4167" stop-color="#20928c"/><stop offset="0.4583" stop-color="#20928c"/><stop offset="0.5000" stop-color="#20928c"/><stop offset="0.5417" stop-color="#20928c"/><stop offset="0.5833" stop-color="#218e8d"/><stop offset="0.6250" stop-color="#238a8d"/><stop offset="0.6667" stop-color="#25838e"/><stop offset="0.7083" stop-color="#287d8e"/><stop offset="0.7500" stop-color="#2b758e"/><stop offset="0.7917" stop-color="#2f6c8e"/><stop offset="0.8333" stop-color="#33628d"/><stop offset="0.8750" stop-color="#39558c"/><stop offset="0.9167" stop-color="#3f4889"/><stop offset="0.9583" stop-color="#443983"/><stop offset="1.0000" stop-color="#482878"/></linearGradient>
<linearGradient id="h110" x1="0" y1="0" x2="1" y2="0"><stop offset="0.0000" stop-color="#228c8d"/><stop offset="0.0417" stop-color="#228c8d"/><stop offset="0.0833" stop-color="#228d8d"/><stop offset="0.1250" stop-color="#218e8d"/><stop offset="0.1667" stop-color="#218f8d"/><stop offset="0.2083" stop-color="#218f8d"/><stop offset="0.2500" stop-color="#21908d"/><stop offset="0.2917" stop-color="#21918c"/><stop offset="0.3333" stop-color="#21918c"/><stop offset="0.3750" stop-color="#20928c"/><stop offset="0.4167" stop-color="#20928c"/><stop offset="0.4583" stop-color="#20928c"/><stop offset="0.5000" stop-color="#20928c"/><stop offset="0.5417" stop-color="#21918c"/><stop offset="0.5833" stop-color="#218e8d"/><stop offset="0.6250" stop-color="#23898e"/><stop offset="0.6667" stop-color="#25838e"/><stop offset="0.7083" stop-color="#287c8e"/><stop offset="0.7500" stop-color="#2c738e"/><stop offset="0.7917" stop-color="#2f6b8e"/><stop offset="0.8333" stop-color="#34608d"/><stop offset="0.8750" stop-color="#3a538b"/><stop offset="0.9167" stop-color="#404688"/><stop offset="0.9583" stop-color="#453581"/><stop offset="1.0000" stop-color="#482475"/></linearGradient>
<linearGradient id="h111" x1="0" y1="0" x2="1" y2="0"><stop offset="0.0000" stop-color="#228b8d"/><stop offset="0.0417" stop-color="#228c8d"/><stop offset="0.0833" stop-color="#228d8d"/><stop offset="0.1250" stop-color="#228d8d"/><stop offset="0.1667" stop-color="#218e8d"/><stop offset="0.2083" stop-color="#218f8d"/><stop offset="0.2500" stop-color="#218f8d"/><stop offset="0.2917" stop-color="#21908d"/><stop offset="0.3333" stop-color="#21918c"/><stop offset="0.3750" stop-color="#21918c"/><stop offset="0.4167" stop-color="#20928c"/><stop offset="0.4583" stop-color="#20928c"/><stop offset="0.5000" stop-color="#20928c"/><stop offset="0.5417" stop-color="#21918c"/><stop offset="0.5833" stop-color="#228d8d"/><stop offset="0.6250" stop-color="#23888e"/><stop offset="0.6667" stop-color="#26828e"/><stop offset="0.7083" stop-color="#297b8e"/><stop offset="0.7500" stop-color="#2c728e"/><stop offset="0.7917" stop-color="#30698e"/><stop offset="0.8333" stop-color="#355e8d"/><stop offset="0.8750" stop-color="#3b518b"/><stop offset="0.9167" stop-color="#414287"/><stop offset="0.9583" stop-color="#46337f"/><stop offset="1.0000" stop-color="#482071"/></linearGradient>
<clipPath id="hclip"><rect x="157.5" y="205" width="473" height="658.5"/></clipPath>
<filter id="vblur" x="-2%" y="-2%" width="104%" height="104%"><feGaussianBlur stdDeviation="0.5 3"/></filter>
<radialGradient id="gH" cx="0.5" cy="0.5" r="0.5" fx="0.48" fy="0.42"><stop offset="0" stop-color="#ffffff"/><stop offset="0.25" stop-color="#ececec"/><stop offset="0.75" stop-color="#b4b4b4"/><stop offset="1" stop-color="#8a8a8a"/></radialGradient>
<radialGradient id="gC" cx="0.5" cy="0.5" r="0.5" fx="0.48" fy="0.42"><stop offset="0" stop-color="#aaffaa"/><stop offset="0.25" stop-color="#3cf03c"/><stop offset="0.75" stop-color="#22c422"/><stop offset="1" stop-color="#148c14"/></radialGradient>
<radialGradient id="gN" cx="0.5" cy="0.5" r="0.5" fx="0.48" fy="0.42"><stop offset="0" stop-color="#b0b8ff"/><stop offset="0.25" stop-color="#4858f4"/><stop offset="0.75" stop-color="#2c3cd0"/><stop offset="1" stop-color="#1c2698"/></radialGradient>
<linearGradient id="fanG" gradientUnits="userSpaceOnUse" x1="1848" y1="170" x2="1730" y2="215"><stop offset="0" stop-color="#ff1a1a" stop-opacity="0.95"/><stop offset="0.45" stop-color="#ff3030" stop-opacity="0.55"/><stop offset="1" stop-color="#ff4040" stop-opacity="0.02"/></linearGradient>
<linearGradient id="b1" gradientUnits="userSpaceOnUse" x1="1690.8" y1="335.1" x2="1692.8" y2="349.9"><stop offset="0" stop-color="#000" stop-opacity="0.35"/><stop offset="0.35" stop-color="#fff" stop-opacity="0.25"/><stop offset="0.6" stop-color="#fff" stop-opacity="0"/><stop offset="1" stop-color="#000" stop-opacity="0.35"/></linearGradient>
<linearGradient id="b2" gradientUnits="userSpaceOnUse" x1="1700.5" y1="354.8" x2="1683.1" y2="330.2"><stop offset="0" stop-color="#000" stop-opacity="0.35"/><stop offset="0.35" stop-color="#fff" stop-opacity="0.25"/><stop offset="0.6" stop-color="#fff" stop-opacity="0"/><stop offset="1" stop-color="#000" stop-opacity="0.35"/></linearGradient>
<linearGradient id="b3" gradientUnits="userSpaceOnUse" x1="1835.3" y1="245.9" x2="1825.7" y2="243.1"><stop offset="0" stop-color="#000" stop-opacity="0.35"/><stop offset="0.35" stop-color="#fff" stop-opacity="0.25"/><stop offset="0.6" stop-color="#fff" stop-opacity="0"/><stop offset="1" stop-color="#000" stop-opacity="0.35"/></linearGradient>
<linearGradient id="b4" gradientUnits="userSpaceOnUse" x1="1686.1" y1="357.7" x2="1701.1" y2="356.3"><stop offset="0" stop-color="#000" stop-opacity="0.35"/><stop offset="0.35" stop-color="#fff" stop-opacity="0.25"/><stop offset="0.6" stop-color="#fff" stop-opacity="0"/><stop offset="1" stop-color="#000" stop-opacity="0.35"/></linearGradient></defs>
<g clip-path="url(#hclip)"><g filter="url(#vblur)"><rect x="157.5" y="199" width="473" height="6.6" fill="url(#h0)"/><rect x="157.5" y="205" width="473" height="6.6" fill="url(#h1)"/><rect x="157.5" y="211" width="473" height="6.6" fill="url(#h2)"/><rect x="157.5" y="217" width="473" height="6.6" fill="url(#h3)"/><rect x="157.5" y="223" width="473" height="6.6" fill="url(#h4)"/><rect x="157.5" y="229" width="473" height="6.6" fill="url(#h5)"/><rect x="157.5" y="235" width="473" height="6.6" fill="url(#h6)"/><rect x="157.5" y="241" width="473" height="6.6" fill="url(#h7)"/><rect x="157.5" y="247" width="473" height="6.6" fill="url(#h8)"/><rect x="157.5" y="253" width="473" height="6.6" fill="url(#h9)"/><rect x="157.5" y="259" width="473" height="6.6" fill="url(#h10)"/><rect x="157.5" y="265" width="473" height="6.6" fill="url(#h11)"/><rect x="157.5" y="271" width="473" height="6.6" fill="url(#h12)"/><rect x="157.5" y="277" width="473" height="6.6" fill="url(#h13)"/><rect x="157.5" y="283" width="473" height="6.6" fill="url(#h14)"/><rect x="157.5" y="289" width="473" height="6.6" fill="url(#h15)"/><rect x="157.5" y="295" width="473" height="6.6" fill="url(#h16)"/><rect x="157.5" y="301" width="473" height="6.6" fill="url(#h17)"/><rect x="157.5" y="307" width="473" height="6.6" fill="url(#h18)"/><rect x="157.5" y="313" width="473" height="6.6" fill="url(#h19)"/><rect x="157.5" y="319" width="473" height="6.6" fill="url(#h20)"/><rect x="157.5" y="325" width="473" height="6.6" fill="url(#h21)"/><rect x="157.5" y="331" width="473" height="6.6" fill="url(#h22)"/><rect x="157.5" y="337" width="473" height="6.6" fill="url(#h23)"/><rect x="157.5" y="343" width="473" height="6.6" fill="url(#h24)"/><rect x="157.5" y="349" width="473" height="6.6" fill="url(#h25)"/><rect x="157.5" y="355" width="473" height="6.6" fill="url(#h26)"/><rect x="157.5" y="361" width="473" height="6.6" fill="url(#h27)"/><rect x="157.5" y="367" width="473" height="6.6" fill="url(#h28)"/><rect x="157.5" y="373" width="473" height="6.6" fill="url(#h29)"/><rect x="157.5" y="379" width="473" height="6.6" fill="url(#h30)"/><rect x="157.5" y="385" width="473" height="6.6" fill="url(#h31)"/><rect x="157.5" y="391" width="473" height="6.6" fill="url(#h32)"/><rect x="157.5" y="397" width="473" height="6.6" fill="url(#h33)"/><rect x="157.5" y="403" width="473" height="6.6" fill="url(#h34)"/><rect x="157.5" y="409" width="473" height="6.6" fill="url(#h35)"/><rect x="157.5" y="415" width="473" height="6.6" fill="url(#h36)"/><rect x="157.5" y="421" width="473" height="6.6" fill="url(#h37)"/><rect x="157.5" y="427" width="473" height="6.6" fill="url(#h38)"/><rect x="157.5" y="433" width="473" height="6.6" fill="url(#h39)"/><rect x="157.5" y="439" width="473" height="6.6" fill="url(#h40)"/><rect x="157.5" y="445" width="473" height="6.6" fill="url(#h41)"/><rect x="157.5" y="451" width="473" height="6.6" fill="url(#h42)"/><rect x="157.5" y="457" width="473" height="6.6" fill="url(#h43)"/><rect x="157.5" y="463" width="473" height="6.6" fill="url(#h44)"/><rect x="157.5" y="469" width="473" height="6.6" fill="url(#h45)"/><rect x="157.5" y="475" width="473" height="6.6" fill="url(#h46)"/><rect x="157.5" y="481" width="473" height="6.6" fill="url(#h47)"/><rect x="157.5" y="487" width="473" height="6.6" fill="url(#h48)"/><rect x="157.5" y="493" width="473" height="6.6" fill="url(#h49)"/><rect x="157.5" y="499" width="473" height="6.6" fill="url(#h50)"/><rect x="157.5" y="505" width="473" height="6.6" fill="url(#h51)"/><rect x="157.5" y="511" width="473" height="6.6" fill="url(#h52)"/><rect x="157.5" y="517" width="473" height="6.6" fill="url(#h53)"/><rect x="157.5" y="523" width="473" height="6.6" fill="url(#h54)"/><rect x="157.5" y="529" width="473" height="6.6" fill="url(#h55)"/><rect x="157.5" y="535" width="473" height="6.6" fill="url(#h56)"/><rect x="157.5" y="541" width="473" height="6.6" fill="url(#h57)"/><rect x="157.5" y="547" width="473" height="6.6" fill="url(#h58)"/><rect x="157.5" y="553" width="473" height="6.6" fill="url(#h59)"/><rect x="157.5" y="559" width="473" height="6.6" fill="url(#h60)"/><rect x="157.5" y="565" width="473" height="6.6" fill="url(#h61)"/><rect x="157.5" y="571" width="473" height="6.6" fill="url(#h62)"/><rect x="157.5" y="577" width="473" height="6.6" fill="url(#h63)"/><rect x="157.5" y="583" width="473" height="6.6" fill="url(#h64)"/><rect x="157.5" y="589" width="473" height="6.6" fill="url(#h65)"/><rect x="157.5" y="595" width="473" height="6.6" fill="url(#h66)"/><rect x="157.5" y="601" width="473" height="6.6" fill="url(#h67)"/><rect x="157.5" y="607" width="473" height="6.6" fill="url(#h68)"/><rect x="157.5" y="613" width="473" height="6.6" fill="url(#h69)"/><rect x="157.5" y="619" width="473" height="6.6" fill="url(#h70)"/><rect x="157.5" y="625" width="473" height="6.6" fill="url(#h71)"/><rect x="157.5" y="631" width="473" height="6.6" fill="url(#h72)"/><rect x="157.5" y="637" width="473" height="6.6" fill="url(#h73)"/><rect x="157.5" y="643" width="473" height="6.6" fill="url(#h74)"/><rect x="157.5" y="649" width="473" height="6.6" fill="url(#h75)"/><rect x="157.5" y="655" width="473" height="6.6" fill="url(#h76)"/><rect x="157.5" y="661" width="473" height="6.6" fill="url(#h77)"/><rect x="157.5" y="667" width="473" height="6.6" fill="url(#h78)"/><rect x="157.5" y="673" width="473" height="6.6" fill="url(#h79)"/><rect x="157.5" y="679" width="473" height="6.6" fill="url(#h80)"/><rect x="157.5" y="685" width="473" height="6.6" fill="url(#h81)"/><rect x="157.5" y="691" width="473" height="6.6" fill="url(#h82)"/><rect x="157.5" y="697" width="473" height="6.6" fill="url(#h83)"/><rect x="157.5" y="703" width="473" height="6.6" fill="url(#h84)"/><rect x="157.5" y="709" width="473" height="6.6" fill="url(#h85)"/><rect x="157.5" y="715" width="473" height="6.6" fill="url(#h86)"/><rect x="157.5" y="721" width="473" height="6.6" fill="url(#h87)"/><rect x="157.5" y="727" width="473" height="6.6" fill="url(#h88)"/><rect x="157.5" y="733" width="473" height="6.6" fill="url(#h89)"/><rect x="157.5" y="739" width="473" height="6.6" fill="url(#h90)"/><rect x="157.5" y="745" width="473" height="6.6" fill="url(#h91)"/><rect x="157.5" y="751" width="473" height="6.6" fill="url(#h92)"/><rect x="157.5" y="757" width="473" height="6.6" fill="url(#h93)"/><rect x="157.5" y="763" width="473" height="6.6" fill="url(#h94)"/><rect x="157.5" y="769" width="473" height="6.6" fill="url(#h95)"/><rect x="157.5" y="775" width="473" height="6.6" fill="url(#h96)"/><rect x="157.5" y="781" width="473" height="6.6" fill="url(#h97)"/><rect x="157.5" y="787" width="473" height="6.6" fill="url(#h98)"/><rect x="157.5" y="793" width="473" height="6.6" fill="url(#h99)"/><rect x="157.5" y="799" width="473" height="6.6" fill="url(#h100)"/><rect x="157.5" y="805" width="473" height="6.6" fill="url(#h101)"/><rect x="157.5" y="811" width="473" height="6.6" fill="url(#h102)"/><rect x="157.5" y="817" width="473" height="6.6" fill="url(#h103)"/><rect x="157.5" y="823" width="473" height="6.6" fill="url(#h104)"/><rect x="157.5" y="829" width="473" height="6.6" fill="url(#h105)"/><rect x="157.5" y="835" width="473" height="6.6" fill="url(#h106)"/><rect x="157.5" y="841" width="473" height="6.6" fill="url(#h107)"/><rect x="157.5" y="847" width="473" height="6.6" fill="url(#h108)"/><rect x="157.5" y="853" width="473" height="6.6" fill="url(#h109)"/><rect x="157.5" y="859" width="473" height="6.6" fill="url(#h110)"/><rect x="157.5" y="865" width="473" height="6.6" fill="url(#h111)"/></g></g>
<rect x="157.5" y="205" width="473" height="658.5" fill="none" stroke="#000" stroke-width="3.3"/>
<line x1="157.5" y1="251.7" x2="171.5" y2="251.7" stroke="#000" stroke-width="2.8"/>
<text x="75.48" y="267.60" font-size="44" fill="#000">160</text>
<line x1="157.5" y1="346.2" x2="171.5" y2="346.2" stroke="#000" stroke-width="2.8"/>
<text x="75.48" y="362.10" font-size="44" fill="#000">150</text>
<line x1="157.5" y1="440.7" x2="171.5" y2="440.7" stroke="#000" stroke-width="2.8"/>
<text x="75.48" y="456.60" font-size="44" fill="#000">140</text>
<line x1="157.5" y1="535.2" x2="171.5" y2="535.2" stroke="#000" stroke-width="2.8"/>
<text x="75.48" y="551.10" font-size="44" fill="#000">130</text>
<line x1="157.5" y1="629.7" x2="171.5" y2="629.7" stroke="#000" stroke-width="2.8"/>
<text x="75.48" y="645.60" font-size="44" fill="#000">120</text>
<line x1="157.5" y1="724.2" x2="171.5" y2="724.2" stroke="#000" stroke-width="2.8"/>
<text x="75.48" y="740.10" font-size="44" fill="#000">110</text>
<line x1="157.5" y1="818.7" x2="171.5" y2="818.7" stroke="#000" stroke-width="2.8"/>
<text x="75.48" y="834.60" font-size="44" fill="#000">100</text>
<line x1="300" y1="863.5" x2="300" y2="849.5" stroke="#000" stroke-width="2.8"/>
<text x="278.00" y="909.50" font-size="44" fill="#000">80</text>
<line x1="488.5" y1="863.5" x2="488.5" y2="849.5" stroke="#000" stroke-width="2.8"/>
<text x="454.40" y="909.50" font-size="44" fill="#000">100</text>
<text x="315.26" y="964.60" font-size="44" fill="#000" textLength="275.36" lengthAdjust="spacingAndGlyphs">Dihedral angle</text>
<text x="604.56" y="964.60" font-size="42" font-style="italic" fill="#000" textLength="25.70" lengthAdjust="spacingAndGlyphs" stroke="#fff" stroke-width="0.7">ϕ</text>
<g transform="translate(54.7 512) rotate(-90)"><text x="-1.36" y="0.00" font-size="44" fill="#000" textLength="274.20" lengthAdjust="spacingAndGlyphs">Bending angle</text><text x="278.54" y="0.00" font-size="50" font-style="italic" fill="#000" textLength="25.64" lengthAdjust="spacingAndGlyphs" stroke="#fff" stroke-width="1.3">α</text></g>
<rect x="158.5" y="111" width="472" height="24" fill="url(#cbar)" stroke="#000" stroke-width="2.9"/>
<line x1="354.5" y1="134" x2="354.5" y2="121" stroke="#000" stroke-width="2.4"/>
<line x1="550.5" y1="134" x2="550.5" y2="121" stroke="#000" stroke-width="2.4"/>
<text x="120.00" y="181.00" font-size="44" fill="#000">0.00</text>
<text x="316.02" y="181.00" font-size="44" fill="#000">0.05</text>
<text x="512.00" y="181.00" font-size="44" fill="#000">0.10</text>
<text x="248.40" y="85.60" font-size="54" font-style="italic" fill="#000" textLength="36.56" lengthAdjust="spacingAndGlyphs" stroke="#fff" stroke-width="0.8">E</text>
<text x="282.38" y="93.60" font-size="33.4" fill="#000" textLength="18.32" lengthAdjust="spacingAndGlyphs">1</text>
<line x1="318.6" y1="72.2" x2="350" y2="72.2" stroke="#000" stroke-width="2.6"/>
<text x="369.30" y="85.60" font-size="54" font-style="italic" fill="#000" textLength="36.46" lengthAdjust="spacingAndGlyphs" stroke="#fff" stroke-width="0.8">E</text>
<text x="404.22" y="93.30" font-size="33.4" fill="#000" textLength="18.17" lengthAdjust="spacingAndGlyphs">0</text>
<text x="442.64" y="85.60" font-size="54" fill="#000" textLength="98.32" lengthAdjust="spacingAndGlyphs">(Ha)</text>
<text x="40.75" y="148.20" font-size="44" fill="#000" textLength="49.30" lengthAdjust="spacingAndGlyphs">(a)</text>
<path d="M408 262.1 L409.5 262.4 L410.9 262.7 L412.4 262.9 L413.8 263.3 L415.2 263.6 L416.7 264 L418.1 264.4 L419.5 264.8 L420.9 265.2 L422.3 265.7 L423.7 266.2 L425.1 266.7 L426.5 267.3 L427.8 267.8 L429.2 268.4 L430.5 269 L431.8 269.7 L433.2 270.3 L434.5 271 L435.8 271.7 L437.1 272.4 L438.3 273.2 L439.6 273.9 L440.8 274.7 L442.1 275.5 L443.3 276.4 L444.5 277.2 L445.7 278.1 L446.8 279 L448 279.9 L449.1 280.9 L450.2 281.8 L451.3 282.8 L452.4 283.8 L453.5 284.8 L454.6 285.8 L455.6 286.9 L456.6 288 L457.6 289.1 L458.6 290.2 L459.5 291.3 L460.5 292.4 L461.4 293.6 L462.3 294.7 L463.2 295.9 L464 297.1 L464.9 298.3 L465.7 299.6 L466.5 300.8 L467.2 302.1 L468 303.4 L468.7 304.6 L469.4 305.9 L470.1 307.2 L470.7 308.6 L471.4 309.9 L472 311.2 L472.6 312.6 L473.1 313.9 L473.7 315.3 L474.2 316.7 L474.7 318.1 L475.2 319.5 L475.6 320.9 L476 322.3 L476.4 323.7 L476.8 325.2 L477.1 326.6 L477.5 328 L477.7 329.5 L478 330.9 L478.3 332.4 L478.5 333.8 L478.7 335.3 L478.8 336.8 L479 338.2 L479.1 339.7 L479.2 341.2 L479.2 342.7 L479.3 344.1 L479.3 345.6 L479.3 347.1 L479.2 348.5 L479.2 350 L479.1 351.5 L479 353 L478.8 354.4 L478.7 355.9 L478.5 357.4 L478.3 358.8 L478 360.3 L477.7 361.7 L477.5 363.2 L477.1 364.6 L476.8 366 L476.4 367.5 L476 368.9 L475.6 370.3 L475.2 371.7 L474.7 373.1 L474.2 374.5 L473.7 375.9 L473.1 377.3 L472.6 378.6 L472 380 L471.4 381.3 L470.7 382.6 L470.1 384 L469.4 385.3 L468.7 386.6 L468 387.9 L467.2 389.1 L466.5 390.4 L465.7 391.6 L464.9 392.9 L464 394.1 L463.2 395.3 L462.3 396.5 L461.4 397.6 L460.5 398.8 L459.5 399.9 L458.6 401 L457.6 402.1 L456.6 403.2 L455.6 404.3 L454.6 405.4 L453.5 406.4 L452.4 407.4 L451.3 408.4 L450.2 409.4 L449.1 410.3 L448 411.3 L446.8 412.2 L445.7 413.1 L444.5 414 L443.3 414.8 L442.1 415.7 L440.8 416.5 L439.6 417.3 L438.3 418 L437.1 418.8 L435.8 419.5 L434.5 420.2 L433.2 420.9 L431.8 421.5 L430.5 422.2 L429.2 422.8 L427.8 423.4 L426.5 423.9 L425.1 424.5 L423.7 425 L422.3 425.5 L420.9 426 L419.5 426.4 L418.1 426.8 L416.7 427.2 L415.2 427.6 L413.8 427.9 L412.4 428.3 L410.9 428.5 L409.5 428.8 L408 429.1 L406.6 429.3 L405.1 429.5 L403.6 429.6 L402.2 429.8 L400.7 429.9 L399.2 430 L397.7 430 L396.3 430.1 L394.8 430.1 L393.3 430.1 L391.9 430 L390.4 430 L388.9 429.9 L387.4 429.8 L386 429.6 L384.5 429.5 L383 429.3 L381.6 429.1 L380.1 428.8 L378.7 428.5 L377.2 428.3 L375.8 427.9 L374.4 427.6 L372.9 427.2 L371.5 426.8 L370.1 426.4 L368.7 426 L367.3 425.5 L365.9 425 L364.5 424.5 L363.1 423.9 L361.8 423.4 L360.4 422.8 L359.1 422.2 L357.8 421.5 L356.4 420.9 L355.1 420.2 L353.8 419.5 L352.6 418.8 L351.3 418 L350 417.3 L348.8 416.5 L347.5 415.7 L346.3 414.8 L345.1 414 L343.9 413.1 L342.8 412.2 L341.6 411.3 L340.5 410.3 L339.4 409.4 L338.3 408.4 L337.2 407.4 L336.1 406.4 L335 405.4 L334 404.3 L333 403.2 L332 402.1 L331 401 L330.1 399.9 L329.1 398.8 L328.2 397.6 L327.3 396.5 L326.4 395.3 L325.6 394.1 L324.7 392.9 L323.9 391.6 L323.1 390.4 L322.4 389.1 L321.6 387.9 L320.9 386.6 L320.2 385.3 L319.5 384 L318.9 382.6 L318.2 381.3 L317.6 380 L317 378.6 L316.5 377.3 L315.9 375.9 L315.4 374.5 L314.9 373.1 L314.4 371.7 L314 370.3 L313.6 368.9 L313.2 367.5 L312.8 366 L312.5 364.6 L312.1 363.2 L311.9 361.7 L311.6 360.3 L311.3 358.8 L311.1 357.4 L310.9 355.9 L310.8 354.4 L310.6 353 L310.5 351.5 L310.4 350 L310.4 348.5 L310.3 347.1 L310.3 345.6 L310.3 344.1 L310.4 342.7 L310.4 341.2 L310.5 339.7 L310.6 338.2 L310.8 336.8 L310.9 335.3 L311.1 333.8 L311.3 332.4 L311.6 330.9 L311.9 329.5 L312.1 328 L312.5 326.6 L312.8 325.2 L313.2 323.7 L313.6 322.3 L314 320.9 L314.4 319.5 L314.9 318.1 L315.4 316.7 L315.9 315.3 L316.5 313.9 L317 312.6 L317.6 311.2 L318.2 309.9 L318.9 308.6 L319.5 307.2 L320.2 305.9 L320.9 304.6 L321.6 303.4 L322.4 302.1 L323.1 300.8 L323.9 299.6 L324.7 298.3 L325.6 297.1 L326.4 295.9 L327.3 294.7 L328.2 293.6 L329.1 292.4 L330.1 291.3 L331 290.2 L332 289.1 L333 288 L334 286.9 L335 285.8 L336.1 284.8 L337.2 283.8 L338.3 282.8 L339.4 281.8 L340.5 280.9 L341.6 279.9 L342.8 279 L343.9 278.1 L345.1 277.2 L346.3 276.4 L347.5 275.5 L348.8 274.7 L350 273.9 L351.3 273.2 L352.5 272.4 L353.8 271.7 L355.1 271 L356.4 270.3 L357.8 269.7 L359.1 269 L360.4 268.4 L361.8 267.8 L363.1 267.3 L364.5 266.7 L365.9 266.2 L367.3 265.7 L368.7 265.2 L370.1 264.8 L371.5 264.4 L372.9 264 L374.4 263.6 L375.8 263.3 L377.2 262.9 L378.7 262.7 L380.1 262.4 L381.6 262.1 L383 261.9 L384.5 261.7 L386 261.6" fill="none" stroke="#088008" stroke-width="4.8"/><circle cx="408" cy="262.1" r="6.7" fill="#088008"/><circle cx="429.2" cy="268.4" r="6.7" fill="#088008"/><circle cx="448" cy="279.9" r="6.7" fill="#088008"/><circle cx="463.2" cy="295.9" r="6.7" fill="#088008"/><circle cx="473.7" cy="315.3" r="6.7" fill="#088008"/><circle cx="478.8" cy="336.8" r="6.7" fill="#088008"/><circle cx="478.3" cy="358.8" r="6.7" fill="#088008"/><circle cx="472" cy="380" r="6.7" fill="#088008"/><circle cx="460.5" cy="398.8" r="6.7" fill="#088008"/><circle cx="444.5" cy="414" r="6.7" fill="#088008"/><circle cx="425.1" cy="424.5" r="6.7" fill="#088008"/><circle cx="403.6" cy="429.6" r="6.7" fill="#088008"/><circle cx="381.6" cy="429.1" r="6.7" fill="#088008"/><circle cx="360.4" cy="422.8" r="6.7" fill="#088008"/><circle cx="341.6" cy="411.3" r="6.7" fill="#088008"/><circle cx="326.4" cy="395.3" r="6.7" fill="#088008"/><circle cx="315.9" cy="375.9" r="6.7" fill="#088008"/><circle cx="310.8" cy="354.4" r="6.7" fill="#088008"/><circle cx="311.3" cy="332.4" r="6.7" fill="#088008"/><circle cx="317.6" cy="311.2" r="6.7" fill="#088008"/><circle cx="329.1" cy="292.4" r="6.7" fill="#088008"/><circle cx="345.1" cy="277.2" r="6.7" fill="#088008"/><circle cx="364.5" cy="266.7" r="6.7" fill="#088008"/><circle cx="386" cy="261.6" r="6.7" fill="#088008"/><path d="M384.8 261.1 L360.8 248.6 L358.8 274.6 Z" fill="#088008"/>
<path d="M408 451 L409.5 451.3 L410.9 451.6 L412.4 451.8 L413.8 452.2 L415.2 452.5 L416.7 452.9 L418.1 453.3 L419.5 453.7 L420.9 454.1 L422.3 454.6 L423.7 455.1 L425.1 455.6 L426.5 456.2 L427.8 456.7 L429.2 457.3 L430.5 457.9 L431.8 458.6 L433.2 459.2 L434.5 459.9 L435.8 460.6 L437.1 461.3 L438.3 462.1 L439.6 462.8 L440.8 463.6 L442.1 464.4 L443.3 465.3 L444.5 466.1 L445.7 467 L446.8 467.9 L448 468.8 L449.1 469.8 L450.2 470.7 L451.3 471.7 L452.4 472.7 L453.5 473.7 L454.6 474.7 L455.6 475.8 L456.6 476.9 L457.6 478 L458.6 479.1 L459.5 480.2 L460.5 481.3 L461.4 482.5 L462.3 483.6 L463.2 484.8 L464 486 L464.9 487.2 L465.7 488.5 L466.5 489.7 L467.2 491 L468 492.2 L468.7 493.5 L469.4 494.8 L470.1 496.1 L470.7 497.5 L471.4 498.8 L472 500.1 L472.6 501.5 L473.1 502.8 L473.7 504.2 L474.2 505.6 L474.7 507 L475.2 508.4 L475.6 509.8 L476 511.2 L476.4 512.6 L476.8 514.1 L477.1 515.5 L477.5 516.9 L477.7 518.4 L478 519.8 L478.3 521.3 L478.5 522.7 L478.7 524.2 L478.8 525.7 L479 527.1 L479.1 528.6 L479.2 530.1 L479.2 531.6 L479.3 533 L479.3 534.5 L479.3 536 L479.2 537.4 L479.2 538.9 L479.1 540.4 L479 541.9 L478.8 543.3 L478.7 544.8 L478.5 546.3 L478.3 547.7 L478 549.2 L477.7 550.6 L477.5 552.1 L477.1 553.5 L476.8 554.9 L476.4 556.4 L476 557.8 L475.6 559.2 L475.2 560.6 L474.7 562 L474.2 563.4 L473.7 564.8 L473.1 566.2 L472.6 567.5 L472 568.9 L471.4 570.2 L470.7 571.5 L470.1 572.9 L469.4 574.2 L468.7 575.5 L468 576.8 L467.2 578 L466.5 579.3 L465.7 580.5 L464.9 581.8 L464 583 L463.2 584.2 L462.3 585.4 L461.4 586.5 L460.5 587.7 L459.5 588.8 L458.6 589.9 L457.6 591 L456.6 592.1 L455.6 593.2 L454.6 594.3 L453.5 595.3 L452.4 596.3 L451.3 597.3 L450.2 598.3 L449.1 599.2 L448 600.2 L446.8 601.1 L445.7 602 L444.5 602.9 L443.3 603.7 L442.1 604.6 L440.8 605.4 L439.6 606.2 L438.3 606.9 L437.1 607.7 L435.8 608.4 L434.5 609.1 L433.2 609.8 L431.8 610.4 L430.5 611.1 L429.2 611.7 L427.8 612.3 L426.5 612.8 L425.1 613.4 L423.7 613.9 L422.3 614.4 L420.9 614.9 L419.5 615.3 L418.1 615.7 L416.7 616.1 L415.2 616.5 L413.8 616.8 L412.4 617.2 L410.9 617.4 L409.5 617.7 L408 618 L406.6 618.2 L405.1 618.4 L403.6 618.5 L402.2 618.7 L400.7 618.8 L399.2 618.9 L397.7 618.9 L396.3 619 L394.8 619 L393.3 619 L391.9 618.9 L390.4 618.9 L388.9 618.8 L387.4 618.7 L386 618.5 L384.5 618.4 L383 618.2 L381.6 618 L380.1 617.7 L378.7 617.4 L377.2 617.2 L375.8 616.8 L374.4 616.5 L372.9 616.1 L371.5 615.7 L370.1 615.3 L368.7 614.9 L367.3 614.4 L365.9 613.9 L364.5 613.4 L363.1 612.8 L361.8 612.3 L360.4 611.7 L359.1 611.1 L357.8 610.4 L356.4 609.8 L355.1 609.1 L353.8 608.4 L352.6 607.7 L351.3 606.9 L350 606.2 L348.8 605.4 L347.5 604.6 L346.3 603.7 L345.1 602.9 L343.9 602 L342.8 601.1 L341.6 600.2 L340.5 599.2 L339.4 598.3 L338.3 597.3 L337.2 596.3 L336.1 595.3 L335 594.3 L334 593.2 L333 592.1 L332 591 L331 589.9 L330.1 588.8 L329.1 587.7 L328.2 586.5 L327.3 585.4 L326.4 584.2 L325.6 583 L324.7 581.8 L323.9 580.5 L323.1 579.3 L322.4 578 L321.6 576.8 L320.9 575.5 L320.2 574.2 L319.5 572.9 L318.9 571.5 L318.2 570.2 L317.6 568.9 L317 567.5 L316.5 566.2 L315.9 564.8 L315.4 563.4 L314.9 562 L314.4 560.6 L314 559.2 L313.6 557.8 L313.2 556.4 L312.8 554.9 L312.5 553.5 L312.1 552.1 L311.9 550.6 L311.6 549.2 L311.3 547.7 L311.1 546.3 L310.9 544.8 L310.8 543.3 L310.6 541.9 L310.5 540.4 L310.4 538.9 L310.4 537.4 L310.3 536 L310.3 534.5 L310.3 533 L310.4 531.6 L310.4 530.1 L310.5 528.6 L310.6 527.1 L310.8 525.7 L310.9 524.2 L311.1 522.7 L311.3 521.3 L311.6 519.8 L311.9 518.4 L312.1 516.9 L312.5 515.5 L312.8 514.1 L313.2 512.6 L313.6 511.2 L314 509.8 L314.4 508.4 L314.9 507 L315.4 505.6 L315.9 504.2 L316.5 502.8 L317 501.5 L317.6 500.1 L318.2 498.8 L318.9 497.5 L319.5 496.1 L320.2 494.8 L320.9 493.5 L321.6 492.2 L322.4 491 L323.1 489.7 L323.9 488.5 L324.7 487.2 L325.6 486 L326.4 484.8 L327.3 483.6 L328.2 482.5 L329.1 481.3 L330.1 480.2 L331 479.1 L332 478 L333 476.9 L334 475.8 L335 474.7 L336.1 473.7 L337.2 472.7 L338.3 471.7 L339.4 470.7 L340.5 469.8 L341.6 468.8 L342.8 467.9 L343.9 467 L345.1 466.1 L346.3 465.3 L347.5 464.4 L348.8 463.6 L350 462.8 L351.3 462.1 L352.5 461.3 L353.8 460.6 L355.1 459.9 L356.4 459.2 L357.8 458.6 L359.1 457.9 L360.4 457.3 L361.8 456.7 L363.1 456.2 L364.5 455.6 L365.9 455.1 L367.3 454.6 L368.7 454.1 L370.1 453.7 L371.5 453.3 L372.9 452.9 L374.4 452.5 L375.8 452.2 L377.2 451.8 L378.7 451.6 L380.1 451.3 L381.6 451 L383 450.8 L384.5 450.6 L386 450.5" fill="none" stroke="#ec0a0a" stroke-width="4.8"/><circle cx="408" cy="451" r="6.7" fill="#ec0a0a"/><circle cx="429.2" cy="457.3" r="6.7" fill="#ec0a0a"/><circle cx="448" cy="468.8" r="6.7" fill="#ec0a0a"/><circle cx="463.2" cy="484.8" r="6.7" fill="#ec0a0a"/><circle cx="473.7" cy="504.2" r="6.7" fill="#ec0a0a"/><circle cx="478.8" cy="525.7" r="6.7" fill="#ec0a0a"/><circle cx="478.3" cy="547.7" r="6.7" fill="#ec0a0a"/><circle cx="472" cy="568.9" r="6.7" fill="#ec0a0a"/><circle cx="460.5" cy="587.7" r="6.7" fill="#ec0a0a"/><circle cx="444.5" cy="602.9" r="6.7" fill="#ec0a0a"/><circle cx="425.1" cy="613.4" r="6.7" fill="#ec0a0a"/><circle cx="403.6" cy="618.5" r="6.7" fill="#ec0a0a"/><circle cx="381.6" cy="618" r="6.7" fill="#ec0a0a"/><circle cx="360.4" cy="611.7" r="6.7" fill="#ec0a0a"/><circle cx="341.6" cy="600.2" r="6.7" fill="#ec0a0a"/><circle cx="326.4" cy="584.2" r="6.7" fill="#ec0a0a"/><circle cx="315.9" cy="564.8" r="6.7" fill="#ec0a0a"/><circle cx="310.8" cy="543.3" r="6.7" fill="#ec0a0a"/><circle cx="311.3" cy="521.3" r="6.7" fill="#ec0a0a"/><circle cx="317.6" cy="500.1" r="6.7" fill="#ec0a0a"/><circle cx="329.1" cy="481.3" r="6.7" fill="#ec0a0a"/><circle cx="345.1" cy="466.1" r="6.7" fill="#ec0a0a"/><circle cx="364.5" cy="455.6" r="6.7" fill="#ec0a0a"/><circle cx="386" cy="450.5" r="6.7" fill="#ec0a0a"/><path d="M384.8 450 L360.8 437.5 L358.8 463.5 Z" fill="#ec0a0a"/>
<path d="M408 639.5 L409.5 639.8 L410.9 640.1 L412.4 640.3 L413.8 640.7 L415.2 641 L416.7 641.4 L418.1 641.8 L419.5 642.2 L420.9 642.6 L422.3 643.1 L423.7 643.6 L425.1 644.1 L426.5 644.7 L427.8 645.2 L429.2 645.8 L430.5 646.4 L431.8 647.1 L433.2 647.7 L434.5 648.4 L435.8 649.1 L437.1 649.8 L438.3 650.6 L439.6 651.3 L440.8 652.1 L442.1 652.9 L443.3 653.8 L444.5 654.6 L445.7 655.5 L446.8 656.4 L448 657.3 L449.1 658.3 L450.2 659.2 L451.3 660.2 L452.4 661.2 L453.5 662.2 L454.6 663.2 L455.6 664.3 L456.6 665.4 L457.6 666.5 L458.6 667.6 L459.5 668.7 L460.5 669.8 L461.4 671 L462.3 672.1 L463.2 673.3 L464 674.5 L464.9 675.7 L465.7 677 L466.5 678.2 L467.2 679.5 L468 680.8 L468.7 682 L469.4 683.3 L470.1 684.6 L470.7 686 L471.4 687.3 L472 688.6 L472.6 690 L473.1 691.3 L473.7 692.7 L474.2 694.1 L474.7 695.5 L475.2 696.9 L475.6 698.3 L476 699.7 L476.4 701.1 L476.8 702.6 L477.1 704 L477.5 705.4 L477.7 706.9 L478 708.3 L478.3 709.8 L478.5 711.2 L478.7 712.7 L478.8 714.2 L479 715.6 L479.1 717.1 L479.2 718.6 L479.2 720.1 L479.3 721.5 L479.3 723 L479.3 724.5 L479.2 725.9 L479.2 727.4 L479.1 728.9 L479 730.4 L478.8 731.8 L478.7 733.3 L478.5 734.8 L478.3 736.2 L478 737.7 L477.7 739.1 L477.5 740.6 L477.1 742 L476.8 743.4 L476.4 744.9 L476 746.3 L475.6 747.7 L475.2 749.1 L474.7 750.5 L474.2 751.9 L473.7 753.3 L473.1 754.7 L472.6 756 L472 757.4 L471.4 758.7 L470.7 760 L470.1 761.4 L469.4 762.7 L468.7 764 L468 765.2 L467.2 766.5 L466.5 767.8 L465.7 769 L464.9 770.3 L464 771.5 L463.2 772.7 L462.3 773.9 L461.4 775 L460.5 776.2 L459.5 777.3 L458.6 778.4 L457.6 779.5 L456.6 780.6 L455.6 781.7 L454.6 782.8 L453.5 783.8 L452.4 784.8 L451.3 785.8 L450.2 786.8 L449.1 787.7 L448 788.7 L446.8 789.6 L445.7 790.5 L444.5 791.4 L443.3 792.2 L442.1 793.1 L440.8 793.9 L439.6 794.7 L438.3 795.4 L437.1 796.2 L435.8 796.9 L434.5 797.6 L433.2 798.3 L431.8 798.9 L430.5 799.6 L429.2 800.2 L427.8 800.8 L426.5 801.3 L425.1 801.9 L423.7 802.4 L422.3 802.9 L420.9 803.4 L419.5 803.8 L418.1 804.2 L416.7 804.6 L415.2 805 L413.8 805.3 L412.4 805.7 L410.9 805.9 L409.5 806.2 L408 806.5 L406.6 806.7 L405.1 806.9 L403.6 807 L402.2 807.2 L400.7 807.3 L399.2 807.4 L397.7 807.4 L396.3 807.5 L394.8 807.5 L393.3 807.5 L391.9 807.4 L390.4 807.4 L388.9 807.3 L387.4 807.2 L386 807 L384.5 806.9 L383 806.7 L381.6 806.5 L380.1 806.2 L378.7 805.9 L377.2 805.7 L375.8 805.3 L374.4 805 L372.9 804.6 L371.5 804.2 L370.1 803.8 L368.7 803.4 L367.3 802.9 L365.9 802.4 L364.5 801.9 L363.1 801.3 L361.8 800.8 L360.4 800.2 L359.1 799.6 L357.8 798.9 L356.4 798.3 L355.1 797.6 L353.8 796.9 L352.6 796.2 L351.3 795.4 L350 794.7 L348.8 793.9 L347.5 793.1 L346.3 792.2 L345.1 791.4 L343.9 790.5 L342.8 789.6 L341.6 788.7 L340.5 787.7 L339.4 786.8 L338.3 785.8 L337.2 784.8 L336.1 783.8 L335 782.8 L334 781.7 L333 780.6 L332 779.5 L331 778.4 L330.1 777.3 L329.1 776.2 L328.2 775 L327.3 773.9 L326.4 772.7 L325.6 771.5 L324.7 770.3 L323.9 769 L323.1 767.8 L322.4 766.5 L321.6 765.2 L320.9 764 L320.2 762.7 L319.5 761.4 L318.9 760 L318.2 758.7 L317.6 757.4 L317 756 L316.5 754.7 L315.9 753.3 L315.4 751.9 L314.9 750.5 L314.4 749.1 L314 747.7 L313.6 746.3 L313.2 744.9 L312.8 743.4 L312.5 742 L312.1 740.6 L311.9 739.1 L311.6 737.7 L311.3 736.2 L311.1 734.8 L310.9 733.3 L310.8 731.8 L310.6 730.4 L310.5 728.9 L310.4 727.4 L310.4 725.9 L310.3 724.5 L310.3 723 L310.3 721.5 L310.4 720.1 L310.4 718.6 L310.5 717.1 L310.6 715.6 L310.8 714.2 L310.9 712.7 L311.1 711.2 L311.3 709.8 L311.6 708.3 L311.9 706.9 L312.1 705.4 L312.5 704 L312.8 702.6 L313.2 701.1 L313.6 699.7 L314 698.3 L314.4 696.9 L314.9 695.5 L315.4 694.1 L315.9 692.7 L316.5 691.3 L317 690 L317.6 688.6 L318.2 687.3 L318.9 686 L319.5 684.6 L320.2 683.3 L320.9 682 L321.6 680.8 L322.4 679.5 L323.1 678.2 L323.9 677 L324.7 675.7 L325.6 674.5 L326.4 673.3 L327.3 672.1 L328.2 671 L329.1 669.8 L330.1 668.7 L331 667.6 L332 666.5 L333 665.4 L334 664.3 L335 663.2 L336.1 662.2 L337.2 661.2 L338.3 660.2 L339.4 659.2 L340.5 658.3 L341.6 657.3 L342.8 656.4 L343.9 655.5 L345.1 654.6 L346.3 653.8 L347.5 652.9 L348.8 652.1 L350 651.3 L351.3 650.6 L352.5 649.8 L353.8 649.1 L355.1 648.4 L356.4 647.7 L357.8 647.1 L359.1 646.4 L360.4 645.8 L361.8 645.2 L363.1 644.7 L364.5 644.1 L365.9 643.6 L367.3 643.1 L368.7 642.6 L370.1 642.2 L371.5 641.8 L372.9 641.4 L374.4 641 L375.8 640.7 L377.2 640.3 L378.7 640.1 L380.1 639.8 L381.6 639.5 L383 639.3 L384.5 639.1 L386 639" fill="none" stroke="#0404ec" stroke-width="4.8"/><circle cx="408" cy="639.5" r="6.7" fill="#0404ec"/><circle cx="429.2" cy="645.8" r="6.7" fill="#0404ec"/><circle cx="448" cy="657.3" r="6.7" fill="#0404ec"/><circle cx="463.2" cy="673.3" r="6.7" fill="#0404ec"/><circle cx="473.7" cy="692.7" r="6.7" fill="#0404ec"/><circle cx="478.8" cy="714.2" r="6.7" fill="#0404ec"/><circle cx="478.3" cy="736.2" r="6.7" fill="#0404ec"/><circle cx="472" cy="757.4" r="6.7" fill="#0404ec"/><circle cx="460.5" cy="776.2" r="6.7" fill="#0404ec"/><circle cx="444.5" cy="791.4" r="6.7" fill="#0404ec"/><circle cx="425.1" cy="801.9" r="6.7" fill="#0404ec"/><circle cx="403.6" cy="807" r="6.7" fill="#0404ec"/><circle cx="381.6" cy="806.5" r="6.7" fill="#0404ec"/><circle cx="360.4" cy="800.2" r="6.7" fill="#0404ec"/><circle cx="341.6" cy="788.7" r="6.7" fill="#0404ec"/><circle cx="326.4" cy="772.7" r="6.7" fill="#0404ec"/><circle cx="315.9" cy="753.3" r="6.7" fill="#0404ec"/><circle cx="310.8" cy="731.8" r="6.7" fill="#0404ec"/><circle cx="311.3" cy="709.8" r="6.7" fill="#0404ec"/><circle cx="317.6" cy="688.6" r="6.7" fill="#0404ec"/><circle cx="329.1" cy="669.8" r="6.7" fill="#0404ec"/><circle cx="345.1" cy="654.6" r="6.7" fill="#0404ec"/><circle cx="364.5" cy="644.1" r="6.7" fill="#0404ec"/><circle cx="386" cy="639" r="6.7" fill="#0404ec"/><path d="M384.8 638.5 L360.8 626 L358.8 652 Z" fill="#0404ec"/>
<path d="M395.2 500.8 L406.4 489.7 L412.4 495.7 L401.3 506.9 L412.4 518.1 L406.4 524.1 L395.2 513 L384 524.1 L378 518.1 L389.1 506.9 L378 495.7 L384 489.7Z" fill="none" stroke="#000" stroke-width="5.2" stroke-linejoin="miter"/>
<rect x="499.1" y="300.4" width="168" height="82" rx="11" fill="#27b47a" stroke="#088008" stroke-width="4.2"/><g stroke="#000" stroke-width="0.9"><text x="510.52" y="354.00" font-size="44" fill="#000" textLength="27.08" lengthAdjust="spacingAndGlyphs">Π</text><text x="558.08" y="369.70" font-size="24.5" fill="#000" textLength="14.97" lengthAdjust="spacingAndGlyphs">2</text><text x="635.18" y="353.70" font-size="44" fill="#000" textLength="23.95" lengthAdjust="spacingAndGlyphs">0</text></g><use href="#calC" transform="translate(540.15 340.45) scale(0.6545 0.7556)" stroke="#000" stroke-width="3.1"/><rect x="592.1" y="334.9" width="27" height="3.8" fill="#000"/><rect x="592.1" y="343.6" width="27" height="3.8" fill="#000"/>
<rect x="498.3" y="490.4" width="168" height="82" rx="11" fill="#3dbd70" stroke="#de1818" stroke-width="4.2"/><g stroke="#000" stroke-width="0.9"><text x="507.72" y="544.00" font-size="44" fill="#000" textLength="27.08" lengthAdjust="spacingAndGlyphs">Π</text><path d="M556.8 545.4 L569.8 558.4 M569.8 545.4 L556.8 558.4" stroke="#000" stroke-width="2.4"/><text x="634.55" y="544.20" font-size="46" font-style="italic" fill="#000" textLength="23.77" lengthAdjust="spacingAndGlyphs">π</text></g><use href="#calC" transform="translate(537.35 530.45) scale(0.6545 0.7556)" stroke="#000" stroke-width="3.1"/><rect x="591.3" y="524.9" width="27" height="3.8" fill="#000"/><rect x="591.3" y="533.6" width="27" height="3.8" fill="#000"/>
<rect x="499.1" y="680.4" width="168" height="82" rx="11" fill="#2b6e8d" stroke="#0404ec" stroke-width="4.2"/><g stroke="#fff" stroke-width="0.9"><text x="510.52" y="734.00" font-size="44" fill="#fff" textLength="27.08" lengthAdjust="spacingAndGlyphs">Π</text><text x="556.65" y="749.70" font-size="24.5" fill="#fff" textLength="15.62" lengthAdjust="spacingAndGlyphs">1</text><text x="635.18" y="733.70" font-size="44" fill="#fff" textLength="23.95" lengthAdjust="spacingAndGlyphs">0</text></g><use href="#calC" transform="translate(540.15 720.45) scale(0.6545 0.7556)" stroke="#fff" stroke-width="3.1"/><rect x="592.1" y="714.9" width="27" height="3.8" fill="#fff"/><rect x="592.1" y="723.6" width="27" height="3.8" fill="#fff"/>
<line x1="276" y1="601" x2="358" y2="531" stroke="#000" stroke-width="2.2"/>
<path d="M371 521 L350 527 L362 540 Z" fill="#000"/>
<rect x="9" y="585.5" width="270.5" height="315.5" rx="30" fill="#fff" stroke="#000" stroke-width="4.6"/>
<path d="M77 768 V650 M77 768 H216 M77 768 L40 825" stroke="#000" stroke-width="4" fill="none"/>
<path d="M77 636 L69 654 L85 654 Z" fill="#000"/>
<path d="M233 768 L214 760 L214 776 Z" fill="#000"/>
<path d="M31 841 L35 821 L48 829 Z" fill="#000"/>
<path d="M96.6 674.2 L138.4 740.8 L180.2 674.2 Z" fill="#4472c4"/>
<ellipse cx="138.4" cy="674.2" rx="41.8" ry="8.5" fill="#4472c4"/>
<path d="M98 678 Q138.4 692 179 678" fill="none" stroke="#fff" stroke-width="1.6"/>
<path d="M94.9 814.3 L138.4 740.8 L181.9 814.3 Z" fill="#ed7d31"/>
<ellipse cx="138.4" cy="814.3" rx="43.5" ry="8.5" fill="#ed7d31"/>
<g fill="none" stroke="#3a62a8" stroke-width="1.8" stroke-dasharray="5 3"><ellipse cx="138.4" cy="668" rx="50" ry="14"/><path d="M58 655 Q75 660 90 662"/><path d="M186 662 Q200 658 216 654"/><path d="M97 642 Q118 640 123 662"/><path d="M186 642 Q160 638 156 662"/></g>
<g fill="none" stroke="#c0692a" stroke-width="1.8" stroke-dasharray="5 3"><ellipse cx="138.4" cy="820" rx="50" ry="14"/><path d="M62 826 Q78 820 90 818"/><path d="M188 820 Q206 826 222 830"/><path d="M92 842 Q116 842 120 830"/><path d="M182 842 Q160 842 156 830"/></g>
<text x="125.47" y="630.00" font-size="40" font-style="italic" fill="#4472c4">E</text><text x="150.50" y="639.00" font-size="28" font-style="italic" fill="#4472c4">1</text>
<text x="155.89" y="750.00" font-size="42" font-style="italic" fill="#4472c4">E</text><text x="181.00" y="756.00" font-size="28" font-style="italic" fill="#4472c4">1</text><text x="194.29" y="749.00" font-size="42" fill="#4472c4" textLength="36.36" lengthAdjust="spacingAndGlyphs">=</text><text x="228.49" y="750.00" font-size="42" font-style="italic" fill="#dd1c1c">E</text><text x="254.92" y="756.00" font-size="28" font-style="italic" fill="#dd1c1c">0</text>
<text x="123.49" y="884.00" font-size="42" font-style="italic" fill="#dd1c1c">E</text><text x="148.92" y="889.00" font-size="28" font-style="italic" fill="#dd1c1c">0</text>
<rect x="785" y="111.5" width="568.5" height="375.5" fill="none" stroke="#000" stroke-width="3.3"/>
<line x1="1353.5" y1="201.5" x2="1339.5" y2="201.5" stroke="#000" stroke-width="2.8"/>
<text x="1367.68" y="218.00" font-size="44" fill="#000" textLength="130.94" lengthAdjust="spacingAndGlyphs">−92.75</text>
<line x1="1353.5" y1="331" x2="1339.5" y2="331" stroke="#000" stroke-width="2.8"/>
<text x="1367.69" y="347.50" font-size="44" fill="#000" textLength="130.49" lengthAdjust="spacingAndGlyphs">−92.76</text>
<line x1="1353.5" y1="460.7" x2="1339.5" y2="460.7" stroke="#000" stroke-width="2.8"/>
<text x="1367.69" y="477.20" font-size="44" fill="#000" textLength="130.44" lengthAdjust="spacingAndGlyphs">−92.77</text>
<line x1="810.8" y1="487" x2="810.8" y2="473" stroke="#000" stroke-width="2.8"/>
<line x1="1069.2" y1="487" x2="1069.2" y2="473" stroke="#000" stroke-width="2.8"/>
<line x1="1327.6" y1="487" x2="1327.6" y2="473" stroke="#000" stroke-width="2.8"/>
<text x="721.04" y="145.60" font-size="44" fill="#000" textLength="51.91" lengthAdjust="spacingAndGlyphs">(b)</text>
<g transform="translate(758.4 410.8) rotate(-90)"><text x="0.60" y="0.00" font-size="43" font-style="italic" fill="#000" textLength="31.22" lengthAdjust="spacingAndGlyphs" stroke="#fff" stroke-width="0.6">E</text><text x="37.20" y="0.00" font-size="41" fill="#000">(</text><text x="55.70" y="0.00" font-size="41" font-style="italic" fill="#000">t</text><text x="71.44" y="0.00" font-size="41" fill="#000">,</text><text x="82.68" y="0.00" font-size="41" font-weight="bold" font-style="italic" fill="#000" textLength="22.38" lengthAdjust="spacingAndGlyphs">θ</text><path d="M87.5 -33.5 C90.5 -37.5 93.5 -34 96.5 -35.5 C98.5 -36.5 99.5 -38 100.5 -38" fill="none" stroke="#000" stroke-width="2.4"/><text x="105.37" y="6.00" font-size="28" font-style="italic" fill="#000">t</text><text x="119.68" y="0.00" font-size="41" fill="#000">)</text><text x="152.80" y="0.00" font-size="41" fill="#000" textLength="74.00" lengthAdjust="spacingAndGlyphs">[Ha]</text></g>
<path d="M810.8 131.9 L832.3 131.9 L853.9 136.5 L875.4 142.8 L896.9 151.6 L918.5 160.9 L940 168.6 L961.5 173.4 L983.1 171.7 L1004.6 164.9 L1026.1 154.8 L1047.7 147 L1069.2 147 L1090.7 155.3 L1112.3 167.4 L1133.8 174.1 L1155.3 174.1 L1176.9 167.9 L1198.4 159.6 L1219.9 149.1 L1241.5 139.5 L1263 132.7 L1284.5 129.7 L1306.1 128.4 L1327.6 129.7" fill="none" stroke="#088008" stroke-width="3.6" stroke-linejoin="round"/><circle cx="810.8" cy="130.8" r="6.5" fill="#088008"/><circle cx="832.3" cy="130.8" r="6.5" fill="#088008"/><circle cx="853.9" cy="134.7" r="6.5" fill="#088008"/><circle cx="875.4" cy="140.1" r="6.5" fill="#088008"/><circle cx="896.9" cy="147.6" r="6.5" fill="#088008"/><circle cx="918.5" cy="155.6" r="6.5" fill="#088008"/><circle cx="940" cy="162.2" r="6.5" fill="#088008"/><circle cx="961.5" cy="166.3" r="6.5" fill="#088008"/><circle cx="983.1" cy="164.8" r="6.5" fill="#088008"/><circle cx="1004.6" cy="159" r="6.5" fill="#088008"/><circle cx="1026.1" cy="150.4" r="6.5" fill="#088008"/><circle cx="1047.7" cy="143.7" r="6.5" fill="#088008"/><circle cx="1069.2" cy="143.7" r="6.5" fill="#088008"/><circle cx="1090.7" cy="150.8" r="6.5" fill="#088008"/><circle cx="1112.3" cy="161.1" r="6.5" fill="#088008"/><circle cx="1133.8" cy="166.9" r="6.5" fill="#088008"/><circle cx="1155.3" cy="166.9" r="6.5" fill="#088008"/><circle cx="1176.9" cy="161.6" r="6.5" fill="#088008"/><circle cx="1198.4" cy="154.5" r="6.5" fill="#088008"/><circle cx="1219.9" cy="145.5" r="6.5" fill="#088008"/><circle cx="1241.5" cy="137.3" r="6.5" fill="#088008"/><circle cx="1263" cy="131.5" r="6.5" fill="#088008"/><circle cx="1284.5" cy="128.9" r="6.5" fill="#088008"/><circle cx="1306.1" cy="127.8" r="6.5" fill="#088008"/><circle cx="1327.6" cy="128.9" r="6.5" fill="#088008"/>
<path d="M810.8 151.9 L832.3 157 L853.9 168 L875.4 185.2 L896.9 206.7 L918.5 234.6 L940 262.6 L961.5 286.2 L983.1 299 L1004.6 305.5 L1026.1 306.6 L1047.7 306.6 L1069.2 306.6 L1090.7 306.6 L1112.3 306.6 L1133.8 300.2 L1155.3 284 L1176.9 258.3 L1198.4 229.3 L1219.9 202.4 L1241.5 180.9 L1263 164.8 L1284.5 155.1 L1306.1 149.8 L1327.6 150.4" fill="none" stroke="#ec0a0a" stroke-width="3.6" stroke-linejoin="round"/><circle cx="810.8" cy="150.8" r="6.5" fill="#ec0a0a"/><circle cx="832.3" cy="148.7" r="6.5" fill="#ec0a0a"/><circle cx="853.9" cy="159.8" r="6.5" fill="#ec0a0a"/><circle cx="875.4" cy="175.1" r="6.5" fill="#ec0a0a"/><circle cx="896.9" cy="196" r="6.5" fill="#ec0a0a"/><circle cx="918.5" cy="220.7" r="6.5" fill="#ec0a0a"/><circle cx="940" cy="247.5" r="6.5" fill="#ec0a0a"/><circle cx="961.5" cy="270.7" r="6.5" fill="#ec0a0a"/><circle cx="983.1" cy="284.5" r="6.5" fill="#ec0a0a"/><circle cx="1004.6" cy="288.3" r="6.5" fill="#ec0a0a"/><circle cx="1026.1" cy="287.3" r="6.5" fill="#ec0a0a"/><circle cx="1047.7" cy="285.1" r="6.5" fill="#ec0a0a"/><circle cx="1069.2" cy="285.1" r="6.5" fill="#ec0a0a"/><circle cx="1090.7" cy="287.3" r="6.5" fill="#ec0a0a"/><circle cx="1112.3" cy="287.3" r="6.5" fill="#ec0a0a"/><circle cx="1133.8" cy="281.9" r="6.5" fill="#ec0a0a"/><circle cx="1155.3" cy="268.6" r="6.5" fill="#ec0a0a"/><circle cx="1176.9" cy="244.9" r="6.5" fill="#ec0a0a"/><circle cx="1198.4" cy="214.9" r="6.5" fill="#ec0a0a"/><circle cx="1219.9" cy="185.6" r="6.5" fill="#ec0a0a"/><circle cx="1241.5" cy="165.9" r="6.5" fill="#ec0a0a"/><circle cx="1263" cy="153.4" r="6.5" fill="#ec0a0a"/><circle cx="1284.5" cy="145.9" r="6.5" fill="#ec0a0a"/><circle cx="1306.1" cy="142.2" r="6.5" fill="#ec0a0a"/><circle cx="1327.6" cy="143.3" r="6.5" fill="#ec0a0a"/>
<path d="M810.8 311.8 L832.3 329.2 L853.9 358 L875.4 396.9 L896.9 431.8 L918.5 456.4 L940 467.7 L961.5 467.7 L983.1 456.4 L1004.6 439 L1026.1 424.6 L1047.7 415.4 L1069.2 417.4 L1090.7 426.7 L1112.3 443.1 L1133.8 460.5 L1155.3 470.4 L1176.9 468.7 L1198.4 454.4 L1219.9 428.7 L1241.5 394.9 L1263 359 L1284.5 326.2 L1306.1 308.7 L1327.6 310.8" fill="none" stroke="#0404ec" stroke-width="3.6" stroke-linejoin="round"/><circle cx="810.8" cy="310.4" r="6.5" fill="#0404ec"/><circle cx="832.3" cy="311.2" r="6.5" fill="#0404ec"/><circle cx="853.9" cy="350.8" r="6.5" fill="#0404ec"/><circle cx="875.4" cy="389.7" r="6.5" fill="#0404ec"/><circle cx="896.9" cy="424.2" r="6.5" fill="#0404ec"/><circle cx="918.5" cy="448.6" r="6.5" fill="#0404ec"/><circle cx="940" cy="460.1" r="6.5" fill="#0404ec"/><circle cx="961.5" cy="458.9" r="6.5" fill="#0404ec"/><circle cx="983.1" cy="447.2" r="6.5" fill="#0404ec"/><circle cx="1004.6" cy="429.1" r="6.5" fill="#0404ec"/><circle cx="1026.1" cy="411.9" r="6.5" fill="#0404ec"/><circle cx="1047.7" cy="402.5" r="6.5" fill="#0404ec"/><circle cx="1069.2" cy="403.1" r="6.5" fill="#0404ec"/><circle cx="1090.7" cy="414.4" r="6.5" fill="#0404ec"/><circle cx="1112.3" cy="431.8" r="6.5" fill="#0404ec"/><circle cx="1133.8" cy="449.8" r="6.5" fill="#0404ec"/><circle cx="1155.3" cy="460.5" r="6.5" fill="#0404ec"/><circle cx="1176.9" cy="460.5" r="6.5" fill="#0404ec"/><circle cx="1198.4" cy="446.6" r="6.5" fill="#0404ec"/><circle cx="1219.9" cy="420.1" r="6.5" fill="#0404ec"/><circle cx="1241.5" cy="385.6" r="6.5" fill="#0404ec"/><circle cx="1263" cy="347.7" r="6.5" fill="#0404ec"/><circle cx="1284.5" cy="312.8" r="6.5" fill="#0404ec"/><circle cx="1306.1" cy="288.6" r="6.5" fill="#0404ec"/><circle cx="1327.6" cy="288.6" r="6.5" fill="#0404ec"/>
<use href="#calC" transform="translate(1133.70 123.10) scale(0.8273 0.8593)" stroke="#088008" stroke-width="3.4"/><text x="1153.62" y="156.30" font-size="26" fill="#088008" textLength="15.72" lengthAdjust="spacingAndGlyphs">2</text>
<use href="#calC" transform="translate(1130.70 201.70) scale(0.8273 0.8593)" stroke="#ec0a0a" stroke-width="3.4"/><path d="M1156.5 220 L1167.5 233 M1167.5 220 L1156.5 233" stroke="#ec0a0a" stroke-width="2.3"/>
<use href="#calC" transform="translate(1133.50 402.70) scale(0.8273 0.8593)" stroke="#0404ec" stroke-width="3.4"/><text x="1152.38" y="437.00" font-size="26" fill="#0404ec" textLength="14.91" lengthAdjust="spacingAndGlyphs">1</text>
<rect x="785" y="487" width="568.5" height="376" fill="none" stroke="#000" stroke-width="3.3"/>
<line x1="786.5" y1="800" x2="1352" y2="800" stroke="#b3b3b3" stroke-width="2.6"/>
<line x1="1353.5" y1="800" x2="1339.5" y2="800" stroke="#000" stroke-width="2.8"/>
<text x="1367.34" y="815.30" font-size="44" fill="#000" textLength="57.13" lengthAdjust="spacingAndGlyphs">0.0</text>
<line x1="786.5" y1="702.9" x2="1352" y2="702.9" stroke="#b3b3b3" stroke-width="2.6"/>
<line x1="1353.5" y1="702.9" x2="1339.5" y2="702.9" stroke="#000" stroke-width="2.8"/>
<text x="1367.34" y="718.20" font-size="44" fill="#000" textLength="57.13" lengthAdjust="spacingAndGlyphs">0.5</text>
<line x1="786.5" y1="605.8" x2="1352" y2="605.8" stroke="#b3b3b3" stroke-width="2.6"/>
<line x1="1353.5" y1="605.8" x2="1339.5" y2="605.8" stroke="#000" stroke-width="2.8"/>
<text x="1367.24" y="621.10" font-size="44" fill="#000" textLength="57.22" lengthAdjust="spacingAndGlyphs">1.0</text>
<line x1="786.5" y1="508.7" x2="1352" y2="508.7" stroke="#b3b3b3" stroke-width="2.6"/>
<line x1="1353.5" y1="508.7" x2="1339.5" y2="508.7" stroke="#000" stroke-width="2.8"/>
<text x="1367.24" y="524.00" font-size="44" fill="#000" textLength="57.23" lengthAdjust="spacingAndGlyphs">1.5</text>
<line x1="810.8" y1="863" x2="810.8" y2="849" stroke="#000" stroke-width="2.8"/>
<text x="782.24" y="909.00" font-size="44" fill="#000" textLength="57.13" lengthAdjust="spacingAndGlyphs">0.0</text>
<line x1="1069.2" y1="863" x2="1069.2" y2="849" stroke="#000" stroke-width="2.8"/>
<text x="1040.66" y="909.00" font-size="44" fill="#000" textLength="57.13" lengthAdjust="spacingAndGlyphs">0.5</text>
<line x1="1327.6" y1="863" x2="1327.6" y2="849" stroke="#000" stroke-width="2.8"/>
<text x="1297.85" y="909.00" font-size="44" fill="#000" textLength="57.22" lengthAdjust="spacingAndGlyphs">1.0</text>
<text x="1061.53" y="963.40" font-size="46" fill="#000" textLength="13.24" lengthAdjust="spacingAndGlyphs">t</text>
<text x="721.12" y="535.50" font-size="44" fill="#000" textLength="47.46" lengthAdjust="spacingAndGlyphs">(c)</text>
<g transform="translate(759.8 735.6) rotate(-90)"><text x="-2.05" y="0.00" font-size="43" font-style="italic" fill="#000" textLength="20.64" lengthAdjust="spacingAndGlyphs">θ</text><path d="M4.6 -36.5 C7 -40.5 10 -37 13 -38.5 C15 -39.5 17 -41 19 -40.5" fill="none" stroke="#000" stroke-width="2.3"/><text x="20.74" y="5.20" font-size="30" font-style="italic" fill="#000" textLength="7.99" lengthAdjust="spacingAndGlyphs">t</text><line x1="47" y1="-11.4" x2="72.6" y2="-11.4" stroke="#000" stroke-width="2.4"/><text x="86.02" y="0.00" font-size="43" font-style="italic" fill="#000" textLength="19.93" lengthAdjust="spacingAndGlyphs">θ</text><path d="M90 -36.5 C92.5 -40.5 95.5 -37 98.5 -38.5 C100.5 -39.5 102.5 -41 104.5 -40.5" fill="none" stroke="#000" stroke-width="2.3"/><text x="105.76" y="5.80" font-size="30.5" fill="#000" textLength="16.28" lengthAdjust="spacingAndGlyphs">0</text></g>
<path d="M810.8 800 L832.3 799.2 L853.9 795.4 L875.4 790.5 L896.9 781.7 L918.5 768.4 L940 753.1 L961.5 737.9 L983.1 720.8 L1004.6 702.9 L1026.1 683 L1047.7 661 L1069.2 637 L1090.7 617 L1112.3 596.1 L1133.8 579.7 L1155.3 563.7 L1176.9 549.3 L1198.4 536.3 L1219.9 521.9 L1241.5 512.4 L1263 507.4 L1284.5 504.7 L1306.1 504 L1327.6 504.7" fill="none" stroke="#ec0a0a" stroke-width="3.6" stroke-linejoin="round"/><circle cx="810.8" cy="800" r="6.5" fill="#ec0a0a"/><circle cx="832.3" cy="799.2" r="6.5" fill="#ec0a0a"/><circle cx="853.9" cy="795.4" r="6.5" fill="#ec0a0a"/><circle cx="875.4" cy="790.5" r="6.5" fill="#ec0a0a"/><circle cx="896.9" cy="781.7" r="6.5" fill="#ec0a0a"/><circle cx="918.5" cy="768.4" r="6.5" fill="#ec0a0a"/><circle cx="940" cy="753.1" r="6.5" fill="#ec0a0a"/><circle cx="961.5" cy="737.9" r="6.5" fill="#ec0a0a"/><circle cx="983.1" cy="720.8" r="6.5" fill="#ec0a0a"/><circle cx="1004.6" cy="702.9" r="6.5" fill="#ec0a0a"/><circle cx="1026.1" cy="683" r="6.5" fill="#ec0a0a"/><circle cx="1047.7" cy="661" r="6.5" fill="#ec0a0a"/><circle cx="1069.2" cy="637" r="6.5" fill="#ec0a0a"/><circle cx="1090.7" cy="617" r="6.5" fill="#ec0a0a"/><circle cx="1112.3" cy="596.1" r="6.5" fill="#ec0a0a"/><circle cx="1133.8" cy="579.7" r="6.5" fill="#ec0a0a"/><circle cx="1155.3" cy="563.7" r="6.5" fill="#ec0a0a"/><circle cx="1176.9" cy="549.3" r="6.5" fill="#ec0a0a"/><circle cx="1198.4" cy="536.3" r="6.5" fill="#ec0a0a"/><circle cx="1219.9" cy="521.9" r="6.5" fill="#ec0a0a"/><circle cx="1241.5" cy="512.4" r="6.5" fill="#ec0a0a"/><circle cx="1263" cy="507.4" r="6.5" fill="#ec0a0a"/><circle cx="1284.5" cy="504.7" r="6.5" fill="#ec0a0a"/><circle cx="1306.1" cy="504" r="6.5" fill="#ec0a0a"/><circle cx="1327.6" cy="504.7" r="6.5" fill="#ec0a0a"/>
<path d="M810.8 800 L832.3 820.2 L853.9 833.5 L875.4 841.9 L896.9 845.7 L918.5 846.5 L940 843.8 L961.5 838.1 L983.1 829.7 L1004.6 820.2 L1026.1 807.6 L1047.7 794.3 L1069.2 778 L1090.7 763.6 L1112.3 751 L1133.8 741.9 L1155.3 734.3 L1176.9 730.1 L1198.4 728.6 L1219.9 729.3 L1241.5 733.9 L1263 742.7 L1284.5 757.9 L1306.1 777.7 L1327.6 799.8" fill="none" stroke="#0404ec" stroke-width="3.6" stroke-linejoin="round"/><circle cx="810.8" cy="800" r="6.5" fill="#0404ec"/><circle cx="832.3" cy="820.2" r="6.5" fill="#0404ec"/><circle cx="853.9" cy="833.5" r="6.5" fill="#0404ec"/><circle cx="875.4" cy="841.9" r="6.5" fill="#0404ec"/><circle cx="896.9" cy="845.7" r="6.5" fill="#0404ec"/><circle cx="918.5" cy="846.5" r="6.5" fill="#0404ec"/><circle cx="940" cy="843.8" r="6.5" fill="#0404ec"/><circle cx="961.5" cy="838.1" r="6.5" fill="#0404ec"/><circle cx="983.1" cy="829.7" r="6.5" fill="#0404ec"/><circle cx="1004.6" cy="820.2" r="6.5" fill="#0404ec"/><circle cx="1026.1" cy="807.6" r="6.5" fill="#0404ec"/><circle cx="1047.7" cy="794.3" r="6.5" fill="#0404ec"/><circle cx="1069.2" cy="778" r="6.5" fill="#0404ec"/><circle cx="1090.7" cy="763.6" r="6.5" fill="#0404ec"/><circle cx="1112.3" cy="751" r="6.5" fill="#0404ec"/><circle cx="1133.8" cy="741.9" r="6.5" fill="#0404ec"/><circle cx="1155.3" cy="734.3" r="6.5" fill="#0404ec"/><circle cx="1176.9" cy="730.1" r="6.5" fill="#0404ec"/><circle cx="1198.4" cy="728.6" r="6.5" fill="#0404ec"/><circle cx="1219.9" cy="729.3" r="6.5" fill="#0404ec"/><circle cx="1241.5" cy="733.9" r="6.5" fill="#0404ec"/><circle cx="1263" cy="742.7" r="6.5" fill="#0404ec"/><circle cx="1284.5" cy="757.9" r="6.5" fill="#0404ec"/><circle cx="1306.1" cy="777.7" r="6.5" fill="#0404ec"/><circle cx="1327.6" cy="799.8" r="6.5" fill="#0404ec"/>
<path d="M810.8 800 L832.3 799.7 L853.9 799.1 L875.4 798.3 L896.9 797.5 L918.5 796.7 L940 795.8 L961.5 795.1 L983.1 794.4 L1004.6 793.8 L1026.1 793.4 L1047.7 793.1 L1069.2 793 L1090.7 793.1 L1112.3 793.4 L1133.8 793.8 L1155.3 794.4 L1176.9 795.1 L1198.4 795.8 L1219.9 796.7 L1241.5 797.5 L1263 798.3 L1284.5 799.1 L1306.1 799.7 L1327.6 800" fill="none" stroke="#088008" stroke-width="3.6" stroke-linejoin="round"/><circle cx="810.8" cy="800" r="6.5" fill="#088008"/><circle cx="832.3" cy="799.7" r="6.5" fill="#088008"/><circle cx="853.9" cy="799.1" r="6.5" fill="#088008"/><circle cx="875.4" cy="798.3" r="6.5" fill="#088008"/><circle cx="896.9" cy="797.5" r="6.5" fill="#088008"/><circle cx="918.5" cy="796.7" r="6.5" fill="#088008"/><circle cx="940" cy="795.8" r="6.5" fill="#088008"/><circle cx="961.5" cy="795.1" r="6.5" fill="#088008"/><circle cx="983.1" cy="794.4" r="6.5" fill="#088008"/><circle cx="1004.6" cy="793.8" r="6.5" fill="#088008"/><circle cx="1026.1" cy="793.4" r="6.5" fill="#088008"/><circle cx="1047.7" cy="793.1" r="6.5" fill="#088008"/><circle cx="1069.2" cy="793" r="6.5" fill="#088008"/><circle cx="1090.7" cy="793.1" r="6.5" fill="#088008"/><circle cx="1112.3" cy="793.4" r="6.5" fill="#088008"/><circle cx="1133.8" cy="793.8" r="6.5" fill="#088008"/><circle cx="1155.3" cy="794.4" r="6.5" fill="#088008"/><circle cx="1176.9" cy="795.1" r="6.5" fill="#088008"/><circle cx="1198.4" cy="795.8" r="6.5" fill="#088008"/><circle cx="1219.9" cy="796.7" r="6.5" fill="#088008"/><circle cx="1241.5" cy="797.5" r="6.5" fill="#088008"/><circle cx="1263" cy="798.3" r="6.5" fill="#088008"/><circle cx="1284.5" cy="799.1" r="6.5" fill="#088008"/><circle cx="1306.1" cy="799.7" r="6.5" fill="#088008"/><circle cx="1327.6" cy="800" r="6.5" fill="#088008"/>
<rect x="807.2" y="511.1" width="380.2" height="130.2" rx="6" fill="#fff" fill-opacity="0.8" stroke="#cccccc" stroke-width="2.6"/>
<line x1="821.5" y1="541" x2="912.3" y2="541" stroke="#808080" stroke-width="4.2"/>
<circle cx="867" cy="601.2" r="6.4" fill="#808080"/>
<text x="944.06" y="556.60" font-size="44" fill="#000" textLength="136.51" lengthAdjust="spacingAndGlyphs">full opt</text>
<text x="944.11" y="617.20" font-size="44" fill="#000" textLength="225.82" lengthAdjust="spacingAndGlyphs">NR updates</text>
<use href="#calC" transform="translate(1276.70 525.50) scale(0.8455 0.8741)" stroke="#ec0a0a" stroke-width="3.4"/><path d="M1300 543 L1312.5 556.5 M1312.5 543 L1300 556.5" stroke="#ec0a0a" stroke-width="2.3"/>
<use href="#calC" transform="translate(1276.70 711.70) scale(0.8455 0.8741)" stroke="#0404ec" stroke-width="3.4"/><text x="1297.88" y="742.70" font-size="26" fill="#0404ec" textLength="14.91" lengthAdjust="spacingAndGlyphs">1</text>
<use href="#calC" transform="translate(1276.70 820.50) scale(0.8455 0.8741)" stroke="#088008" stroke-width="3.4"/><text x="1298.62" y="855.00" font-size="26" fill="#088008" textLength="15.72" lengthAdjust="spacingAndGlyphs">2</text>
<rect x="1578.7" y="492.5" width="375.8" height="372.5" fill="none" stroke="#000" stroke-width="3.3"/>
<line x1="1580.2" y1="508.6" x2="1953" y2="508.6" stroke="#b3b3b3" stroke-width="2.6"/>
<line x1="1578.7" y1="508.6" x2="1592.7" y2="508.6" stroke="#000" stroke-width="2.8"/>
<text x="1540.67" y="524.60" font-size="44" fill="#000" textLength="23.10" lengthAdjust="spacingAndGlyphs">1</text>
<line x1="1580.2" y1="678.2" x2="1953" y2="678.2" stroke="#b3b3b3" stroke-width="2.6"/>
<line x1="1578.7" y1="678.2" x2="1592.7" y2="678.2" stroke="#000" stroke-width="2.8"/>
<text x="1542.66" y="694.20" font-size="44" fill="#000" textLength="23.10" lengthAdjust="spacingAndGlyphs">0</text>
<line x1="1580.2" y1="847.8" x2="1953" y2="847.8" stroke="#b3b3b3" stroke-width="2.6"/>
<line x1="1578.7" y1="847.8" x2="1592.7" y2="847.8" stroke="#000" stroke-width="2.8"/>
<text x="1515.12" y="863.80" font-size="44" fill="#000" textLength="49.16" lengthAdjust="spacingAndGlyphs">−1</text>
<line x1="1601.2" y1="865" x2="1601.2" y2="851" stroke="#000" stroke-width="2.8"/>
<text x="1589.56" y="910.00" font-size="44" fill="#000" textLength="23.10" lengthAdjust="spacingAndGlyphs">4</text>
<line x1="1711.5" y1="865" x2="1711.5" y2="851" stroke="#000" stroke-width="2.8"/>
<text x="1700.10" y="910.00" font-size="44" fill="#000" textLength="23.10" lengthAdjust="spacingAndGlyphs">9</text>
<line x1="1821.7" y1="865" x2="1821.7" y2="851" stroke="#000" stroke-width="2.8"/>
<text x="1796.93" y="910.00" font-size="44" fill="#000" textLength="46.20" lengthAdjust="spacingAndGlyphs">14</text>
<line x1="1932" y1="865" x2="1932" y2="851" stroke="#000" stroke-width="2.8"/>
<text x="1907.77" y="910.00" font-size="44" fill="#000" textLength="46.20" lengthAdjust="spacingAndGlyphs">19</text>
<text x="1751.96" y="965.00" font-size="45.8" font-style="italic" fill="#000" textLength="32.76" lengthAdjust="spacingAndGlyphs">N</text>
<text x="1565.56" y="474.60" font-size="44" fill="#000" textLength="46.59" lengthAdjust="spacingAndGlyphs">(e)</text>
<circle cx="1601.2" cy="714.2" r="6.6" fill="#ec0a0a"/><circle cx="1623.2" cy="799.8" r="6.6" fill="#ec0a0a"/><circle cx="1645.3" cy="548.1" r="6.6" fill="#ec0a0a"/><circle cx="1667.4" cy="698.7" r="6.6" fill="#ec0a0a"/><circle cx="1689.4" cy="619.5" r="6.6" fill="#ec0a0a"/><circle cx="1711.5" cy="847.8" r="6.6" fill="#ec0a0a"/><circle cx="1733.5" cy="847.8" r="6.6" fill="#ec0a0a"/><circle cx="1755.5" cy="847.8" r="6.6" fill="#ec0a0a"/><circle cx="1777.6" cy="847.8" r="6.6" fill="#ec0a0a"/><circle cx="1799.7" cy="847.8" r="6.6" fill="#ec0a0a"/><circle cx="1821.7" cy="847.8" r="6.6" fill="#ec0a0a"/><circle cx="1843.8" cy="847.8" r="6.6" fill="#ec0a0a"/><circle cx="1865.8" cy="847.8" r="6.6" fill="#ec0a0a"/><circle cx="1887.9" cy="847.8" r="6.6" fill="#ec0a0a"/><circle cx="1909.9" cy="847.8" r="6.6" fill="#ec0a0a"/><circle cx="1932" cy="847.8" r="6.6" fill="#ec0a0a"/>
<g transform="translate(1995.3 711.7) rotate(-90)"><text x="-1.32" y="0.00" font-size="41" font-style="italic" fill="#000" textLength="28.07" lengthAdjust="spacingAndGlyphs">ω</text><use href="#calC" transform="translate(28.00 -13.50) scale(0.7000 0.7111)" stroke="#000" stroke-width="2.6"/><path d="M48.4 -1.5 L61.7 11 M61.7 -1.5 L48.4 11" stroke="#000" stroke-width="2.2"/></g>
<text x="1582.00" y="86.10" font-size="45.5" fill="#000" textLength="256.38" lengthAdjust="spacingAndGlyphs">bending angle</text>
<text x="1558.04" y="148.30" font-size="42" fill="#000" textLength="51.91" lengthAdjust="spacingAndGlyphs">(d)</text>
<text x="1699.32" y="136.80" font-size="56" font-style="italic" fill="#000" textLength="36.72" lengthAdjust="spacingAndGlyphs" stroke="#fff" stroke-width="1.6">α</text>
<text x="1775.25" y="355.00" font-size="45.5" fill="#000" textLength="260.54" lengthAdjust="spacingAndGlyphs">dihedral angle</text>
<text x="1887.59" y="411.80" font-size="66.7" font-style="italic" fill="#000" textLength="40.86" lengthAdjust="spacingAndGlyphs" stroke="#fff" stroke-width="2.2">ϕ</text>
<path d="M1690.8 335.1 L1640.5 341.7 L1642.5 356.5 L1692.8 349.9 Z" fill="#2fc82f"/><path d="M1640.5 341.7 L1590.2 348.3 L1592.2 363.1 L1642.5 356.5 Z" fill="#b0b0b0"/><path d="M1690.8 335.1 L1590.2 348.3 L1592.2 363.1 L1692.8 349.9 Z" fill="url(#b1)"/><path d="M1700.5 354.8 L1769.8 305.8 L1752.5 281.2 L1683.1 330.2 Z" fill="#38d838"/><path d="M1769.8 305.8 L1839.2 256.8 L1821.8 232.2 L1752.5 281.2 Z" fill="#3c4ce0"/><path d="M1700.5 354.8 L1839.2 256.8 L1821.8 232.2 L1683.1 330.2 Z" fill="url(#b2)"/><path d="M1835.3 245.9 L1852.2 189.9 L1842.7 187.1 L1825.7 243.1 Z" fill="#3c4ce0"/><path d="M1852.2 189.9 L1869.2 133.9 L1859.6 131.1 L1842.7 187.1 Z" fill="#f0f0f0"/><path d="M1835.3 245.9 L1869.2 133.9 L1859.6 131.1 L1825.7 243.1 Z" fill="url(#b3)"/><circle cx="1591.2" cy="355.7" r="28" fill="url(#gH)"/><circle cx="1691.8" cy="342.5" r="42" fill="url(#gC)"/><path d="M1686.1 357.7 L1687.4 371.2 L1702.4 369.8 L1701.1 356.3 Z" fill="#22a822"/><path d="M1687.4 371.2 L1688.7 384.7 L1703.7 383.3 L1702.4 369.8 Z" fill="#a8a8a8"/><path d="M1686.1 357.7 L1688.7 384.7 L1703.7 383.3 L1701.1 356.3 Z" fill="url(#b4)"/><circle cx="1698.8" cy="410.5" r="33" fill="url(#gH)"/><circle cx="1864.4" cy="132.5" r="27.5" fill="url(#gH)"/><path d="M1733 292 C1722 260 1728 200 1758 162 C1783 136 1815 125 1842 127 L1848 152 L1836 208 L1800 240 Z" fill="url(#fanG)"/><path d="M1733 292 C1722 260 1728 200 1758 162 C1783 136 1815 125 1842 127" fill="none" stroke="#e42020" stroke-width="4.2" stroke-dasharray="9 12"/><circle cx="1830.5" cy="244.5" r="36.5" fill="url(#gN)"/><path d="M1797 230 C1803 214 1816 207 1830 207" fill="none" stroke="#b02040" stroke-opacity="0.6" stroke-width="4"/><path d="M1721 207.7 L1818.9 310.9 L1752.3 277.6 Z" fill="#ff2a2a" fill-opacity="0.8" stroke="#e01818" stroke-width="2.5" stroke-linejoin="round"/><path d="M1733 213 C1755 225 1785 255 1807 290.5" fill="none" stroke="#d01818" stroke-width="4" stroke-dasharray="9 10"/>
</svg></body></html>
